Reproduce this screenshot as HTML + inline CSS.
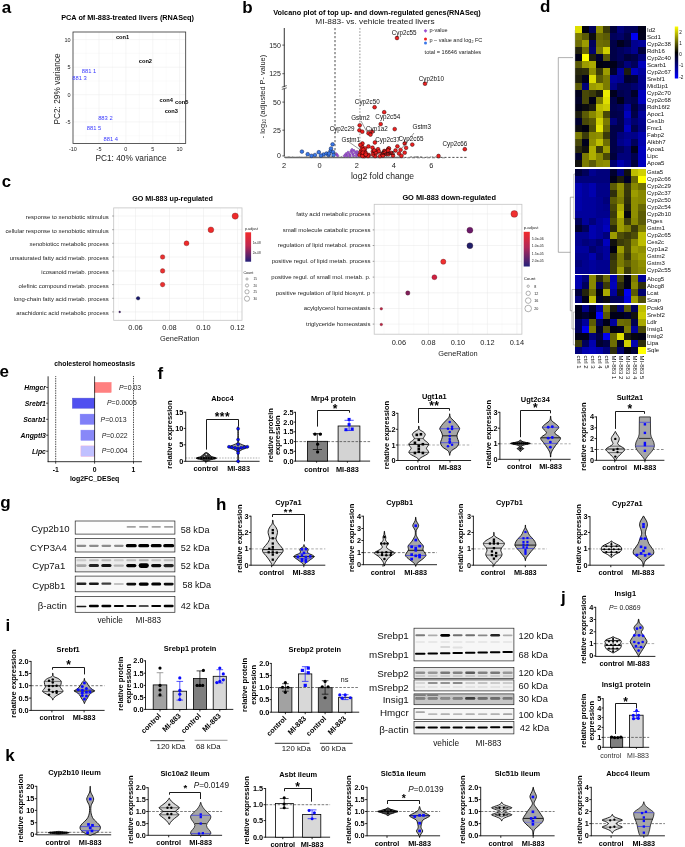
<!DOCTYPE html>
<html><head><meta charset="utf-8"><title>Figure</title>
<style>html,body{margin:0;padding:0;background:#fff}svg{display:block}text{font-family:"Liberation Sans", sans-serif}</style>
</head><body>
<svg width="685" height="847" viewBox="0 0 685 847" font-family='"Liberation Sans", sans-serif'>
<rect width="685" height="847" fill="#fff"/>
<text x="1.70" y="12.60" font-size="17" font-weight="bold">a</text>
<text x="127.60" y="20.00" font-size="7.3" text-anchor="middle" font-weight="bold">PCA of MI-883-treated livers (RNASeq)</text>
<line x1="99.00" y1="32.00" x2="99.00" y2="143.40" stroke="#ebebeb" stroke-width="0.5"/>
<line x1="125.90" y1="32.00" x2="125.90" y2="143.40" stroke="#ebebeb" stroke-width="0.5"/>
<line x1="152.80" y1="32.00" x2="152.80" y2="143.40" stroke="#ebebeb" stroke-width="0.5"/>
<line x1="179.60" y1="32.00" x2="179.60" y2="143.40" stroke="#ebebeb" stroke-width="0.5"/>
<line x1="86.00" y1="32.00" x2="86.00" y2="143.40" stroke="#f3f3f3" stroke-width="0.3"/>
<line x1="112.50" y1="32.00" x2="112.50" y2="143.40" stroke="#f3f3f3" stroke-width="0.3"/>
<line x1="139.30" y1="32.00" x2="139.30" y2="143.40" stroke="#f3f3f3" stroke-width="0.3"/>
<line x1="166.20" y1="32.00" x2="166.20" y2="143.40" stroke="#f3f3f3" stroke-width="0.3"/>
<line x1="73.00" y1="39.60" x2="185.70" y2="39.60" stroke="#ebebeb" stroke-width="0.5"/>
<line x1="73.00" y1="67.20" x2="185.70" y2="67.20" stroke="#ebebeb" stroke-width="0.5"/>
<line x1="73.00" y1="94.70" x2="185.70" y2="94.70" stroke="#ebebeb" stroke-width="0.5"/>
<line x1="73.00" y1="121.90" x2="185.70" y2="121.90" stroke="#ebebeb" stroke-width="0.5"/>
<line x1="73.00" y1="53.40" x2="185.70" y2="53.40" stroke="#f3f3f3" stroke-width="0.3"/>
<line x1="73.00" y1="81.00" x2="185.70" y2="81.00" stroke="#f3f3f3" stroke-width="0.3"/>
<line x1="73.00" y1="108.30" x2="185.70" y2="108.30" stroke="#f3f3f3" stroke-width="0.3"/>
<line x1="73.00" y1="135.60" x2="185.70" y2="135.60" stroke="#f3f3f3" stroke-width="0.3"/>
<rect x="73.00" y="32.00" width="112.70" height="111.40" fill="none" stroke="#333" stroke-width="0.8"/>
<text x="70.50" y="41.50" font-size="5.5" text-anchor="end" fill="#222">10</text>
<text x="70.50" y="69.10" font-size="5.5" text-anchor="end" fill="#222">5</text>
<text x="70.50" y="96.60" font-size="5.5" text-anchor="end" fill="#222">0</text>
<text x="70.50" y="123.80" font-size="5.5" text-anchor="end" fill="#222">-5</text>
<text x="72.90" y="150.80" font-size="5.5" text-anchor="middle" fill="#222">-10</text>
<text x="99.00" y="150.80" font-size="5.5" text-anchor="middle" fill="#222">-5</text>
<text x="125.90" y="150.80" font-size="5.5" text-anchor="middle" fill="#222">0</text>
<text x="152.80" y="150.80" font-size="5.5" text-anchor="middle" fill="#222">5</text>
<text x="179.60" y="150.80" font-size="5.5" text-anchor="middle" fill="#222">10</text>
<text x="131.00" y="161.00" font-size="8.3" text-anchor="middle" fill="#222">PC1: 40% variance</text>
<text transform="translate(60.00 89.00) rotate(-90)" font-size="8.3" text-anchor="middle" fill="#222">PC2: 29% variance</text>
<text x="122.60" y="38.80" font-size="5.7" text-anchor="middle" font-weight="bold">con1</text>
<text x="145.40" y="62.60" font-size="5.7" text-anchor="middle" font-weight="bold">con2</text>
<text x="166.20" y="102.20" font-size="5.7" text-anchor="middle" font-weight="bold">con4</text>
<text x="181.70" y="104.30" font-size="5.7" text-anchor="middle" font-weight="bold">con5</text>
<text x="171.30" y="112.60" font-size="5.7" text-anchor="middle" font-weight="bold">con3</text>
<text x="89.00" y="73.30" font-size="5.8" text-anchor="middle" fill="#3a3aff">881 1</text>
<text x="79.60" y="80.00" font-size="5.8" text-anchor="middle" fill="#3a3aff">881 3</text>
<text x="105.40" y="120.30" font-size="5.8" text-anchor="middle" fill="#3a3aff">883 2</text>
<text x="94.00" y="130.40" font-size="5.8" text-anchor="middle" fill="#3a3aff">881 5</text>
<text x="110.80" y="141.20" font-size="5.8" text-anchor="middle" fill="#3a3aff">881 4</text>
<text x="242.30" y="13.00" font-size="17" font-weight="bold">b</text>
<text x="377.00" y="15.20" font-size="7.3" text-anchor="middle" font-weight="bold">Volcano plot of top up- and down-regulated genes(RNASeq)</text>
<text transform="translate(375 23.9) scale(1.1 1)" font-size="7.55" text-anchor="middle" fill="#1a1a1a">MI-883- vs. vehicle treated livers</text>
<line x1="284.30" y1="28.00" x2="284.30" y2="156.50" stroke="#444" stroke-width="1.1"/>
<line x1="282.30" y1="45.10" x2="284.30" y2="45.10" stroke="#000" stroke-width="0.6"/>
<text x="280.90" y="47.60" font-size="7.0" text-anchor="end" fill="#222">150</text>
<line x1="282.30" y1="73.70" x2="284.30" y2="73.70" stroke="#000" stroke-width="0.6"/>
<text x="280.90" y="76.20" font-size="7.0" text-anchor="end" fill="#222">125</text>
<line x1="282.30" y1="102.10" x2="284.30" y2="102.10" stroke="#000" stroke-width="0.6"/>
<text x="280.90" y="104.60" font-size="7.0" text-anchor="end" fill="#222">50</text>
<line x1="282.30" y1="130.20" x2="284.30" y2="130.20" stroke="#000" stroke-width="0.6"/>
<text x="280.90" y="132.70" font-size="7.0" text-anchor="end" fill="#222">25</text>
<line x1="282.30" y1="155.90" x2="284.30" y2="155.90" stroke="#000" stroke-width="0.6"/>
<text x="280.90" y="158.40" font-size="7.0" text-anchor="end" fill="#222">0</text>
<line x1="281.80" y1="87.20" x2="286.80" y2="85.60" stroke="#000" stroke-width="0.6"/>
<line x1="281.80" y1="89.40" x2="286.80" y2="87.80" stroke="#000" stroke-width="0.6"/>
<rect x="283.70" y="86.90" width="1.20" height="1.40" fill="#fff"/>
<text transform="translate(265.20 96.60) rotate(-90)" font-size="7.4" text-anchor="middle" fill="#222">- log<tspan font-size="4.5" dy="1">10</tspan><tspan dy="-1"> (adjusted  P- value)</tspan></text>
<text x="284.00" y="167.60" font-size="7.4" text-anchor="middle" fill="#222">2</text>
<text x="319.60" y="167.60" font-size="7.4" text-anchor="middle" fill="#222">0</text>
<text x="356.90" y="167.60" font-size="7.4" text-anchor="middle" fill="#222">2</text>
<text x="393.80" y="167.60" font-size="7.4" text-anchor="middle" fill="#222">4</text>
<text x="431.40" y="167.60" font-size="7.4" text-anchor="middle" fill="#222">6</text>
<text x="382.50" y="178.80" font-size="8.6" text-anchor="middle" fill="#222">log2 fold change</text>
<line x1="335.00" y1="28.00" x2="335.00" y2="156.00" stroke="#000" stroke-width="0.7" stroke-dasharray="2.2 1.8"/>
<line x1="359.90" y1="28.00" x2="359.90" y2="156.00" stroke="#777" stroke-width="0.8" stroke-dasharray="1.6 1.6"/>
<line x1="284.30" y1="157.40" x2="468.00" y2="157.40" stroke="#000" stroke-width="0.7" stroke-dasharray="2.2 1.8"/>
<line x1="285.00" y1="157.60" x2="402.00" y2="157.60" stroke="#6a6a6a" stroke-width="1.5"/>
<line x1="402.00" y1="157.80" x2="445.00" y2="157.80" stroke="#8a8a8a" stroke-width="1.0" stroke-dasharray="3 2"/>
<circle cx="321.69" cy="156.93" r="0.60" fill="#777"/>
<circle cx="341.49" cy="156.96" r="0.60" fill="#777"/>
<circle cx="379.86" cy="156.64" r="0.60" fill="#777"/>
<circle cx="287.98" cy="157.10" r="0.60" fill="#777"/>
<circle cx="324.90" cy="156.74" r="0.60" fill="#777"/>
<circle cx="435.35" cy="156.88" r="0.60" fill="#777"/>
<circle cx="411.47" cy="156.89" r="0.60" fill="#777"/>
<circle cx="381.86" cy="156.69" r="0.60" fill="#777"/>
<circle cx="381.23" cy="157.12" r="0.60" fill="#777"/>
<circle cx="364.48" cy="157.04" r="0.60" fill="#777"/>
<circle cx="386.71" cy="156.64" r="0.60" fill="#777"/>
<circle cx="399.73" cy="156.95" r="0.60" fill="#777"/>
<circle cx="331.19" cy="156.62" r="0.60" fill="#777"/>
<circle cx="415.83" cy="156.88" r="0.60" fill="#777"/>
<circle cx="393.82" cy="157.13" r="0.60" fill="#777"/>
<circle cx="393.12" cy="157.15" r="0.60" fill="#777"/>
<circle cx="345.24" cy="157.08" r="0.60" fill="#777"/>
<circle cx="352.69" cy="157.16" r="0.60" fill="#777"/>
<circle cx="417.83" cy="156.66" r="0.60" fill="#777"/>
<circle cx="306.40" cy="156.73" r="0.60" fill="#777"/>
<circle cx="430.82" cy="156.86" r="0.60" fill="#777"/>
<circle cx="380.00" cy="156.78" r="0.60" fill="#777"/>
<circle cx="362.09" cy="156.83" r="0.60" fill="#777"/>
<circle cx="338.64" cy="156.95" r="0.60" fill="#777"/>
<circle cx="373.64" cy="157.14" r="0.60" fill="#777"/>
<circle cx="388.30" cy="157.16" r="0.60" fill="#777"/>
<circle cx="414.46" cy="157.19" r="0.60" fill="#777"/>
<circle cx="386.69" cy="156.70" r="0.60" fill="#777"/>
<circle cx="415.10" cy="157.18" r="0.60" fill="#777"/>
<circle cx="421.70" cy="156.94" r="0.60" fill="#777"/>
<circle cx="393.07" cy="156.73" r="0.60" fill="#777"/>
<circle cx="410.74" cy="156.94" r="0.60" fill="#777"/>
<circle cx="328.74" cy="156.64" r="0.60" fill="#777"/>
<circle cx="414.09" cy="157.19" r="0.60" fill="#777"/>
<circle cx="299.28" cy="157.08" r="0.60" fill="#777"/>
<circle cx="347.57" cy="156.69" r="0.60" fill="#777"/>
<circle cx="330.08" cy="157.06" r="0.60" fill="#777"/>
<circle cx="416.92" cy="156.63" r="0.60" fill="#777"/>
<circle cx="378.18" cy="156.63" r="0.60" fill="#777"/>
<circle cx="393.77" cy="156.80" r="0.60" fill="#777"/>
<circle cx="418.14" cy="157.19" r="0.60" fill="#777"/>
<circle cx="361.81" cy="157.20" r="0.60" fill="#777"/>
<circle cx="332.45" cy="156.65" r="0.60" fill="#777"/>
<circle cx="375.96" cy="156.62" r="0.60" fill="#777"/>
<circle cx="315.61" cy="156.84" r="0.60" fill="#777"/>
<circle cx="377.57" cy="156.69" r="0.60" fill="#777"/>
<circle cx="292.37" cy="157.12" r="0.60" fill="#777"/>
<circle cx="333.07" cy="157.18" r="0.60" fill="#777"/>
<circle cx="420.50" cy="156.83" r="0.60" fill="#777"/>
<circle cx="355.06" cy="156.91" r="0.60" fill="#777"/>
<circle cx="382.58" cy="156.96" r="0.60" fill="#777"/>
<circle cx="369.89" cy="156.97" r="0.60" fill="#777"/>
<circle cx="427.09" cy="156.90" r="0.60" fill="#777"/>
<circle cx="350.68" cy="157.03" r="0.60" fill="#777"/>
<circle cx="321.65" cy="156.78" r="0.60" fill="#777"/>
<circle cx="432.67" cy="156.91" r="0.60" fill="#777"/>
<circle cx="368.26" cy="156.61" r="0.60" fill="#777"/>
<circle cx="348.28" cy="156.95" r="0.60" fill="#777"/>
<circle cx="289.01" cy="156.97" r="0.60" fill="#777"/>
<circle cx="380.83" cy="156.64" r="0.60" fill="#777"/>
<path d="M336.5 152.5L338.0 154.2L336.5 155.9L335.0 154.2Z" fill="#9a4fd0" stroke="#4a2070" stroke-width="0.3"/>
<path d="M337.5 153.8L339.0 155.5L337.5 157.2L336.0 155.5Z" fill="#9a4fd0" stroke="#4a2070" stroke-width="0.3"/>
<path d="M346.0 152.3L347.5 154.0L346.0 155.7L344.5 154.0Z" fill="#9a4fd0" stroke="#4a2070" stroke-width="0.3"/>
<path d="M348.0 150.8L349.5 152.5L348.0 154.2L346.5 152.5Z" fill="#9a4fd0" stroke="#4a2070" stroke-width="0.3"/>
<path d="M349.5 152.8L351.0 154.5L349.5 156.2L348.0 154.5Z" fill="#9a4fd0" stroke="#4a2070" stroke-width="0.3"/>
<path d="M351.0 149.8L352.5 151.5L351.0 153.2L349.5 151.5Z" fill="#9a4fd0" stroke="#4a2070" stroke-width="0.3"/>
<path d="M352.5 151.8L354.0 153.5L352.5 155.2L351.0 153.5Z" fill="#9a4fd0" stroke="#4a2070" stroke-width="0.3"/>
<path d="M354.0 149.1L355.5 150.8L354.0 152.5L352.5 150.8Z" fill="#9a4fd0" stroke="#4a2070" stroke-width="0.3"/>
<path d="M355.5 151.3L357.0 153.0L355.5 154.7L354.0 153.0Z" fill="#9a4fd0" stroke="#4a2070" stroke-width="0.3"/>
<path d="M357.0 150.1L358.5 151.8L357.0 153.5L355.5 151.8Z" fill="#9a4fd0" stroke="#4a2070" stroke-width="0.3"/>
<path d="M358.0 152.3L359.5 154.0L358.0 155.7L356.5 154.0Z" fill="#9a4fd0" stroke="#4a2070" stroke-width="0.3"/>
<path d="M350.0 154.3L351.5 156.0L350.0 157.7L348.5 156.0Z" fill="#9a4fd0" stroke="#4a2070" stroke-width="0.3"/>
<path d="M347.0 154.1L348.5 155.8L347.0 157.5L345.5 155.8Z" fill="#9a4fd0" stroke="#4a2070" stroke-width="0.3"/>
<path d="M353.5 153.8L355.0 155.5L353.5 157.2L352.0 155.5Z" fill="#9a4fd0" stroke="#4a2070" stroke-width="0.3"/>
<path d="M356.5 154.1L358.0 155.8L356.5 157.5L355.0 155.8Z" fill="#9a4fd0" stroke="#4a2070" stroke-width="0.3"/>
<path d="M344.5 154.1L346.0 155.8L344.5 157.5L343.0 155.8Z" fill="#9a4fd0" stroke="#4a2070" stroke-width="0.3"/>
<path d="M352.0 148.1L353.5 149.8L352.0 151.5L350.5 149.8Z" fill="#9a4fd0" stroke="#4a2070" stroke-width="0.3"/>
<circle cx="301.90" cy="151.60" r="1.85" fill="#3a78e8" stroke="#0c1840" stroke-width="0.45"/>
<circle cx="307.70" cy="154.20" r="1.85" fill="#3a78e8" stroke="#0c1840" stroke-width="0.45"/>
<circle cx="318.80" cy="152.20" r="1.85" fill="#3a78e8" stroke="#0c1840" stroke-width="0.45"/>
<circle cx="315.00" cy="155.00" r="1.85" fill="#3a78e8" stroke="#0c1840" stroke-width="0.45"/>
<circle cx="323.50" cy="154.50" r="1.85" fill="#3a78e8" stroke="#0c1840" stroke-width="0.45"/>
<circle cx="326.50" cy="153.50" r="1.85" fill="#3a78e8" stroke="#0c1840" stroke-width="0.45"/>
<circle cx="328.50" cy="155.00" r="1.85" fill="#3a78e8" stroke="#0c1840" stroke-width="0.45"/>
<circle cx="330.50" cy="151.00" r="1.85" fill="#3a78e8" stroke="#0c1840" stroke-width="0.45"/>
<circle cx="332.60" cy="144.30" r="1.85" fill="#3a78e8" stroke="#0c1840" stroke-width="0.45"/>
<circle cx="331.00" cy="148.50" r="1.85" fill="#3a78e8" stroke="#0c1840" stroke-width="0.45"/>
<circle cx="333.00" cy="152.00" r="1.85" fill="#3a78e8" stroke="#0c1840" stroke-width="0.45"/>
<circle cx="329.00" cy="153.50" r="1.85" fill="#3a78e8" stroke="#0c1840" stroke-width="0.45"/>
<circle cx="333.50" cy="155.00" r="1.85" fill="#3a78e8" stroke="#0c1840" stroke-width="0.45"/>
<circle cx="321.00" cy="155.60" r="1.85" fill="#3a78e8" stroke="#0c1840" stroke-width="0.45"/>
<circle cx="311.50" cy="155.80" r="1.85" fill="#3a78e8" stroke="#0c1840" stroke-width="0.45"/>
<circle cx="372.85" cy="151.62" r="1.90" fill="#ee2020" stroke="#200000" stroke-width="0.45"/>
<circle cx="386.76" cy="153.58" r="1.90" fill="#ee2020" stroke="#200000" stroke-width="0.45"/>
<circle cx="374.48" cy="151.42" r="1.90" fill="#ee2020" stroke="#200000" stroke-width="0.45"/>
<circle cx="364.95" cy="151.64" r="1.90" fill="#ee2020" stroke="#200000" stroke-width="0.45"/>
<circle cx="378.08" cy="149.20" r="1.90" fill="#ee2020" stroke="#200000" stroke-width="0.45"/>
<circle cx="362.28" cy="154.03" r="1.90" fill="#ee2020" stroke="#200000" stroke-width="0.45"/>
<circle cx="362.17" cy="146.74" r="1.90" fill="#ee2020" stroke="#200000" stroke-width="0.45"/>
<circle cx="379.96" cy="156.12" r="1.90" fill="#ee2020" stroke="#200000" stroke-width="0.45"/>
<circle cx="388.47" cy="148.70" r="1.90" fill="#ee2020" stroke="#200000" stroke-width="0.45"/>
<circle cx="378.79" cy="151.48" r="1.90" fill="#ee2020" stroke="#200000" stroke-width="0.45"/>
<circle cx="364.15" cy="156.18" r="1.90" fill="#ee2020" stroke="#200000" stroke-width="0.45"/>
<circle cx="375.09" cy="156.05" r="1.90" fill="#ee2020" stroke="#200000" stroke-width="0.45"/>
<circle cx="365.11" cy="154.72" r="1.90" fill="#ee2020" stroke="#200000" stroke-width="0.45"/>
<circle cx="360.39" cy="151.99" r="1.90" fill="#ee2020" stroke="#200000" stroke-width="0.45"/>
<circle cx="372.50" cy="147.70" r="1.90" fill="#ee2020" stroke="#200000" stroke-width="0.45"/>
<circle cx="374.81" cy="150.80" r="1.90" fill="#ee2020" stroke="#200000" stroke-width="0.45"/>
<circle cx="374.24" cy="150.45" r="1.90" fill="#ee2020" stroke="#200000" stroke-width="0.45"/>
<circle cx="372.99" cy="154.60" r="1.90" fill="#ee2020" stroke="#200000" stroke-width="0.45"/>
<circle cx="388.93" cy="148.43" r="1.90" fill="#ee2020" stroke="#200000" stroke-width="0.45"/>
<circle cx="384.29" cy="151.01" r="1.90" fill="#ee2020" stroke="#200000" stroke-width="0.45"/>
<circle cx="368.80" cy="154.91" r="1.90" fill="#ee2020" stroke="#200000" stroke-width="0.45"/>
<circle cx="368.03" cy="155.98" r="1.90" fill="#ee2020" stroke="#200000" stroke-width="0.45"/>
<circle cx="382.11" cy="153.88" r="1.90" fill="#ee2020" stroke="#200000" stroke-width="0.45"/>
<circle cx="384.47" cy="154.11" r="1.90" fill="#ee2020" stroke="#200000" stroke-width="0.45"/>
<circle cx="387.76" cy="149.92" r="1.90" fill="#ee2020" stroke="#200000" stroke-width="0.45"/>
<circle cx="359.52" cy="154.90" r="1.90" fill="#ee2020" stroke="#200000" stroke-width="0.45"/>
<circle cx="386.35" cy="153.52" r="1.90" fill="#ee2020" stroke="#200000" stroke-width="0.45"/>
<circle cx="388.42" cy="154.22" r="1.90" fill="#ee2020" stroke="#200000" stroke-width="0.45"/>
<circle cx="361.65" cy="149.67" r="1.90" fill="#ee2020" stroke="#200000" stroke-width="0.45"/>
<circle cx="382.47" cy="154.93" r="1.90" fill="#ee2020" stroke="#200000" stroke-width="0.45"/>
<circle cx="362.07" cy="153.71" r="1.90" fill="#ee2020" stroke="#200000" stroke-width="0.45"/>
<circle cx="387.94" cy="150.91" r="1.90" fill="#ee2020" stroke="#200000" stroke-width="0.45"/>
<circle cx="362.98" cy="154.63" r="1.90" fill="#ee2020" stroke="#200000" stroke-width="0.45"/>
<circle cx="362.48" cy="156.01" r="1.90" fill="#ee2020" stroke="#200000" stroke-width="0.45"/>
<circle cx="383.01" cy="155.53" r="1.90" fill="#ee2020" stroke="#200000" stroke-width="0.45"/>
<circle cx="376.00" cy="153.11" r="1.90" fill="#ee2020" stroke="#200000" stroke-width="0.45"/>
<circle cx="365.13" cy="148.43" r="1.90" fill="#ee2020" stroke="#200000" stroke-width="0.45"/>
<circle cx="363.36" cy="149.61" r="1.90" fill="#ee2020" stroke="#200000" stroke-width="0.45"/>
<circle cx="362.94" cy="152.70" r="1.90" fill="#ee2020" stroke="#200000" stroke-width="0.45"/>
<circle cx="365.78" cy="154.48" r="1.90" fill="#ee2020" stroke="#200000" stroke-width="0.45"/>
<circle cx="388.14" cy="150.46" r="1.90" fill="#ee2020" stroke="#200000" stroke-width="0.45"/>
<circle cx="368.47" cy="146.40" r="1.90" fill="#ee2020" stroke="#200000" stroke-width="0.45"/>
<circle cx="365.72" cy="153.15" r="1.90" fill="#ee2020" stroke="#200000" stroke-width="0.45"/>
<circle cx="384.70" cy="151.76" r="1.90" fill="#ee2020" stroke="#200000" stroke-width="0.45"/>
<circle cx="362.46" cy="143.48" r="1.90" fill="#ee2020" stroke="#200000" stroke-width="0.45"/>
<circle cx="365.79" cy="154.59" r="1.90" fill="#ee2020" stroke="#200000" stroke-width="0.45"/>
<circle cx="391.50" cy="153.00" r="1.90" fill="#ee2020" stroke="#200000" stroke-width="0.45"/>
<circle cx="393.00" cy="155.50" r="1.90" fill="#ee2020" stroke="#200000" stroke-width="0.45"/>
<circle cx="399.00" cy="153.50" r="1.90" fill="#ee2020" stroke="#200000" stroke-width="0.45"/>
<circle cx="401.50" cy="155.80" r="1.90" fill="#ee2020" stroke="#200000" stroke-width="0.45"/>
<circle cx="395.50" cy="150.50" r="1.90" fill="#ee2020" stroke="#200000" stroke-width="0.45"/>
<circle cx="374.60" cy="107.20" r="1.90" fill="#ee2020" stroke="#200000" stroke-width="0.45"/>
<circle cx="384.20" cy="112.20" r="1.90" fill="#ee2020" stroke="#200000" stroke-width="0.45"/>
<circle cx="380.70" cy="124.10" r="1.90" fill="#ee2020" stroke="#200000" stroke-width="0.45"/>
<circle cx="359.70" cy="125.30" r="1.90" fill="#ee2020" stroke="#200000" stroke-width="0.45"/>
<circle cx="359.40" cy="130.30" r="1.90" fill="#ee2020" stroke="#200000" stroke-width="0.45"/>
<circle cx="362.30" cy="131.70" r="1.90" fill="#ee2020" stroke="#200000" stroke-width="0.45"/>
<circle cx="368.50" cy="133.20" r="1.90" fill="#ee2020" stroke="#200000" stroke-width="0.45"/>
<circle cx="370.50" cy="134.60" r="1.90" fill="#ee2020" stroke="#200000" stroke-width="0.45"/>
<circle cx="372.00" cy="131.70" r="1.90" fill="#ee2020" stroke="#200000" stroke-width="0.45"/>
<circle cx="394.70" cy="129.10" r="1.90" fill="#ee2020" stroke="#200000" stroke-width="0.45"/>
<circle cx="360.30" cy="144.90" r="1.90" fill="#ee2020" stroke="#200000" stroke-width="0.45"/>
<circle cx="374.90" cy="142.50" r="1.90" fill="#ee2020" stroke="#200000" stroke-width="0.45"/>
<circle cx="404.70" cy="143.40" r="1.90" fill="#ee2020" stroke="#200000" stroke-width="0.45"/>
<circle cx="412.30" cy="144.60" r="1.90" fill="#ee2020" stroke="#200000" stroke-width="0.45"/>
<circle cx="397.40" cy="146.30" r="1.90" fill="#ee2020" stroke="#200000" stroke-width="0.45"/>
<circle cx="400.60" cy="149.80" r="1.90" fill="#ee2020" stroke="#200000" stroke-width="0.45"/>
<circle cx="406.10" cy="147.80" r="1.90" fill="#ee2020" stroke="#200000" stroke-width="0.45"/>
<circle cx="404.70" cy="152.70" r="1.90" fill="#ee2020" stroke="#200000" stroke-width="0.45"/>
<circle cx="438.50" cy="156.00" r="1.90" fill="#ee2020" stroke="#200000" stroke-width="0.45"/>
<circle cx="464.80" cy="149.20" r="1.90" fill="#ee2020" stroke="#200000" stroke-width="0.45"/>
<circle cx="397.00" cy="38.00" r="1.90" fill="#ee2020" stroke="#200000" stroke-width="0.45"/>
<circle cx="425.00" cy="83.70" r="1.90" fill="#ee2020" stroke="#200000" stroke-width="0.45"/>
<line x1="361.00" y1="121.00" x2="367.00" y2="132.00" stroke="#000" stroke-width="0.4"/>
<line x1="414.00" y1="133.00" x2="402.00" y2="148.00" stroke="#000" stroke-width="0.4"/>
<line x1="349.00" y1="142.00" x2="360.50" y2="150.00" stroke="#000" stroke-width="0.4"/>
<line x1="386.00" y1="150.50" x2="372.00" y2="155.00" stroke="#000" stroke-width="0.3"/>
<text x="404.20" y="34.60" font-size="6.3" text-anchor="middle" fill="#111">Cyp2c55</text>
<text x="431.40" y="80.60" font-size="6.3" text-anchor="middle" fill="#111">Cyp2b10</text>
<text x="367.30" y="103.50" font-size="6.3" text-anchor="middle" fill="#111">Cyp2c50</text>
<text x="387.80" y="119.20" font-size="6.3" text-anchor="middle" fill="#111">Cyp2c54</text>
<text x="360.50" y="119.60" font-size="6.3" text-anchor="middle" fill="#111">Gstm2</text>
<text x="342.10" y="130.80" font-size="6.3" text-anchor="middle" fill="#111">Cyp2c29</text>
<text x="376.80" y="130.80" font-size="6.3" text-anchor="middle" fill="#111">Cyp1a2</text>
<text x="350.80" y="142.30" font-size="6.3" text-anchor="middle" fill="#111">Gstm1</text>
<text x="387.70" y="141.80" font-size="6.3" text-anchor="middle" fill="#111">Cyp2c37</text>
<text x="411.00" y="140.60" font-size="6.3" text-anchor="middle" fill="#111">Cyp2c65</text>
<text x="421.80" y="129.00" font-size="6.3" text-anchor="middle" fill="#111">Gstm3</text>
<text x="454.90" y="145.80" font-size="6.3" text-anchor="middle" fill="#111">Cyp2c66</text>
<text x="388.00" y="154.80" font-size="5" text-anchor="middle" fill="#111">Gsta5</text>
<path d="M425.5 28.9L427.3 30.8L425.5 32.7L423.7 30.8Z" fill="#9a4fd0"/>
<circle cx="425.50" cy="38.90" r="1.50" fill="#ee2020"/>
<circle cx="425.50" cy="43.00" r="1.50" fill="#3a78e8"/>
<text x="429.50" y="32.20" font-size="5.5" fill="#222">p-value</text>
<text x="429.50" y="41.80" font-size="5.5" fill="#222">p – value and log<tspan font-size="3.6" dy="0.8">2</tspan><tspan dy="-0.8"> FC</tspan></text>
<text x="424.60" y="53.50" font-size="5.6" fill="#222">total = 16646 variables</text>
<text x="1.80" y="187.10" font-size="16.8" font-weight="bold">c</text>
<text x="172.50" y="200.60" font-size="7.15" text-anchor="middle" font-weight="bold">GO MI-883 up-regulated</text>
<line x1="135.50" y1="207.90" x2="135.50" y2="320.30" stroke="#e8e8e8" stroke-width="0.5"/>
<line x1="169.50" y1="207.90" x2="169.50" y2="320.30" stroke="#e8e8e8" stroke-width="0.5"/>
<line x1="203.50" y1="207.90" x2="203.50" y2="320.30" stroke="#e8e8e8" stroke-width="0.5"/>
<line x1="237.50" y1="207.90" x2="237.50" y2="320.30" stroke="#e8e8e8" stroke-width="0.5"/>
<line x1="118.50" y1="207.90" x2="118.50" y2="320.30" stroke="#f2f2f2" stroke-width="0.3"/>
<line x1="152.50" y1="207.90" x2="152.50" y2="320.30" stroke="#f2f2f2" stroke-width="0.3"/>
<line x1="186.50" y1="207.90" x2="186.50" y2="320.30" stroke="#f2f2f2" stroke-width="0.3"/>
<line x1="220.50" y1="207.90" x2="220.50" y2="320.30" stroke="#f2f2f2" stroke-width="0.3"/>
<line x1="113.70" y1="216.00" x2="242.00" y2="216.00" stroke="#e8e8e8" stroke-width="0.5"/>
<line x1="113.70" y1="229.70" x2="242.00" y2="229.70" stroke="#e8e8e8" stroke-width="0.5"/>
<line x1="113.70" y1="243.30" x2="242.00" y2="243.30" stroke="#e8e8e8" stroke-width="0.5"/>
<line x1="113.70" y1="257.00" x2="242.00" y2="257.00" stroke="#e8e8e8" stroke-width="0.5"/>
<line x1="113.70" y1="270.90" x2="242.00" y2="270.90" stroke="#e8e8e8" stroke-width="0.5"/>
<line x1="113.70" y1="284.60" x2="242.00" y2="284.60" stroke="#e8e8e8" stroke-width="0.5"/>
<line x1="113.70" y1="298.30" x2="242.00" y2="298.30" stroke="#e8e8e8" stroke-width="0.5"/>
<line x1="113.70" y1="311.90" x2="242.00" y2="311.90" stroke="#e8e8e8" stroke-width="0.5"/>
<rect x="113.70" y="207.90" width="128.30" height="112.40" fill="none" stroke="#c4c4c4" stroke-width="0.8"/>
<line x1="112.20" y1="216.00" x2="113.70" y2="216.00" stroke="#444" stroke-width="0.5"/>
<line x1="112.20" y1="229.70" x2="113.70" y2="229.70" stroke="#444" stroke-width="0.5"/>
<line x1="112.20" y1="243.30" x2="113.70" y2="243.30" stroke="#444" stroke-width="0.5"/>
<line x1="112.20" y1="257.00" x2="113.70" y2="257.00" stroke="#444" stroke-width="0.5"/>
<line x1="112.20" y1="270.90" x2="113.70" y2="270.90" stroke="#444" stroke-width="0.5"/>
<line x1="112.20" y1="284.60" x2="113.70" y2="284.60" stroke="#444" stroke-width="0.5"/>
<line x1="112.20" y1="298.30" x2="113.70" y2="298.30" stroke="#444" stroke-width="0.5"/>
<line x1="112.20" y1="311.90" x2="113.70" y2="311.90" stroke="#444" stroke-width="0.5"/>
<text x="108.70" y="219.00" font-size="5.95" text-anchor="end" fill="#222">response to xenobiotic stimulus</text>
<text x="108.70" y="232.70" font-size="5.95" text-anchor="end" fill="#222">cellular response to xenobiotic stimulus</text>
<text x="108.70" y="246.30" font-size="5.95" text-anchor="end" fill="#222">xenobioticc metabolic process</text>
<text x="108.70" y="260.00" font-size="5.95" text-anchor="end" fill="#222">unsaturated fatty acid metab. process</text>
<text x="108.70" y="273.90" font-size="5.95" text-anchor="end" fill="#222">icosanoid metab. process</text>
<text x="108.70" y="287.60" font-size="5.95" text-anchor="end" fill="#222">olefinic compound metab. process</text>
<text x="108.70" y="301.30" font-size="5.95" text-anchor="end" fill="#222">long-chain fatty acid metab. process</text>
<text x="108.70" y="314.90" font-size="5.95" text-anchor="end" fill="#222">arachidonic acid metabolic process</text>
<text x="135.50" y="329.80" font-size="7.4" text-anchor="middle" fill="#222">0.06</text>
<text x="169.50" y="329.80" font-size="7.4" text-anchor="middle" fill="#222">0.08</text>
<text x="203.50" y="329.80" font-size="7.4" text-anchor="middle" fill="#222">0.10</text>
<text x="237.50" y="329.80" font-size="7.4" text-anchor="middle" fill="#222">0.12</text>
<text x="179.70" y="340.80" font-size="7.4" text-anchor="middle" fill="#222">GeneRation</text>
<circle cx="235.20" cy="216.10" r="3.15" fill="#ee2a2a" stroke="#501010" stroke-width="0.3"/>
<circle cx="210.90" cy="229.80" r="2.90" fill="#ee2a2a" stroke="#501010" stroke-width="0.3"/>
<circle cx="186.50" cy="243.30" r="2.50" fill="#ee2a2a" stroke="#501010" stroke-width="0.3"/>
<circle cx="162.60" cy="257.00" r="2.30" fill="#ea3030" stroke="#501010" stroke-width="0.3"/>
<circle cx="162.60" cy="270.90" r="2.30" fill="#ea3030" stroke="#501010" stroke-width="0.3"/>
<circle cx="162.60" cy="284.60" r="2.30" fill="#ea3030" stroke="#501010" stroke-width="0.3"/>
<circle cx="138.10" cy="298.30" r="1.80" fill="#1a1a6a" stroke="#101030" stroke-width="0.3"/>
<circle cx="119.70" cy="311.90" r="0.90" fill="#401060" stroke="#101030" stroke-width="0.3"/>
<defs><linearGradient id="g1" x1="0" y1="0" x2="0" y2="1"><stop offset="0" stop-color="#f22a2a"/><stop offset="0.45" stop-color="#c02850"/><stop offset="1" stop-color="#24207a"/></linearGradient></defs>
<text x="245.00" y="229.60" font-size="3.7" fill="#222">p.adjust</text>
<rect x="245.30" y="232.30" width="5.80" height="29.40" fill="url(#g1)"/>
<text x="252.80" y="243.60" font-size="3.1" fill="#222">1e-08</text>
<text x="252.80" y="253.70" font-size="3.1" fill="#222">2e-08</text>
<text x="243.40" y="273.60" font-size="3.7" fill="#222">Count</text>
<circle cx="247.00" cy="279.00" r="1.10" fill="#fff" stroke="#222" stroke-width="0.35"/>
<text x="253.50" y="280.10" font-size="3.1" fill="#222">15</text>
<circle cx="247.00" cy="285.50" r="1.60" fill="#fff" stroke="#222" stroke-width="0.35"/>
<text x="253.50" y="286.60" font-size="3.1" fill="#222">20</text>
<circle cx="247.00" cy="291.80" r="2.10" fill="#fff" stroke="#222" stroke-width="0.35"/>
<text x="253.50" y="292.90" font-size="3.1" fill="#222">25</text>
<circle cx="247.00" cy="298.70" r="2.60" fill="#fff" stroke="#222" stroke-width="0.35"/>
<text x="253.50" y="299.80" font-size="3.1" fill="#222">30</text>
<text x="449.20" y="199.60" font-size="7.4" text-anchor="middle" font-weight="bold">GO MI-883 down-regulated</text>
<line x1="398.90" y1="204.30" x2="398.90" y2="334.20" stroke="#e8e8e8" stroke-width="0.5"/>
<line x1="428.40" y1="204.30" x2="428.40" y2="334.20" stroke="#e8e8e8" stroke-width="0.5"/>
<line x1="457.90" y1="204.30" x2="457.90" y2="334.20" stroke="#e8e8e8" stroke-width="0.5"/>
<line x1="487.40" y1="204.30" x2="487.40" y2="334.20" stroke="#e8e8e8" stroke-width="0.5"/>
<line x1="516.90" y1="204.30" x2="516.90" y2="334.20" stroke="#e8e8e8" stroke-width="0.5"/>
<line x1="384.10" y1="204.30" x2="384.10" y2="334.20" stroke="#f2f2f2" stroke-width="0.3"/>
<line x1="413.60" y1="204.30" x2="413.60" y2="334.20" stroke="#f2f2f2" stroke-width="0.3"/>
<line x1="443.10" y1="204.30" x2="443.10" y2="334.20" stroke="#f2f2f2" stroke-width="0.3"/>
<line x1="472.60" y1="204.30" x2="472.60" y2="334.20" stroke="#f2f2f2" stroke-width="0.3"/>
<line x1="502.10" y1="204.30" x2="502.10" y2="334.20" stroke="#f2f2f2" stroke-width="0.3"/>
<line x1="374.20" y1="213.90" x2="521.90" y2="213.90" stroke="#e8e8e8" stroke-width="0.5"/>
<line x1="374.20" y1="229.90" x2="521.90" y2="229.90" stroke="#e8e8e8" stroke-width="0.5"/>
<line x1="374.20" y1="245.50" x2="521.90" y2="245.50" stroke="#e8e8e8" stroke-width="0.5"/>
<line x1="374.20" y1="261.30" x2="521.90" y2="261.30" stroke="#e8e8e8" stroke-width="0.5"/>
<line x1="374.20" y1="277.10" x2="521.90" y2="277.10" stroke="#e8e8e8" stroke-width="0.5"/>
<line x1="374.20" y1="292.80" x2="521.90" y2="292.80" stroke="#e8e8e8" stroke-width="0.5"/>
<line x1="374.20" y1="308.50" x2="521.90" y2="308.50" stroke="#e8e8e8" stroke-width="0.5"/>
<line x1="374.20" y1="324.10" x2="521.90" y2="324.10" stroke="#e8e8e8" stroke-width="0.5"/>
<rect x="374.20" y="204.30" width="147.70" height="129.90" fill="none" stroke="#c4c4c4" stroke-width="0.8"/>
<line x1="372.70" y1="213.90" x2="374.20" y2="213.90" stroke="#444" stroke-width="0.5"/>
<line x1="372.70" y1="229.90" x2="374.20" y2="229.90" stroke="#444" stroke-width="0.5"/>
<line x1="372.70" y1="245.50" x2="374.20" y2="245.50" stroke="#444" stroke-width="0.5"/>
<line x1="372.70" y1="261.30" x2="374.20" y2="261.30" stroke="#444" stroke-width="0.5"/>
<line x1="372.70" y1="277.10" x2="374.20" y2="277.10" stroke="#444" stroke-width="0.5"/>
<line x1="372.70" y1="292.80" x2="374.20" y2="292.80" stroke="#444" stroke-width="0.5"/>
<line x1="372.70" y1="308.50" x2="374.20" y2="308.50" stroke="#444" stroke-width="0.5"/>
<line x1="372.70" y1="324.10" x2="374.20" y2="324.10" stroke="#444" stroke-width="0.5"/>
<text x="370.40" y="215.80" font-size="6.0" text-anchor="end" fill="#222">fatty acid metabolic process</text>
<text x="370.40" y="231.80" font-size="6.0" text-anchor="end" fill="#222">small molecule catabolic process</text>
<text x="370.40" y="247.40" font-size="6.0" text-anchor="end" fill="#222">regulation of lipid metabol. process</text>
<text x="370.40" y="263.20" font-size="6.0" text-anchor="end" fill="#222">positive regul. of lipid metab. process</text>
<text x="370.40" y="279.00" font-size="6.0" text-anchor="end" fill="#222">positive regul. of small mol. metab. p.</text>
<text x="370.40" y="294.70" font-size="6.0" text-anchor="end" fill="#222">positive regulation of lipid biosynt. p</text>
<text x="370.40" y="310.40" font-size="6.0" text-anchor="end" fill="#222">acylglycerol homeostasis</text>
<text x="370.40" y="326.00" font-size="6.0" text-anchor="end" fill="#222">triglyceride homeostasis</text>
<text x="398.90" y="344.70" font-size="7.4" text-anchor="middle" fill="#222">0.06</text>
<text x="428.40" y="344.70" font-size="7.4" text-anchor="middle" fill="#222">0.08</text>
<text x="457.90" y="344.70" font-size="7.4" text-anchor="middle" fill="#222">0.10</text>
<text x="487.40" y="344.70" font-size="7.4" text-anchor="middle" fill="#222">0.12</text>
<text x="516.90" y="344.70" font-size="7.4" text-anchor="middle" fill="#222">0.14</text>
<text x="458.00" y="355.60" font-size="7.4" text-anchor="middle" fill="#222">GeneRation</text>
<circle cx="514.30" cy="213.90" r="3.40" fill="#f03030" stroke="#401020" stroke-width="0.3"/>
<circle cx="469.90" cy="230.20" r="3.00" fill="#6a1a6a" stroke="#401020" stroke-width="0.3"/>
<circle cx="469.90" cy="245.70" r="3.00" fill="#20206a" stroke="#401020" stroke-width="0.3"/>
<circle cx="443.30" cy="261.70" r="2.60" fill="#f03030" stroke="#401020" stroke-width="0.3"/>
<circle cx="434.40" cy="277.20" r="2.50" fill="#d02040" stroke="#401020" stroke-width="0.3"/>
<circle cx="407.80" cy="293.00" r="2.20" fill="#80205a" stroke="#401020" stroke-width="0.3"/>
<circle cx="381.30" cy="308.80" r="1.30" fill="#c02040" stroke="#401020" stroke-width="0.3"/>
<circle cx="381.30" cy="324.50" r="1.30" fill="#c02040" stroke="#401020" stroke-width="0.3"/>
<defs><linearGradient id="g2" x1="0" y1="0" x2="0" y2="1"><stop offset="0" stop-color="#f22a2a"/><stop offset="0.45" stop-color="#b02858"/><stop offset="1" stop-color="#24207a"/></linearGradient></defs>
<text x="523.70" y="229.20" font-size="4.2" fill="#222">p.adjust</text>
<rect x="523.70" y="231.80" width="6.10" height="34.70" fill="url(#g2)"/>
<text x="531.80" y="239.50" font-size="3.5" fill="#222">5.0e-06</text>
<text x="531.80" y="246.90" font-size="3.5" fill="#222">1.0e-05</text>
<text x="531.80" y="254.50" font-size="3.5" fill="#222">1.5e-05</text>
<text x="531.80" y="261.90" font-size="3.5" fill="#222">2.0e-05</text>
<text x="523.70" y="280.30" font-size="4.4" fill="#222">Count</text>
<circle cx="528.20" cy="286.20" r="1.20" fill="#fff" stroke="#222" stroke-width="0.35"/>
<text x="534.30" y="287.50" font-size="3.7" fill="#222">8</text>
<circle cx="528.20" cy="293.30" r="2.20" fill="#fff" stroke="#222" stroke-width="0.35"/>
<text x="534.30" y="294.60" font-size="3.7" fill="#222">12</text>
<circle cx="528.20" cy="300.60" r="2.80" fill="#fff" stroke="#222" stroke-width="0.35"/>
<text x="534.30" y="301.90" font-size="3.7" fill="#222">16</text>
<circle cx="528.20" cy="308.50" r="3.30" fill="#fff" stroke="#222" stroke-width="0.35"/>
<text x="534.30" y="309.80" font-size="3.7" fill="#222">20</text>
<text x="540.00" y="11.80" font-size="17" font-weight="bold">d</text>
<g shape-rendering="crispEdges">
<rect x="575.20" y="26.30" width="7.08" height="7.08" fill="#dede00"/>
<rect x="582.23" y="26.30" width="7.08" height="7.08" fill="#000010"/>
<rect x="589.26" y="26.30" width="7.08" height="7.08" fill="#00005b"/>
<rect x="596.29" y="26.30" width="7.08" height="7.08" fill="#8f8f00"/>
<rect x="603.32" y="26.30" width="7.08" height="7.08" fill="#3b3b09"/>
<rect x="610.35" y="26.30" width="7.08" height="7.08" fill="#00003b"/>
<rect x="617.38" y="26.30" width="7.08" height="7.08" fill="#00007b"/>
<rect x="624.41" y="26.30" width="7.08" height="7.08" fill="#00005b"/>
<rect x="631.44" y="26.30" width="7.08" height="7.08" fill="#00005b"/>
<rect x="638.47" y="26.30" width="7.08" height="7.08" fill="#000018"/>
<rect x="575.20" y="33.33" width="7.08" height="7.08" fill="#7b7b01"/>
<rect x="582.23" y="33.33" width="7.08" height="7.08" fill="#5b5b05"/>
<rect x="589.26" y="33.33" width="7.08" height="7.08" fill="#0b0b0f"/>
<rect x="596.29" y="33.33" width="7.08" height="7.08" fill="#686803"/>
<rect x="603.32" y="33.33" width="7.08" height="7.08" fill="#5b5b05"/>
<rect x="610.35" y="33.33" width="7.08" height="7.08" fill="#00005b"/>
<rect x="617.38" y="33.33" width="7.08" height="7.08" fill="#000068"/>
<rect x="624.41" y="33.33" width="7.08" height="7.08" fill="#000048"/>
<rect x="631.44" y="33.33" width="7.08" height="7.08" fill="#0000f2"/>
<rect x="638.47" y="33.33" width="7.08" height="7.08" fill="#00001d"/>
<rect x="575.20" y="40.35" width="7.08" height="7.08" fill="#6e6e03"/>
<rect x="582.23" y="40.35" width="7.08" height="7.08" fill="#9c9c00"/>
<rect x="589.26" y="40.35" width="7.08" height="7.08" fill="#00005b"/>
<rect x="596.29" y="40.35" width="7.08" height="7.08" fill="#6e6e03"/>
<rect x="603.32" y="40.35" width="7.08" height="7.08" fill="#686803"/>
<rect x="610.35" y="40.35" width="7.08" height="7.08" fill="#000048"/>
<rect x="617.38" y="40.35" width="7.08" height="7.08" fill="#00001d"/>
<rect x="624.41" y="40.35" width="7.08" height="7.08" fill="#00003b"/>
<rect x="631.44" y="40.35" width="7.08" height="7.08" fill="#00008f"/>
<rect x="638.47" y="40.35" width="7.08" height="7.08" fill="#00009c"/>
<rect x="575.20" y="47.38" width="7.08" height="7.08" fill="#23230c"/>
<rect x="582.23" y="47.38" width="7.08" height="7.08" fill="#6e6e03"/>
<rect x="589.26" y="47.38" width="7.08" height="7.08" fill="#00006e"/>
<rect x="596.29" y="47.38" width="7.08" height="7.08" fill="#7b7b01"/>
<rect x="603.32" y="47.38" width="7.08" height="7.08" fill="#d0d000"/>
<rect x="610.35" y="47.38" width="7.08" height="7.08" fill="#000048"/>
<rect x="617.38" y="47.38" width="7.08" height="7.08" fill="#00005b"/>
<rect x="624.41" y="47.38" width="7.08" height="7.08" fill="#00006e"/>
<rect x="631.44" y="47.38" width="7.08" height="7.08" fill="#00008f"/>
<rect x="638.47" y="47.38" width="7.08" height="7.08" fill="#00003b"/>
<rect x="575.20" y="54.40" width="7.08" height="7.08" fill="#000018"/>
<rect x="582.23" y="54.40" width="7.08" height="7.08" fill="#ffff00"/>
<rect x="589.26" y="54.40" width="7.08" height="7.08" fill="#1d1d0d"/>
<rect x="596.29" y="54.40" width="7.08" height="7.08" fill="#00002f"/>
<rect x="603.32" y="54.40" width="7.08" height="7.08" fill="#5b5b05"/>
<rect x="610.35" y="54.40" width="7.08" height="7.08" fill="#000048"/>
<rect x="617.38" y="54.40" width="7.08" height="7.08" fill="#00005b"/>
<rect x="624.41" y="54.40" width="7.08" height="7.08" fill="#00003b"/>
<rect x="631.44" y="54.40" width="7.08" height="7.08" fill="#000048"/>
<rect x="638.47" y="54.40" width="7.08" height="7.08" fill="#00007b"/>
<rect x="575.20" y="61.42" width="7.08" height="7.08" fill="#5b5b05"/>
<rect x="582.23" y="61.42" width="7.08" height="7.08" fill="#9c9c00"/>
<rect x="589.26" y="61.42" width="7.08" height="7.08" fill="#a9a900"/>
<rect x="596.29" y="61.42" width="7.08" height="7.08" fill="#000010"/>
<rect x="603.32" y="61.42" width="7.08" height="7.08" fill="#000018"/>
<rect x="610.35" y="61.42" width="7.08" height="7.08" fill="#000018"/>
<rect x="617.38" y="61.42" width="7.08" height="7.08" fill="#000048"/>
<rect x="624.41" y="61.42" width="7.08" height="7.08" fill="#00007b"/>
<rect x="631.44" y="61.42" width="7.08" height="7.08" fill="#00005b"/>
<rect x="638.47" y="61.42" width="7.08" height="7.08" fill="#0000bd"/>
<rect x="575.20" y="68.45" width="7.08" height="7.08" fill="#29290b"/>
<rect x="582.23" y="68.45" width="7.08" height="7.08" fill="#2f2f0b"/>
<rect x="589.26" y="68.45" width="7.08" height="7.08" fill="#8f8f00"/>
<rect x="596.29" y="68.45" width="7.08" height="7.08" fill="#3b3b09"/>
<rect x="603.32" y="68.45" width="7.08" height="7.08" fill="#9c9c00"/>
<rect x="610.35" y="68.45" width="7.08" height="7.08" fill="#00002f"/>
<rect x="617.38" y="68.45" width="7.08" height="7.08" fill="#00009c"/>
<rect x="624.41" y="68.45" width="7.08" height="7.08" fill="#1d1d0d"/>
<rect x="631.44" y="68.45" width="7.08" height="7.08" fill="#0000bd"/>
<rect x="638.47" y="68.45" width="7.08" height="7.08" fill="#00009c"/>
<rect x="575.20" y="75.48" width="7.08" height="7.08" fill="#1d1d0d"/>
<rect x="582.23" y="75.48" width="7.08" height="7.08" fill="#00001d"/>
<rect x="589.26" y="75.48" width="7.08" height="7.08" fill="#dede00"/>
<rect x="596.29" y="75.48" width="7.08" height="7.08" fill="#5b5b05"/>
<rect x="603.32" y="75.48" width="7.08" height="7.08" fill="#7b7b01"/>
<rect x="610.35" y="75.48" width="7.08" height="7.08" fill="#00009c"/>
<rect x="617.38" y="75.48" width="7.08" height="7.08" fill="#00008f"/>
<rect x="624.41" y="75.48" width="7.08" height="7.08" fill="#00002f"/>
<rect x="631.44" y="75.48" width="7.08" height="7.08" fill="#00003b"/>
<rect x="638.47" y="75.48" width="7.08" height="7.08" fill="#00008f"/>
<rect x="575.20" y="82.50" width="7.08" height="7.08" fill="#5b5b05"/>
<rect x="582.23" y="82.50" width="7.08" height="7.08" fill="#00007b"/>
<rect x="589.26" y="82.50" width="7.08" height="7.08" fill="#9c9c00"/>
<rect x="596.29" y="82.50" width="7.08" height="7.08" fill="#a9a900"/>
<rect x="603.32" y="82.50" width="7.08" height="7.08" fill="#7b7b01"/>
<rect x="610.35" y="82.50" width="7.08" height="7.08" fill="#000088"/>
<rect x="617.38" y="82.50" width="7.08" height="7.08" fill="#00005b"/>
<rect x="624.41" y="82.50" width="7.08" height="7.08" fill="#00005b"/>
<rect x="631.44" y="82.50" width="7.08" height="7.08" fill="#00006e"/>
<rect x="638.47" y="82.50" width="7.08" height="7.08" fill="#00008f"/>
<rect x="575.20" y="89.53" width="7.08" height="7.08" fill="#00001d"/>
<rect x="582.23" y="89.53" width="7.08" height="7.08" fill="#484807"/>
<rect x="589.26" y="89.53" width="7.08" height="7.08" fill="#3b3b09"/>
<rect x="596.29" y="89.53" width="7.08" height="7.08" fill="#1d1d0d"/>
<rect x="603.32" y="89.53" width="7.08" height="7.08" fill="#ebeb00"/>
<rect x="610.35" y="89.53" width="7.08" height="7.08" fill="#00001d"/>
<rect x="617.38" y="89.53" width="7.08" height="7.08" fill="#00004e"/>
<rect x="624.41" y="89.53" width="7.08" height="7.08" fill="#00005b"/>
<rect x="631.44" y="89.53" width="7.08" height="7.08" fill="#000029"/>
<rect x="638.47" y="89.53" width="7.08" height="7.08" fill="#0000bd"/>
<rect x="575.20" y="96.55" width="7.08" height="7.08" fill="#000029"/>
<rect x="582.23" y="96.55" width="7.08" height="7.08" fill="#484807"/>
<rect x="589.26" y="96.55" width="7.08" height="7.08" fill="#000018"/>
<rect x="596.29" y="96.55" width="7.08" height="7.08" fill="#7b7b01"/>
<rect x="603.32" y="96.55" width="7.08" height="7.08" fill="#dede00"/>
<rect x="610.35" y="96.55" width="7.08" height="7.08" fill="#000048"/>
<rect x="617.38" y="96.55" width="7.08" height="7.08" fill="#000018"/>
<rect x="624.41" y="96.55" width="7.08" height="7.08" fill="#00005b"/>
<rect x="631.44" y="96.55" width="7.08" height="7.08" fill="#00004e"/>
<rect x="638.47" y="96.55" width="7.08" height="7.08" fill="#0000bd"/>
<rect x="575.20" y="103.58" width="7.08" height="7.08" fill="#000018"/>
<rect x="582.23" y="103.58" width="7.08" height="7.08" fill="#0b0b0f"/>
<rect x="589.26" y="103.58" width="7.08" height="7.08" fill="#1d1d0d"/>
<rect x="596.29" y="103.58" width="7.08" height="7.08" fill="#bdbd00"/>
<rect x="603.32" y="103.58" width="7.08" height="7.08" fill="#caca00"/>
<rect x="610.35" y="103.58" width="7.08" height="7.08" fill="#00004e"/>
<rect x="617.38" y="103.58" width="7.08" height="7.08" fill="#00005b"/>
<rect x="624.41" y="103.58" width="7.08" height="7.08" fill="#00009c"/>
<rect x="631.44" y="103.58" width="7.08" height="7.08" fill="#00003b"/>
<rect x="638.47" y="103.58" width="7.08" height="7.08" fill="#00007b"/>
<rect x="575.20" y="110.60" width="7.08" height="7.08" fill="#1d1d0d"/>
<rect x="582.23" y="110.60" width="7.08" height="7.08" fill="#5b5b05"/>
<rect x="589.26" y="110.60" width="7.08" height="7.08" fill="#888800"/>
<rect x="596.29" y="110.60" width="7.08" height="7.08" fill="#afaf00"/>
<rect x="603.32" y="110.60" width="7.08" height="7.08" fill="#484807"/>
<rect x="610.35" y="110.60" width="7.08" height="7.08" fill="#000048"/>
<rect x="617.38" y="110.60" width="7.08" height="7.08" fill="#00004e"/>
<rect x="624.41" y="110.60" width="7.08" height="7.08" fill="#0000bd"/>
<rect x="631.44" y="110.60" width="7.08" height="7.08" fill="#000048"/>
<rect x="638.47" y="110.60" width="7.08" height="7.08" fill="#00009c"/>
<rect x="575.20" y="117.63" width="7.08" height="7.08" fill="#00002f"/>
<rect x="582.23" y="117.63" width="7.08" height="7.08" fill="#484807"/>
<rect x="589.26" y="117.63" width="7.08" height="7.08" fill="#5b5b05"/>
<rect x="596.29" y="117.63" width="7.08" height="7.08" fill="#d0d000"/>
<rect x="603.32" y="117.63" width="7.08" height="7.08" fill="#7b7b01"/>
<rect x="610.35" y="117.63" width="7.08" height="7.08" fill="#00007b"/>
<rect x="617.38" y="117.63" width="7.08" height="7.08" fill="#00004e"/>
<rect x="624.41" y="117.63" width="7.08" height="7.08" fill="#00009c"/>
<rect x="631.44" y="117.63" width="7.08" height="7.08" fill="#00006e"/>
<rect x="638.47" y="117.63" width="7.08" height="7.08" fill="#00008f"/>
<rect x="575.20" y="124.65" width="7.08" height="7.08" fill="#0b0b0f"/>
<rect x="582.23" y="124.65" width="7.08" height="7.08" fill="#000010"/>
<rect x="589.26" y="124.65" width="7.08" height="7.08" fill="#4e4e07"/>
<rect x="596.29" y="124.65" width="7.08" height="7.08" fill="#e4e400"/>
<rect x="603.32" y="124.65" width="7.08" height="7.08" fill="#686803"/>
<rect x="610.35" y="124.65" width="7.08" height="7.08" fill="#000048"/>
<rect x="617.38" y="124.65" width="7.08" height="7.08" fill="#000048"/>
<rect x="624.41" y="124.65" width="7.08" height="7.08" fill="#0000bd"/>
<rect x="631.44" y="124.65" width="7.08" height="7.08" fill="#00004e"/>
<rect x="638.47" y="124.65" width="7.08" height="7.08" fill="#000088"/>
<rect x="575.20" y="131.68" width="7.08" height="7.08" fill="#7b7b01"/>
<rect x="582.23" y="131.68" width="7.08" height="7.08" fill="#3b3b09"/>
<rect x="589.26" y="131.68" width="7.08" height="7.08" fill="#888800"/>
<rect x="596.29" y="131.68" width="7.08" height="7.08" fill="#8f8f00"/>
<rect x="603.32" y="131.68" width="7.08" height="7.08" fill="#3b3b09"/>
<rect x="610.35" y="131.68" width="7.08" height="7.08" fill="#000048"/>
<rect x="617.38" y="131.68" width="7.08" height="7.08" fill="#00007b"/>
<rect x="624.41" y="131.68" width="7.08" height="7.08" fill="#00008f"/>
<rect x="631.44" y="131.68" width="7.08" height="7.08" fill="#000088"/>
<rect x="638.47" y="131.68" width="7.08" height="7.08" fill="#0000af"/>
<rect x="575.20" y="138.70" width="7.08" height="7.08" fill="#484807"/>
<rect x="582.23" y="138.70" width="7.08" height="7.08" fill="#00001d"/>
<rect x="589.26" y="138.70" width="7.08" height="7.08" fill="#8f8f00"/>
<rect x="596.29" y="138.70" width="7.08" height="7.08" fill="#bdbd00"/>
<rect x="603.32" y="138.70" width="7.08" height="7.08" fill="#6e6e03"/>
<rect x="610.35" y="138.70" width="7.08" height="7.08" fill="#000048"/>
<rect x="617.38" y="138.70" width="7.08" height="7.08" fill="#000088"/>
<rect x="624.41" y="138.70" width="7.08" height="7.08" fill="#00009c"/>
<rect x="631.44" y="138.70" width="7.08" height="7.08" fill="#00005b"/>
<rect x="638.47" y="138.70" width="7.08" height="7.08" fill="#0000af"/>
<rect x="575.20" y="145.73" width="7.08" height="7.08" fill="#29290b"/>
<rect x="582.23" y="145.73" width="7.08" height="7.08" fill="#11110e"/>
<rect x="589.26" y="145.73" width="7.08" height="7.08" fill="#afaf00"/>
<rect x="596.29" y="145.73" width="7.08" height="7.08" fill="#3b3b09"/>
<rect x="603.32" y="145.73" width="7.08" height="7.08" fill="#9c9c00"/>
<rect x="610.35" y="145.73" width="7.08" height="7.08" fill="#000048"/>
<rect x="617.38" y="145.73" width="7.08" height="7.08" fill="#00005b"/>
<rect x="624.41" y="145.73" width="7.08" height="7.08" fill="#00007b"/>
<rect x="631.44" y="145.73" width="7.08" height="7.08" fill="#00001d"/>
<rect x="638.47" y="145.73" width="7.08" height="7.08" fill="#0000bd"/>
<rect x="575.20" y="152.75" width="7.08" height="7.08" fill="#00002f"/>
<rect x="582.23" y="152.75" width="7.08" height="7.08" fill="#7b7b01"/>
<rect x="589.26" y="152.75" width="7.08" height="7.08" fill="#afaf00"/>
<rect x="596.29" y="152.75" width="7.08" height="7.08" fill="#888800"/>
<rect x="603.32" y="152.75" width="7.08" height="7.08" fill="#484807"/>
<rect x="610.35" y="152.75" width="7.08" height="7.08" fill="#00003b"/>
<rect x="617.38" y="152.75" width="7.08" height="7.08" fill="#00007b"/>
<rect x="624.41" y="152.75" width="7.08" height="7.08" fill="#00007b"/>
<rect x="631.44" y="152.75" width="7.08" height="7.08" fill="#00004e"/>
<rect x="638.47" y="152.75" width="7.08" height="7.08" fill="#0000bd"/>
<rect x="575.20" y="159.78" width="7.08" height="7.08" fill="#11110e"/>
<rect x="582.23" y="159.78" width="7.08" height="7.08" fill="#7b7b01"/>
<rect x="589.26" y="159.78" width="7.08" height="7.08" fill="#5b5b05"/>
<rect x="596.29" y="159.78" width="7.08" height="7.08" fill="#888800"/>
<rect x="603.32" y="159.78" width="7.08" height="7.08" fill="#8f8f00"/>
<rect x="610.35" y="159.78" width="7.08" height="7.08" fill="#00006e"/>
<rect x="617.38" y="159.78" width="7.08" height="7.08" fill="#0000af"/>
<rect x="624.41" y="159.78" width="7.08" height="7.08" fill="#00008f"/>
<rect x="631.44" y="159.78" width="7.08" height="7.08" fill="#00003b"/>
<rect x="638.47" y="159.78" width="7.08" height="7.08" fill="#0000bd"/>
<rect x="575.20" y="168.80" width="7.08" height="7.04" fill="#00003b"/>
<rect x="582.23" y="168.80" width="7.08" height="7.04" fill="#00005b"/>
<rect x="589.26" y="168.80" width="7.08" height="7.04" fill="#00008f"/>
<rect x="596.29" y="168.80" width="7.08" height="7.04" fill="#00007b"/>
<rect x="603.32" y="168.80" width="7.08" height="7.04" fill="#00007b"/>
<rect x="610.35" y="168.80" width="7.08" height="7.04" fill="#00002f"/>
<rect x="617.38" y="168.80" width="7.08" height="7.04" fill="#00007b"/>
<rect x="624.41" y="168.80" width="7.08" height="7.04" fill="#11110e"/>
<rect x="631.44" y="168.80" width="7.08" height="7.04" fill="#bdbd00"/>
<rect x="638.47" y="168.80" width="7.08" height="7.04" fill="#d0d000"/>
<rect x="575.20" y="175.79" width="7.08" height="7.04" fill="#00007b"/>
<rect x="582.23" y="175.79" width="7.08" height="7.04" fill="#00007b"/>
<rect x="589.26" y="175.79" width="7.08" height="7.04" fill="#00007b"/>
<rect x="596.29" y="175.79" width="7.08" height="7.04" fill="#00007b"/>
<rect x="603.32" y="175.79" width="7.08" height="7.04" fill="#00007b"/>
<rect x="610.35" y="175.79" width="7.08" height="7.04" fill="#000018"/>
<rect x="617.38" y="175.79" width="7.08" height="7.04" fill="#1d1d0d"/>
<rect x="624.41" y="175.79" width="7.08" height="7.04" fill="#000029"/>
<rect x="631.44" y="175.79" width="7.08" height="7.04" fill="#686803"/>
<rect x="638.47" y="175.79" width="7.08" height="7.04" fill="#ffff00"/>
<rect x="575.20" y="182.77" width="7.08" height="7.04" fill="#0000af"/>
<rect x="582.23" y="182.77" width="7.08" height="7.04" fill="#00009c"/>
<rect x="589.26" y="182.77" width="7.08" height="7.04" fill="#0000af"/>
<rect x="596.29" y="182.77" width="7.08" height="7.04" fill="#000088"/>
<rect x="603.32" y="182.77" width="7.08" height="7.04" fill="#000088"/>
<rect x="610.35" y="182.77" width="7.08" height="7.04" fill="#5b5b05"/>
<rect x="617.38" y="182.77" width="7.08" height="7.04" fill="#8f8f00"/>
<rect x="624.41" y="182.77" width="7.08" height="7.04" fill="#3b3b09"/>
<rect x="631.44" y="182.77" width="7.08" height="7.04" fill="#888800"/>
<rect x="638.47" y="182.77" width="7.08" height="7.04" fill="#6e6e03"/>
<rect x="575.20" y="189.76" width="7.08" height="7.04" fill="#0000af"/>
<rect x="582.23" y="189.76" width="7.08" height="7.04" fill="#00009c"/>
<rect x="589.26" y="189.76" width="7.08" height="7.04" fill="#0000af"/>
<rect x="596.29" y="189.76" width="7.08" height="7.04" fill="#000088"/>
<rect x="603.32" y="189.76" width="7.08" height="7.04" fill="#000088"/>
<rect x="610.35" y="189.76" width="7.08" height="7.04" fill="#2f2f0b"/>
<rect x="617.38" y="189.76" width="7.08" height="7.04" fill="#888800"/>
<rect x="624.41" y="189.76" width="7.08" height="7.04" fill="#35350a"/>
<rect x="631.44" y="189.76" width="7.08" height="7.04" fill="#9c9c00"/>
<rect x="638.47" y="189.76" width="7.08" height="7.04" fill="#888800"/>
<rect x="575.20" y="196.75" width="7.08" height="7.04" fill="#0000a9"/>
<rect x="582.23" y="196.75" width="7.08" height="7.04" fill="#00009c"/>
<rect x="589.26" y="196.75" width="7.08" height="7.04" fill="#00009c"/>
<rect x="596.29" y="196.75" width="7.08" height="7.04" fill="#00008f"/>
<rect x="603.32" y="196.75" width="7.08" height="7.04" fill="#00007b"/>
<rect x="610.35" y="196.75" width="7.08" height="7.04" fill="#5b5b05"/>
<rect x="617.38" y="196.75" width="7.08" height="7.04" fill="#7b7b01"/>
<rect x="624.41" y="196.75" width="7.08" height="7.04" fill="#2f2f0b"/>
<rect x="631.44" y="196.75" width="7.08" height="7.04" fill="#8f8f00"/>
<rect x="638.47" y="196.75" width="7.08" height="7.04" fill="#888800"/>
<rect x="575.20" y="203.73" width="7.08" height="7.04" fill="#0000a9"/>
<rect x="582.23" y="203.73" width="7.08" height="7.04" fill="#00009c"/>
<rect x="589.26" y="203.73" width="7.08" height="7.04" fill="#00009c"/>
<rect x="596.29" y="203.73" width="7.08" height="7.04" fill="#00008f"/>
<rect x="603.32" y="203.73" width="7.08" height="7.04" fill="#000088"/>
<rect x="610.35" y="203.73" width="7.08" height="7.04" fill="#484807"/>
<rect x="617.38" y="203.73" width="7.08" height="7.04" fill="#a9a900"/>
<rect x="624.41" y="203.73" width="7.08" height="7.04" fill="#23230c"/>
<rect x="631.44" y="203.73" width="7.08" height="7.04" fill="#8f8f00"/>
<rect x="638.47" y="203.73" width="7.08" height="7.04" fill="#686803"/>
<rect x="575.20" y="210.72" width="7.08" height="7.04" fill="#00009c"/>
<rect x="582.23" y="210.72" width="7.08" height="7.04" fill="#00009c"/>
<rect x="589.26" y="210.72" width="7.08" height="7.04" fill="#00009c"/>
<rect x="596.29" y="210.72" width="7.08" height="7.04" fill="#00008f"/>
<rect x="603.32" y="210.72" width="7.08" height="7.04" fill="#00008f"/>
<rect x="610.35" y="210.72" width="7.08" height="7.04" fill="#3b3b09"/>
<rect x="617.38" y="210.72" width="7.08" height="7.04" fill="#bdbd00"/>
<rect x="624.41" y="210.72" width="7.08" height="7.04" fill="#050510"/>
<rect x="631.44" y="210.72" width="7.08" height="7.04" fill="#8f8f00"/>
<rect x="638.47" y="210.72" width="7.08" height="7.04" fill="#5b5b05"/>
<rect x="575.20" y="217.71" width="7.08" height="7.04" fill="#00005b"/>
<rect x="582.23" y="217.71" width="7.08" height="7.04" fill="#00009c"/>
<rect x="589.26" y="217.71" width="7.08" height="7.04" fill="#00007b"/>
<rect x="596.29" y="217.71" width="7.08" height="7.04" fill="#00009c"/>
<rect x="603.32" y="217.71" width="7.08" height="7.04" fill="#0000af"/>
<rect x="610.35" y="217.71" width="7.08" height="7.04" fill="#4e4e07"/>
<rect x="617.38" y="217.71" width="7.08" height="7.04" fill="#9c9c00"/>
<rect x="624.41" y="217.71" width="7.08" height="7.04" fill="#3b3b09"/>
<rect x="631.44" y="217.71" width="7.08" height="7.04" fill="#888800"/>
<rect x="638.47" y="217.71" width="7.08" height="7.04" fill="#5b5b05"/>
<rect x="575.20" y="224.70" width="7.08" height="7.04" fill="#00002f"/>
<rect x="582.23" y="224.70" width="7.08" height="7.04" fill="#00005b"/>
<rect x="589.26" y="224.70" width="7.08" height="7.04" fill="#0000af"/>
<rect x="596.29" y="224.70" width="7.08" height="7.04" fill="#00009c"/>
<rect x="603.32" y="224.70" width="7.08" height="7.04" fill="#0000bd"/>
<rect x="610.35" y="224.70" width="7.08" height="7.04" fill="#29290b"/>
<rect x="617.38" y="224.70" width="7.08" height="7.04" fill="#9c9c00"/>
<rect x="624.41" y="224.70" width="7.08" height="7.04" fill="#7b7b01"/>
<rect x="631.44" y="224.70" width="7.08" height="7.04" fill="#3b3b09"/>
<rect x="638.47" y="224.70" width="7.08" height="7.04" fill="#7b7b01"/>
<rect x="575.20" y="231.68" width="7.08" height="7.04" fill="#00008f"/>
<rect x="582.23" y="231.68" width="7.08" height="7.04" fill="#00008f"/>
<rect x="589.26" y="231.68" width="7.08" height="7.04" fill="#0000af"/>
<rect x="596.29" y="231.68" width="7.08" height="7.04" fill="#00009c"/>
<rect x="603.32" y="231.68" width="7.08" height="7.04" fill="#00007b"/>
<rect x="610.35" y="231.68" width="7.08" height="7.04" fill="#9c9c00"/>
<rect x="617.38" y="231.68" width="7.08" height="7.04" fill="#4e4e07"/>
<rect x="624.41" y="231.68" width="7.08" height="7.04" fill="#3b3b09"/>
<rect x="631.44" y="231.68" width="7.08" height="7.04" fill="#4e4e07"/>
<rect x="638.47" y="231.68" width="7.08" height="7.04" fill="#bdbd00"/>
<rect x="575.20" y="238.67" width="7.08" height="7.04" fill="#00008f"/>
<rect x="582.23" y="238.67" width="7.08" height="7.04" fill="#00007b"/>
<rect x="589.26" y="238.67" width="7.08" height="7.04" fill="#000088"/>
<rect x="596.29" y="238.67" width="7.08" height="7.04" fill="#00006e"/>
<rect x="603.32" y="238.67" width="7.08" height="7.04" fill="#0000bd"/>
<rect x="610.35" y="238.67" width="7.08" height="7.04" fill="#11110e"/>
<rect x="617.38" y="238.67" width="7.08" height="7.04" fill="#3b3b09"/>
<rect x="624.41" y="238.67" width="7.08" height="7.04" fill="#484807"/>
<rect x="631.44" y="238.67" width="7.08" height="7.04" fill="#888800"/>
<rect x="638.47" y="238.67" width="7.08" height="7.04" fill="#bdbd00"/>
<rect x="575.20" y="245.66" width="7.08" height="7.04" fill="#00009c"/>
<rect x="582.23" y="245.66" width="7.08" height="7.04" fill="#00009c"/>
<rect x="589.26" y="245.66" width="7.08" height="7.04" fill="#00006e"/>
<rect x="596.29" y="245.66" width="7.08" height="7.04" fill="#000088"/>
<rect x="603.32" y="245.66" width="7.08" height="7.04" fill="#00009c"/>
<rect x="610.35" y="245.66" width="7.08" height="7.04" fill="#000010"/>
<rect x="617.38" y="245.66" width="7.08" height="7.04" fill="#9c9c00"/>
<rect x="624.41" y="245.66" width="7.08" height="7.04" fill="#484807"/>
<rect x="631.44" y="245.66" width="7.08" height="7.04" fill="#9c9c00"/>
<rect x="638.47" y="245.66" width="7.08" height="7.04" fill="#8f8f00"/>
<rect x="575.20" y="252.64" width="7.08" height="7.04" fill="#00008f"/>
<rect x="582.23" y="252.64" width="7.08" height="7.04" fill="#00008f"/>
<rect x="589.26" y="252.64" width="7.08" height="7.04" fill="#0000af"/>
<rect x="596.29" y="252.64" width="7.08" height="7.04" fill="#00007b"/>
<rect x="603.32" y="252.64" width="7.08" height="7.04" fill="#00009c"/>
<rect x="610.35" y="252.64" width="7.08" height="7.04" fill="#2f2f0b"/>
<rect x="617.38" y="252.64" width="7.08" height="7.04" fill="#7b7b01"/>
<rect x="624.41" y="252.64" width="7.08" height="7.04" fill="#3b3b09"/>
<rect x="631.44" y="252.64" width="7.08" height="7.04" fill="#888800"/>
<rect x="638.47" y="252.64" width="7.08" height="7.04" fill="#9c9c00"/>
<rect x="575.20" y="259.63" width="7.08" height="7.04" fill="#00007b"/>
<rect x="582.23" y="259.63" width="7.08" height="7.04" fill="#00008f"/>
<rect x="589.26" y="259.63" width="7.08" height="7.04" fill="#00009c"/>
<rect x="596.29" y="259.63" width="7.08" height="7.04" fill="#00008f"/>
<rect x="603.32" y="259.63" width="7.08" height="7.04" fill="#00008f"/>
<rect x="610.35" y="259.63" width="7.08" height="7.04" fill="#3b3b09"/>
<rect x="617.38" y="259.63" width="7.08" height="7.04" fill="#7b7b01"/>
<rect x="624.41" y="259.63" width="7.08" height="7.04" fill="#5b5b05"/>
<rect x="631.44" y="259.63" width="7.08" height="7.04" fill="#7b7b01"/>
<rect x="638.47" y="259.63" width="7.08" height="7.04" fill="#8f8f00"/>
<rect x="575.20" y="266.62" width="7.08" height="7.04" fill="#00008f"/>
<rect x="582.23" y="266.62" width="7.08" height="7.04" fill="#00008f"/>
<rect x="589.26" y="266.62" width="7.08" height="7.04" fill="#00009c"/>
<rect x="596.29" y="266.62" width="7.08" height="7.04" fill="#00008f"/>
<rect x="603.32" y="266.62" width="7.08" height="7.04" fill="#00008f"/>
<rect x="610.35" y="266.62" width="7.08" height="7.04" fill="#3b3b09"/>
<rect x="617.38" y="266.62" width="7.08" height="7.04" fill="#9c9c00"/>
<rect x="624.41" y="266.62" width="7.08" height="7.04" fill="#3b3b09"/>
<rect x="631.44" y="266.62" width="7.08" height="7.04" fill="#7b7b01"/>
<rect x="638.47" y="266.62" width="7.08" height="7.04" fill="#888800"/>
<rect x="575.20" y="275.30" width="7.08" height="7.03" fill="#0000af"/>
<rect x="582.23" y="275.30" width="7.08" height="7.03" fill="#00007b"/>
<rect x="589.26" y="275.30" width="7.08" height="7.03" fill="#888800"/>
<rect x="596.29" y="275.30" width="7.08" height="7.03" fill="#29290b"/>
<rect x="603.32" y="275.30" width="7.08" height="7.03" fill="#686803"/>
<rect x="610.35" y="275.30" width="7.08" height="7.03" fill="#0000af"/>
<rect x="617.38" y="275.30" width="7.08" height="7.03" fill="#484807"/>
<rect x="624.41" y="275.30" width="7.08" height="7.03" fill="#000018"/>
<rect x="631.44" y="275.30" width="7.08" height="7.03" fill="#7b7b01"/>
<rect x="638.47" y="275.30" width="7.08" height="7.03" fill="#00009c"/>
<rect x="575.20" y="282.28" width="7.08" height="7.03" fill="#0000af"/>
<rect x="582.23" y="282.28" width="7.08" height="7.03" fill="#00005b"/>
<rect x="589.26" y="282.28" width="7.08" height="7.03" fill="#888800"/>
<rect x="596.29" y="282.28" width="7.08" height="7.03" fill="#00005b"/>
<rect x="603.32" y="282.28" width="7.08" height="7.03" fill="#3b3b09"/>
<rect x="610.35" y="282.28" width="7.08" height="7.03" fill="#0000bd"/>
<rect x="617.38" y="282.28" width="7.08" height="7.03" fill="#29290b"/>
<rect x="624.41" y="282.28" width="7.08" height="7.03" fill="#000018"/>
<rect x="631.44" y="282.28" width="7.08" height="7.03" fill="#888800"/>
<rect x="638.47" y="282.28" width="7.08" height="7.03" fill="#2f2f0b"/>
<rect x="575.20" y="289.26" width="7.08" height="7.03" fill="#00003b"/>
<rect x="582.23" y="289.26" width="7.08" height="7.03" fill="#23230c"/>
<rect x="589.26" y="289.26" width="7.08" height="7.03" fill="#6e6e03"/>
<rect x="596.29" y="289.26" width="7.08" height="7.03" fill="#000010"/>
<rect x="603.32" y="289.26" width="7.08" height="7.03" fill="#a9a900"/>
<rect x="610.35" y="289.26" width="7.08" height="7.03" fill="#00009c"/>
<rect x="617.38" y="289.26" width="7.08" height="7.03" fill="#11110e"/>
<rect x="624.41" y="289.26" width="7.08" height="7.03" fill="#0000f2"/>
<rect x="631.44" y="289.26" width="7.08" height="7.03" fill="#5b5b05"/>
<rect x="638.47" y="289.26" width="7.08" height="7.03" fill="#00006e"/>
<rect x="575.20" y="296.24" width="7.08" height="7.03" fill="#00007b"/>
<rect x="582.23" y="296.24" width="7.08" height="7.03" fill="#000018"/>
<rect x="589.26" y="296.24" width="7.08" height="7.03" fill="#bdbd00"/>
<rect x="596.29" y="296.24" width="7.08" height="7.03" fill="#000029"/>
<rect x="603.32" y="296.24" width="7.08" height="7.03" fill="#0b0b0f"/>
<rect x="610.35" y="296.24" width="7.08" height="7.03" fill="#00005b"/>
<rect x="617.38" y="296.24" width="7.08" height="7.03" fill="#00005b"/>
<rect x="624.41" y="296.24" width="7.08" height="7.03" fill="#0000de"/>
<rect x="631.44" y="296.24" width="7.08" height="7.03" fill="#9c9c00"/>
<rect x="638.47" y="296.24" width="7.08" height="7.03" fill="#4e4e07"/>
<rect x="575.20" y="304.90" width="7.08" height="6.99" fill="#000018"/>
<rect x="582.23" y="304.90" width="7.08" height="6.99" fill="#000088"/>
<rect x="589.26" y="304.90" width="7.08" height="6.99" fill="#000029"/>
<rect x="596.29" y="304.90" width="7.08" height="6.99" fill="#00009c"/>
<rect x="603.32" y="304.90" width="7.08" height="6.99" fill="#7b7b01"/>
<rect x="610.35" y="304.90" width="7.08" height="6.99" fill="#17170e"/>
<rect x="617.38" y="304.90" width="7.08" height="6.99" fill="#00007b"/>
<rect x="624.41" y="304.90" width="7.08" height="6.99" fill="#5b5b05"/>
<rect x="631.44" y="304.90" width="7.08" height="6.99" fill="#00005b"/>
<rect x="638.47" y="304.90" width="7.08" height="6.99" fill="#bdbd00"/>
<rect x="575.20" y="311.84" width="7.08" height="6.99" fill="#000018"/>
<rect x="582.23" y="311.84" width="7.08" height="6.99" fill="#00002f"/>
<rect x="589.26" y="311.84" width="7.08" height="6.99" fill="#000010"/>
<rect x="596.29" y="311.84" width="7.08" height="6.99" fill="#0000ff"/>
<rect x="603.32" y="311.84" width="7.08" height="6.99" fill="#5b5b05"/>
<rect x="610.35" y="311.84" width="7.08" height="6.99" fill="#000018"/>
<rect x="617.38" y="311.84" width="7.08" height="6.99" fill="#000018"/>
<rect x="624.41" y="311.84" width="7.08" height="6.99" fill="#00002f"/>
<rect x="631.44" y="311.84" width="7.08" height="6.99" fill="#11110e"/>
<rect x="638.47" y="311.84" width="7.08" height="6.99" fill="#caca00"/>
<rect x="575.20" y="318.78" width="7.08" height="6.99" fill="#00005b"/>
<rect x="582.23" y="318.78" width="7.08" height="6.99" fill="#00009c"/>
<rect x="589.26" y="318.78" width="7.08" height="6.99" fill="#5b5b05"/>
<rect x="596.29" y="318.78" width="7.08" height="6.99" fill="#00005b"/>
<rect x="603.32" y="318.78" width="7.08" height="6.99" fill="#000018"/>
<rect x="610.35" y="318.78" width="7.08" height="6.99" fill="#00009c"/>
<rect x="617.38" y="318.78" width="7.08" height="6.99" fill="#6e6e03"/>
<rect x="624.41" y="318.78" width="7.08" height="6.99" fill="#686803"/>
<rect x="631.44" y="318.78" width="7.08" height="6.99" fill="#00004e"/>
<rect x="638.47" y="318.78" width="7.08" height="6.99" fill="#a9a900"/>
<rect x="575.20" y="325.72" width="7.08" height="6.99" fill="#00005b"/>
<rect x="582.23" y="325.72" width="7.08" height="6.99" fill="#0000eb"/>
<rect x="589.26" y="325.72" width="7.08" height="6.99" fill="#7b7b01"/>
<rect x="596.29" y="325.72" width="7.08" height="6.99" fill="#000029"/>
<rect x="603.32" y="325.72" width="7.08" height="6.99" fill="#4e4e07"/>
<rect x="610.35" y="325.72" width="7.08" height="6.99" fill="#000010"/>
<rect x="617.38" y="325.72" width="7.08" height="6.99" fill="#00001d"/>
<rect x="624.41" y="325.72" width="7.08" height="6.99" fill="#7b7b01"/>
<rect x="631.44" y="325.72" width="7.08" height="6.99" fill="#00009c"/>
<rect x="638.47" y="325.72" width="7.08" height="6.99" fill="#484807"/>
<rect x="575.20" y="332.66" width="7.08" height="6.99" fill="#000018"/>
<rect x="582.23" y="332.66" width="7.08" height="6.99" fill="#000018"/>
<rect x="589.26" y="332.66" width="7.08" height="6.99" fill="#00007b"/>
<rect x="596.29" y="332.66" width="7.08" height="6.99" fill="#000048"/>
<rect x="603.32" y="332.66" width="7.08" height="6.99" fill="#0000f2"/>
<rect x="610.35" y="332.66" width="7.08" height="6.99" fill="#686803"/>
<rect x="617.38" y="332.66" width="7.08" height="6.99" fill="#dede00"/>
<rect x="624.41" y="332.66" width="7.08" height="6.99" fill="#17170e"/>
<rect x="631.44" y="332.66" width="7.08" height="6.99" fill="#050510"/>
<rect x="638.47" y="332.66" width="7.08" height="6.99" fill="#000018"/>
<rect x="575.20" y="339.60" width="7.08" height="6.99" fill="#3b3b09"/>
<rect x="582.23" y="339.60" width="7.08" height="6.99" fill="#00005b"/>
<rect x="589.26" y="339.60" width="7.08" height="6.99" fill="#0000af"/>
<rect x="596.29" y="339.60" width="7.08" height="6.99" fill="#00002f"/>
<rect x="603.32" y="339.60" width="7.08" height="6.99" fill="#000048"/>
<rect x="610.35" y="339.60" width="7.08" height="6.99" fill="#6e6e03"/>
<rect x="617.38" y="339.60" width="7.08" height="6.99" fill="#000029"/>
<rect x="624.41" y="339.60" width="7.08" height="6.99" fill="#d0d000"/>
<rect x="631.44" y="339.60" width="7.08" height="6.99" fill="#0000af"/>
<rect x="638.47" y="339.60" width="7.08" height="6.99" fill="#2f2f0b"/>
<rect x="575.20" y="346.54" width="7.08" height="6.99" fill="#00007b"/>
<rect x="582.23" y="346.54" width="7.08" height="6.99" fill="#0000af"/>
<rect x="589.26" y="346.54" width="7.08" height="6.99" fill="#0000bd"/>
<rect x="596.29" y="346.54" width="7.08" height="6.99" fill="#0000a9"/>
<rect x="603.32" y="346.54" width="7.08" height="6.99" fill="#00007b"/>
<rect x="610.35" y="346.54" width="7.08" height="6.99" fill="#2f2f0b"/>
<rect x="617.38" y="346.54" width="7.08" height="6.99" fill="#00006e"/>
<rect x="624.41" y="346.54" width="7.08" height="6.99" fill="#000010"/>
<rect x="631.44" y="346.54" width="7.08" height="6.99" fill="#00003b"/>
<rect x="638.47" y="346.54" width="7.08" height="6.99" fill="#ffff00"/>
</g>
<text x="647.00" y="31.91" font-size="6.05" fill="#111">Id2</text>
<text x="647.00" y="38.94" font-size="6.05" fill="#111">Scd1</text>
<text x="647.00" y="45.96" font-size="6.05" fill="#111">Cyp2c38</text>
<text x="647.00" y="52.99" font-size="6.05" fill="#111">Rdh16</text>
<text x="647.00" y="60.01" font-size="6.05" fill="#111">Cyp2c40</text>
<text x="647.00" y="67.04" font-size="6.05" fill="#111">Scarb1</text>
<text x="647.00" y="74.06" font-size="6.05" fill="#111">Cyp2c67</text>
<text x="647.00" y="81.09" font-size="6.05" fill="#111">Srebf1</text>
<text x="647.00" y="88.11" font-size="6.05" fill="#111">Mid1ip1</text>
<text x="647.00" y="95.14" font-size="6.05" fill="#111">Cyp2c70</text>
<text x="647.00" y="102.16" font-size="6.05" fill="#111">Cyp2c68</text>
<text x="647.00" y="109.19" font-size="6.05" fill="#111">Rdh16f2</text>
<text x="647.00" y="116.21" font-size="6.05" fill="#111">Apoc1</text>
<text x="647.00" y="123.24" font-size="6.05" fill="#111">Ces1b</text>
<text x="647.00" y="130.26" font-size="6.05" fill="#111">Fmc1</text>
<text x="647.00" y="137.29" font-size="6.05" fill="#111">Fabp2</text>
<text x="647.00" y="144.31" font-size="6.05" fill="#111">Alkbh7</text>
<text x="647.00" y="151.34" font-size="6.05" fill="#111">Apoa1</text>
<text x="647.00" y="158.36" font-size="6.05" fill="#111">Lipc</text>
<text x="647.00" y="165.39" font-size="6.05" fill="#111">Apoa5</text>
<text x="647.00" y="174.39" font-size="6.05" fill="#111">Gsta5</text>
<text x="647.00" y="181.38" font-size="6.05" fill="#111">Cyp2c66</text>
<text x="647.00" y="188.37" font-size="6.05" fill="#111">Cyp2c29</text>
<text x="647.00" y="195.35" font-size="6.05" fill="#111">Cyp2c37</text>
<text x="647.00" y="202.34" font-size="6.05" fill="#111">Cyp2c50</text>
<text x="647.00" y="209.33" font-size="6.05" fill="#111">Cyp2c54</text>
<text x="647.00" y="216.32" font-size="6.05" fill="#111">Cyp2b10</text>
<text x="647.00" y="223.30" font-size="6.05" fill="#111">Ptges</text>
<text x="647.00" y="230.29" font-size="6.05" fill="#111">Gstm1</text>
<text x="647.00" y="237.28" font-size="6.05" fill="#111">Cyp2c65</text>
<text x="647.00" y="244.26" font-size="6.05" fill="#111">Ces2c</text>
<text x="647.00" y="251.25" font-size="6.05" fill="#111">Cyp1a2</text>
<text x="647.00" y="258.24" font-size="6.05" fill="#111">Gstm2</text>
<text x="647.00" y="265.22" font-size="6.05" fill="#111">Gstm3</text>
<text x="647.00" y="272.21" font-size="6.05" fill="#111">Cyp2c55</text>
<text x="647.00" y="280.89" font-size="6.05" fill="#111">Abcg5</text>
<text x="647.00" y="287.87" font-size="6.05" fill="#111">Abcg8</text>
<text x="647.00" y="294.85" font-size="6.05" fill="#111">Lcat</text>
<text x="647.00" y="301.83" font-size="6.05" fill="#111">Scap</text>
<text x="647.00" y="310.47" font-size="6.05" fill="#111">Pcsk9</text>
<text x="647.00" y="317.41" font-size="6.05" fill="#111">Srebf2</text>
<text x="647.00" y="324.35" font-size="6.05" fill="#111">Ldlr</text>
<text x="647.00" y="331.29" font-size="6.05" fill="#111">Insig1</text>
<text x="647.00" y="338.23" font-size="6.05" fill="#111">Insig2</text>
<text x="647.00" y="345.17" font-size="6.05" fill="#111">Lipa</text>
<text x="647.00" y="352.11" font-size="6.05" fill="#111">Sqle</text>
<text transform="translate(576.51 355.60) rotate(90)" font-size="6.0" fill="#111">ctrl 1</text>
<text transform="translate(583.54 355.60) rotate(90)" font-size="6.0" fill="#111">ctrl 2</text>
<text transform="translate(590.58 355.60) rotate(90)" font-size="6.0" fill="#111">ctrl 3</text>
<text transform="translate(597.61 355.60) rotate(90)" font-size="6.0" fill="#111">ctrl 4</text>
<text transform="translate(604.63 355.60) rotate(90)" font-size="6.0" fill="#111">ctrl 5</text>
<text transform="translate(611.66 355.60) rotate(90)" font-size="6.0" fill="#111">MI-883 1</text>
<text transform="translate(618.70 355.60) rotate(90)" font-size="6.0" fill="#111">MI-883 2</text>
<text transform="translate(625.73 355.60) rotate(90)" font-size="6.0" fill="#111">MI-883 3</text>
<text transform="translate(632.75 355.60) rotate(90)" font-size="6.0" fill="#111">MI-883 4</text>
<text transform="translate(639.78 355.60) rotate(90)" font-size="6.0" fill="#111">MI-883 5</text>
<defs><linearGradient id="hm" x1="0" y1="0" x2="0" y2="1"><stop offset="0" stop-color="#ffff00"/><stop offset="0.5" stop-color="#000000"/><stop offset="1" stop-color="#0000ff"/></linearGradient></defs>
<rect x="674.80" y="26.50" width="3.40" height="52.00" fill="url(#hm)"/>
<text x="679.20" y="33.70" font-size="4.6" fill="#111">2</text>
<text x="679.20" y="44.60" font-size="4.6" fill="#111">1</text>
<text x="679.20" y="55.90" font-size="4.6" fill="#111">0</text>
<text x="679.20" y="67.20" font-size="4.6" fill="#111">-1</text>
<text x="679.20" y="78.60" font-size="4.6" fill="#111">-2</text>
<path d="M573.1 57.6H558.3V252.3H570.3" fill="none" stroke="#707070" stroke-width="0.55"/>
<path d="M573.9 197.2H570.3V310.8H572" fill="none" stroke="#707070" stroke-width="0.55"/>
<path d="M575 174H573.9V219H575" fill="none" stroke="#707070" stroke-width="0.45"/>
<path d="M575 289.5H572V329H575" fill="none" stroke="#707070" stroke-width="0.45"/>
<path d="M575 30V160" fill="none" stroke="#aaa" stroke-width="0.4"/>
<path d="M575 312H573.4V345H575" fill="none" stroke="#707070" stroke-width="0.4"/>
<text x="-0.50" y="377.30" font-size="17" font-weight="bold">e</text>
<text x="94.60" y="366.00" font-size="6.9" text-anchor="middle" font-weight="bold">cholesterol homeostasis</text>
<line x1="55.70" y1="376.30" x2="55.70" y2="461.70" stroke="#000" stroke-width="0.9" stroke-dasharray="0.8 0.9"/>
<line x1="133.50" y1="376.30" x2="133.50" y2="461.70" stroke="#000" stroke-width="0.9" stroke-dasharray="0.8 0.9"/>
<rect x="94.60" y="382.30" width="16.60" height="10.30" fill="#ff8080" stroke="#ff8080" stroke-width="0.4"/>
<rect x="72.30" y="398.10" width="22.30" height="10.20" fill="#5050f0" stroke="#5858c8" stroke-width="0.4"/>
<rect x="80.10" y="414.10" width="14.50" height="10.30" fill="#8080f8" stroke="#8080f8" stroke-width="0.4"/>
<rect x="80.90" y="430.10" width="13.70" height="10.30" fill="#8888f8" stroke="#8888f8" stroke-width="0.4"/>
<rect x="80.90" y="445.90" width="13.70" height="10.50" fill="#c0c0ff" stroke="#f0a0d0" stroke-width="0.4"/>
<line x1="94.60" y1="376.30" x2="94.60" y2="461.70" stroke="#000" stroke-width="0.7"/>
<line x1="48.10" y1="376.30" x2="48.10" y2="462.10" stroke="#000" stroke-width="0.8"/>
<line x1="47.70" y1="461.70" x2="141.90" y2="461.70" stroke="#000" stroke-width="0.8"/>
<line x1="46.10" y1="387.40" x2="48.10" y2="387.40" stroke="#000" stroke-width="0.7"/>
<text x="45.90" y="389.70" font-size="6.8" text-anchor="end" font-weight="bold" font-style="italic">Hmgcr</text>
<line x1="46.10" y1="403.20" x2="48.10" y2="403.20" stroke="#000" stroke-width="0.7"/>
<text x="45.90" y="405.50" font-size="6.8" text-anchor="end" font-weight="bold" font-style="italic">Srebf1</text>
<line x1="46.10" y1="419.30" x2="48.10" y2="419.30" stroke="#000" stroke-width="0.7"/>
<text x="45.90" y="421.60" font-size="6.8" text-anchor="end" font-weight="bold" font-style="italic">Scarb1</text>
<line x1="46.10" y1="435.20" x2="48.10" y2="435.20" stroke="#000" stroke-width="0.7"/>
<text x="45.90" y="437.50" font-size="6.8" text-anchor="end" font-weight="bold" font-style="italic">Angptl3</text>
<line x1="46.10" y1="451.20" x2="48.10" y2="451.20" stroke="#000" stroke-width="0.7"/>
<text x="45.90" y="453.50" font-size="6.8" text-anchor="end" font-weight="bold" font-style="italic">Lipc</text>
<line x1="55.70" y1="461.70" x2="55.70" y2="463.70" stroke="#000" stroke-width="0.7"/>
<text x="55.70" y="471.80" font-size="6.8" text-anchor="middle" font-weight="bold">-1</text>
<line x1="94.60" y1="461.70" x2="94.60" y2="463.70" stroke="#000" stroke-width="0.7"/>
<text x="94.60" y="471.80" font-size="6.8" text-anchor="middle" font-weight="bold">0</text>
<line x1="133.50" y1="461.70" x2="133.50" y2="463.70" stroke="#000" stroke-width="0.7"/>
<text x="133.50" y="471.80" font-size="6.8" text-anchor="middle" font-weight="bold">1</text>
<text x="94.60" y="480.80" font-size="6.9" text-anchor="middle" font-weight="bold">log2FC_DESeq</text>
<text x="119.00" y="389.60" font-size="6.9" fill="#222"><tspan font-style="italic">P</tspan>=0.03</text>
<text x="107.00" y="405.40" font-size="6.9" fill="#222"><tspan font-style="italic">P</tspan>=0.0005</text>
<text x="100.60" y="422.10" font-size="6.9" fill="#222"><tspan font-style="italic">P</tspan>=0.013</text>
<text x="101.70" y="437.60" font-size="6.9" fill="#222"><tspan font-style="italic">P</tspan>=0.022</text>
<text x="101.70" y="453.40" font-size="6.9" fill="#222"><tspan font-style="italic">P</tspan>=0.004</text>
<text x="157.50" y="379.40" font-size="17" font-weight="bold">f</text>
<text x="222.40" y="401.40" font-size="7.45" text-anchor="middle" font-weight="bold">Abcc4</text>
<line x1="185.70" y1="458.00" x2="259.60" y2="458.00" stroke="#a4a4a4" stroke-width="0.9" stroke-dasharray="1.5 1.3"/>
<line x1="185.70" y1="411.77" x2="185.70" y2="461.73" stroke="#000" stroke-width="0.85"/>
<line x1="185.70" y1="461.30" x2="259.60" y2="461.30" stroke="#000" stroke-width="0.85"/>
<line x1="183.70" y1="412.20" x2="185.70" y2="412.20" stroke="#000" stroke-width="0.85"/>
<text x="183.30" y="414.79" font-size="7.3" text-anchor="end" font-weight="bold">15</text>
<line x1="183.70" y1="428.40" x2="185.70" y2="428.40" stroke="#000" stroke-width="0.85"/>
<text x="183.30" y="430.99" font-size="7.3" text-anchor="end" font-weight="bold">10</text>
<line x1="183.70" y1="444.80" x2="185.70" y2="444.80" stroke="#000" stroke-width="0.85"/>
<text x="183.30" y="447.39" font-size="7.3" text-anchor="end" font-weight="bold">5</text>
<line x1="183.70" y1="461.30" x2="185.70" y2="461.30" stroke="#000" stroke-width="0.85"/>
<text x="183.30" y="463.89" font-size="7.3" text-anchor="end" font-weight="bold">0</text>
<text transform="translate(172.49 434.60) rotate(-90)" font-size="7.55" text-anchor="middle" font-weight="bold">relative expression</text>
<line x1="205.80" y1="461.30" x2="205.80" y2="463.30" stroke="#000" stroke-width="0.85"/>
<text x="205.80" y="470.89" font-size="7.3" text-anchor="middle" font-weight="bold">control</text>
<line x1="238.60" y1="461.30" x2="238.60" y2="463.30" stroke="#000" stroke-width="0.85"/>
<text x="238.60" y="470.89" font-size="7.3" text-anchor="middle" font-weight="bold">MI-883</text>
<path d="M206.60 452.50C206.92 452.68 207.95 453.18 208.50 453.60C209.05 454.02 209.35 454.50 209.90 455.00C210.45 455.50 210.68 456.07 211.80 456.60C212.92 457.13 216.60 457.72 216.60 458.20C216.60 458.68 213.15 459.10 211.80 459.50C210.45 459.90 209.37 460.25 208.50 460.60C207.63 460.95 206.92 461.43 206.60 461.60 L206.00 461.60C205.68 461.43 204.97 460.95 204.10 460.60C203.23 460.25 202.15 459.90 200.80 459.50C199.45 459.10 196.00 458.68 196.00 458.20C196.00 457.72 199.68 457.13 200.80 456.60C201.92 456.07 202.15 455.50 202.70 455.00C203.25 454.50 203.55 454.02 204.10 453.60C204.65 453.18 205.68 452.68 206.00 452.50Z" fill="#3a3a3a" stroke="#000" stroke-width="0.85" stroke-linejoin="round"/>
<circle cx="198.30" cy="458.20" r="1.10" fill="#000"/>
<circle cx="201.30" cy="458.20" r="1.10" fill="#000"/>
<circle cx="203.90" cy="458.20" r="1.10" fill="#000"/>
<circle cx="206.30" cy="458.20" r="1.10" fill="#000"/>
<circle cx="208.70" cy="458.20" r="1.10" fill="#000"/>
<circle cx="211.30" cy="458.20" r="1.10" fill="#000"/>
<circle cx="214.30" cy="458.20" r="1.10" fill="#000"/>
<circle cx="206.30" cy="454.60" r="1.00" fill="#fff" stroke="#000" stroke-width="0.4"/>
<circle cx="204.40" cy="456.30" r="0.80" fill="#fff" stroke="#000" stroke-width="0.4"/>
<path d="M238.28 426.68C238.29 427.85 238.31 431.25 238.33 433.69C238.35 436.12 238.27 439.77 238.39 441.29C238.51 442.81 238.65 442.35 239.03 442.80C239.41 443.25 239.85 443.54 240.67 443.97C241.49 444.40 242.97 444.98 243.94 445.37C244.91 445.76 245.77 446.02 246.51 446.31C247.25 446.60 248.38 446.86 248.38 447.13C248.38 447.40 247.25 447.65 246.51 447.94C245.77 448.23 244.88 448.49 243.94 448.88C243.00 449.27 241.68 449.79 240.90 450.28C240.12 450.77 239.68 451.29 239.27 451.80C238.86 452.31 238.61 452.44 238.45 453.32C238.29 454.20 238.36 455.70 238.33 457.06C238.30 458.42 238.29 460.76 238.28 461.50 L237.92 461.50C237.91 460.76 237.90 458.42 237.87 457.06C237.84 455.70 237.91 454.20 237.75 453.32C237.59 452.44 237.34 452.31 236.93 451.80C236.52 451.29 236.08 450.77 235.30 450.28C234.52 449.79 233.19 449.27 232.26 448.88C231.32 448.49 230.43 448.23 229.69 447.94C228.95 447.65 227.82 447.40 227.82 447.13C227.82 446.86 228.95 446.60 229.69 446.31C230.43 446.02 231.29 445.76 232.26 445.37C233.23 444.98 234.71 444.40 235.53 443.97C236.35 443.54 236.79 443.25 237.17 442.80C237.55 442.35 237.69 442.81 237.81 441.29C237.93 439.77 237.85 436.12 237.87 433.69C237.89 431.25 237.91 427.85 237.92 426.68Z" fill="#a6a6a6" stroke="#000" stroke-width="0.8" stroke-linejoin="round"/>
<circle cx="238.09" cy="428.67" r="1.50" fill="#0a0aff" stroke="#00102a" stroke-width="0.45"/>
<circle cx="238.09" cy="439.53" r="1.50" fill="#0a0aff" stroke="#00102a" stroke-width="0.45"/>
<circle cx="238.09" cy="444.21" r="1.50" fill="#0a0aff" stroke="#00102a" stroke-width="0.45"/>
<circle cx="228.98" cy="446.78" r="1.50" fill="#0a0aff" stroke="#00102a" stroke-width="0.45"/>
<circle cx="231.90" cy="447.24" r="1.50" fill="#0a0aff" stroke="#00102a" stroke-width="0.45"/>
<circle cx="235.05" cy="447.71" r="1.50" fill="#0a0aff" stroke="#00102a" stroke-width="0.45"/>
<circle cx="238.09" cy="448.29" r="1.50" fill="#0a0aff" stroke="#00102a" stroke-width="0.45"/>
<circle cx="241.24" cy="447.71" r="1.50" fill="#0a0aff" stroke="#00102a" stroke-width="0.45"/>
<circle cx="244.16" cy="447.24" r="1.50" fill="#0a0aff" stroke="#00102a" stroke-width="0.45"/>
<circle cx="247.32" cy="446.78" r="1.50" fill="#0a0aff" stroke="#00102a" stroke-width="0.45"/>
<circle cx="238.09" cy="450.05" r="1.50" fill="#0a0aff" stroke="#00102a" stroke-width="0.45"/>
<circle cx="238.09" cy="452.97" r="1.50" fill="#0a0aff" stroke="#00102a" stroke-width="0.45"/>
<circle cx="238.09" cy="461.14" r="1.50" fill="#0a0aff" stroke="#00102a" stroke-width="0.45"/>
<path d="M206.50 449.60V419.50H238.50V426.50" fill="none" stroke="#000" stroke-width="0.9"/>
<text x="222.40" y="420.72" font-size="12" text-anchor="middle" font-weight="bold" letter-spacing="0.4">***</text>
<text x="333.40" y="401.30" font-size="7.45" text-anchor="middle" font-weight="bold">Mrp4 protein</text>
<line x1="295.50" y1="411.88" x2="295.50" y2="461.53" stroke="#000" stroke-width="0.85"/>
<line x1="295.50" y1="461.10" x2="370.10" y2="461.10" stroke="#000" stroke-width="0.85"/>
<line x1="293.90" y1="412.30" x2="295.50" y2="412.30" stroke="#000" stroke-width="0.85"/>
<text x="293.50" y="414.89" font-size="7.3" text-anchor="end" font-weight="bold">2.5</text>
<line x1="293.90" y1="422.10" x2="295.50" y2="422.10" stroke="#000" stroke-width="0.85"/>
<text x="293.50" y="424.69" font-size="7.3" text-anchor="end" font-weight="bold">2.0</text>
<line x1="293.90" y1="431.80" x2="295.50" y2="431.80" stroke="#000" stroke-width="0.85"/>
<text x="293.50" y="434.39" font-size="7.3" text-anchor="end" font-weight="bold">1.5</text>
<line x1="293.90" y1="441.60" x2="295.50" y2="441.60" stroke="#000" stroke-width="0.85"/>
<text x="293.50" y="444.19" font-size="7.3" text-anchor="end" font-weight="bold">1.0</text>
<line x1="293.90" y1="451.30" x2="295.50" y2="451.30" stroke="#000" stroke-width="0.85"/>
<text x="293.50" y="453.89" font-size="7.3" text-anchor="end" font-weight="bold">0.5</text>
<line x1="293.90" y1="461.10" x2="295.50" y2="461.10" stroke="#000" stroke-width="0.85"/>
<text x="293.50" y="463.69" font-size="7.3" text-anchor="end" font-weight="bold">0.0</text>
<text transform="translate(272.79 435.20) rotate(-90)" font-size="7.55" text-anchor="middle" font-weight="bold">relative protein</text>
<text transform="translate(280.39 435.20) rotate(-90)" font-size="7.55" text-anchor="middle" font-weight="bold">expression</text>
<line x1="316.60" y1="461.10" x2="316.60" y2="462.70" stroke="#000" stroke-width="0.85"/>
<text x="316.60" y="471.89" font-size="7.3" text-anchor="middle" font-weight="bold">control</text>
<line x1="347.40" y1="461.10" x2="347.40" y2="462.70" stroke="#000" stroke-width="0.85"/>
<text x="347.40" y="471.89" font-size="7.3" text-anchor="middle" font-weight="bold">MI-883</text>
<rect x="307.40" y="441.30" width="20.20" height="19.80" fill="#7f7f7f" stroke="#000" stroke-width="0.8"/>
<rect x="338.10" y="426.00" width="21.80" height="35.10" fill="#d3d3d3" stroke="#000" stroke-width="0.8"/>
<line x1="295.50" y1="441.60" x2="370.10" y2="441.60" stroke="#222" stroke-width="0.6" stroke-dasharray="2.6 1.4"/>
<line x1="317.40" y1="433.50" x2="317.40" y2="449.50" stroke="#000" stroke-width="0.7"/>
<line x1="312.80" y1="433.50" x2="322.00" y2="433.50" stroke="#000" stroke-width="0.7"/>
<line x1="312.80" y1="449.50" x2="322.00" y2="449.50" stroke="#000" stroke-width="0.7"/>
<circle cx="315.00" cy="434.20" r="1.60" fill="#000"/>
<circle cx="320.30" cy="434.20" r="1.60" fill="#000"/>
<circle cx="317.60" cy="444.20" r="1.60" fill="#000"/>
<circle cx="317.60" cy="451.90" r="1.60" fill="#000"/>
<line x1="349.10" y1="420.30" x2="349.10" y2="430.50" stroke="#0a0aff" stroke-width="0.7"/>
<line x1="344.50" y1="420.30" x2="353.70" y2="420.30" stroke="#0a0aff" stroke-width="0.7"/>
<line x1="344.50" y1="430.50" x2="353.70" y2="430.50" stroke="#0a0aff" stroke-width="0.7"/>
<rect x="347.60" y="417.90" width="3.00" height="3.00" fill="#0a0aff"/>
<rect x="347.60" y="423.10" width="3.00" height="3.00" fill="#0a0aff"/>
<rect x="344.50" y="428.20" width="3.00" height="3.00" fill="#0a0aff"/>
<rect x="350.70" y="427.50" width="3.00" height="3.00" fill="#0a0aff"/>
<path d="M317.50 426.60V410.50H349.50V412.70" fill="none" stroke="#000" stroke-width="0.9"/>
<text x="335.00" y="412.92" font-size="12" text-anchor="middle" font-weight="bold">*</text>
<text x="434.30" y="398.90" font-size="7.45" text-anchor="middle" font-weight="bold">Ugt1a1</text>
<line x1="397.90" y1="445.00" x2="471.10" y2="445.00" stroke="#a4a4a4" stroke-width="0.9" stroke-dasharray="2.6 1.7"/>
<line x1="397.90" y1="412.88" x2="397.90" y2="460.93" stroke="#000" stroke-width="0.85"/>
<line x1="397.90" y1="460.50" x2="471.10" y2="460.50" stroke="#000" stroke-width="0.85"/>
<line x1="395.90" y1="413.30" x2="397.90" y2="413.30" stroke="#000" stroke-width="0.85"/>
<text x="395.50" y="415.89" font-size="7.3" text-anchor="end" font-weight="bold">3</text>
<line x1="395.90" y1="429.30" x2="397.90" y2="429.30" stroke="#000" stroke-width="0.85"/>
<text x="395.50" y="431.89" font-size="7.3" text-anchor="end" font-weight="bold">2</text>
<line x1="395.90" y1="445.00" x2="397.90" y2="445.00" stroke="#000" stroke-width="0.85"/>
<text x="395.50" y="447.59" font-size="7.3" text-anchor="end" font-weight="bold">1</text>
<line x1="395.90" y1="460.50" x2="397.90" y2="460.50" stroke="#000" stroke-width="0.85"/>
<text x="395.50" y="463.09" font-size="7.3" text-anchor="end" font-weight="bold">0</text>
<text transform="translate(389.39 435.00) rotate(-90)" font-size="7.55" text-anchor="middle" font-weight="bold">relative expression</text>
<line x1="417.90" y1="460.50" x2="417.90" y2="462.50" stroke="#000" stroke-width="0.85"/>
<text x="417.90" y="470.09" font-size="7.3" text-anchor="middle" font-weight="bold">control</text>
<line x1="450.00" y1="460.50" x2="450.00" y2="462.50" stroke="#000" stroke-width="0.85"/>
<text x="450.00" y="470.09" font-size="7.3" text-anchor="middle" font-weight="bold">MI-883</text>
<path d="M418.92 426.11C418.94 426.44 418.93 427.51 419.03 428.09C419.13 428.67 419.11 429.16 419.50 429.61C419.89 430.06 420.67 430.33 421.37 430.78C422.07 431.23 423.07 431.72 423.71 432.30C424.35 432.88 425.13 433.57 425.23 434.29C425.33 435.01 424.62 435.90 424.29 436.62C423.96 437.34 423.14 437.97 423.24 438.61C423.34 439.25 424.15 439.84 424.87 440.48C425.59 441.12 426.92 441.84 427.56 442.46C428.20 443.08 428.71 443.57 428.73 444.21C428.75 444.85 428.07 445.64 427.68 446.32C427.29 447.00 426.39 447.64 426.39 448.30C426.39 448.96 427.29 449.61 427.68 450.29C428.07 450.97 428.81 451.75 428.73 452.39C428.65 453.03 427.99 453.56 427.21 454.14C426.43 454.72 425.11 455.31 424.06 455.90C423.01 456.48 421.66 457.16 420.90 457.65C420.14 458.14 419.83 458.33 419.50 458.82C419.17 459.31 419.02 460.28 418.92 460.57 L418.68 460.57C418.58 460.28 418.43 459.31 418.10 458.82C417.77 458.33 417.46 458.14 416.70 457.65C415.94 457.16 414.59 456.48 413.54 455.90C412.49 455.31 411.17 454.72 410.39 454.14C409.61 453.56 408.95 453.03 408.87 452.39C408.79 451.75 409.53 450.97 409.92 450.29C410.31 449.61 411.21 448.96 411.21 448.30C411.21 447.64 410.31 447.00 409.92 446.32C409.53 445.64 408.85 444.85 408.87 444.21C408.89 443.57 409.40 443.08 410.04 442.46C410.68 441.84 412.01 441.12 412.73 440.48C413.45 439.84 414.26 439.25 414.36 438.61C414.46 437.97 413.64 437.34 413.31 436.62C412.98 435.90 412.27 435.01 412.37 434.29C412.47 433.57 413.25 432.88 413.89 432.30C414.53 431.72 415.53 431.23 416.23 430.78C416.93 430.33 417.71 430.06 418.10 429.61C418.49 429.16 418.47 428.67 418.57 428.09C418.67 427.51 418.66 426.44 418.68 426.11Z" fill="#d6d6d6" stroke="#000" stroke-width="0.85" stroke-linejoin="round"/>
<line x1="414.35" y1="438.60" x2="423.25" y2="438.60" stroke="#000" stroke-width="0.5"/>
<line x1="408.88" y1="452.40" x2="428.72" y2="452.40" stroke="#000" stroke-width="0.5"/>
<line x1="408.96" y1="444.40" x2="428.64" y2="444.40" stroke="#000" stroke-width="0.85"/>
<rect x="415.49" y="433.57" width="2.60" height="2.60" fill="#000"/>
<rect x="419.58" y="432.99" width="2.60" height="2.60" fill="#000"/>
<rect x="417.48" y="438.48" width="2.60" height="2.60" fill="#000"/>
<rect x="413.63" y="441.51" width="2.60" height="2.60" fill="#000"/>
<rect x="421.57" y="442.91" width="2.60" height="2.60" fill="#000"/>
<rect x="417.48" y="444.67" width="2.60" height="2.60" fill="#000"/>
<rect x="417.48" y="447.59" width="2.60" height="2.60" fill="#000"/>
<rect x="417.48" y="450.51" width="2.60" height="2.60" fill="#000"/>
<rect x="413.63" y="451.68" width="2.60" height="2.60" fill="#000"/>
<rect x="421.57" y="451.68" width="2.60" height="2.60" fill="#000"/>
<path d="M449.82 413.84C449.84 414.13 449.81 415.00 449.93 415.59C450.05 416.17 450.17 416.76 450.52 417.35C450.87 417.94 451.49 418.52 452.04 419.10C452.58 419.68 453.13 420.17 453.79 420.85C454.45 421.53 455.33 422.41 456.01 423.19C456.69 423.97 457.28 424.64 457.88 425.52C458.48 426.39 459.44 427.66 459.63 428.44C459.82 429.22 459.30 429.62 459.05 430.20C458.80 430.78 458.40 431.33 458.11 431.95C457.82 432.57 457.48 433.29 457.29 433.93C457.09 434.57 456.94 435.16 456.94 435.80C456.94 436.44 457.13 437.17 457.29 437.79C457.45 438.41 457.66 438.96 457.88 439.54C458.10 440.12 458.42 440.71 458.58 441.29C458.74 441.88 458.85 442.47 458.81 443.05C458.77 443.63 458.59 444.22 458.34 444.80C458.09 445.38 457.76 446.00 457.29 446.55C456.82 447.10 456.22 447.58 455.54 448.07C454.86 448.56 453.86 449.04 453.20 449.47C452.54 449.90 452.00 450.25 451.57 450.64C451.14 451.03 450.88 451.32 450.63 451.81C450.38 452.30 450.19 452.98 450.05 453.56C449.92 454.14 449.86 455.02 449.82 455.31 L449.58 455.31C449.54 455.02 449.48 454.14 449.35 453.56C449.21 452.98 449.02 452.30 448.77 451.81C448.52 451.32 448.26 451.03 447.83 450.64C447.40 450.25 446.86 449.90 446.20 449.47C445.54 449.04 444.54 448.56 443.86 448.07C443.18 447.58 442.58 447.10 442.11 446.55C441.64 446.00 441.31 445.38 441.06 444.80C440.81 444.22 440.63 443.63 440.59 443.05C440.55 442.47 440.66 441.88 440.82 441.29C440.98 440.71 441.30 440.12 441.52 439.54C441.74 438.96 441.95 438.41 442.11 437.79C442.27 437.17 442.46 436.44 442.46 435.80C442.46 435.16 442.31 434.57 442.11 433.93C441.92 433.29 441.58 432.57 441.29 431.95C441.00 431.33 440.60 430.78 440.35 430.20C440.10 429.62 439.57 429.22 439.77 428.44C439.96 427.66 440.92 426.39 441.52 425.52C442.12 424.64 442.71 423.97 443.39 423.19C444.07 422.41 444.95 421.53 445.61 420.85C446.27 420.17 446.81 419.68 447.36 419.10C447.91 418.52 448.53 417.94 448.88 417.35C449.23 416.76 449.35 416.17 449.47 415.59C449.59 415.00 449.56 414.13 449.58 413.84Z" fill="#a6a6a6" stroke="#000" stroke-width="0.85" stroke-linejoin="round"/>
<line x1="439.86" y1="428.70" x2="459.54" y2="428.70" stroke="#0a0aff" stroke-width="0.5"/>
<line x1="440.64" y1="442.70" x2="458.76" y2="442.70" stroke="#0a0aff" stroke-width="0.5"/>
<line x1="442.46" y1="435.80" x2="456.94" y2="435.80" stroke="#000" stroke-width="0.85"/>
<circle cx="449.74" cy="422.02" r="1.30" fill="#0a0aff"/>
<circle cx="452.07" cy="426.69" r="1.30" fill="#0a0aff"/>
<circle cx="447.99" cy="428.79" r="1.30" fill="#0a0aff"/>
<circle cx="452.07" cy="429.03" r="1.30" fill="#0a0aff"/>
<circle cx="449.74" cy="431.95" r="1.30" fill="#0a0aff"/>
<circle cx="449.74" cy="436.04" r="1.30" fill="#0a0aff"/>
<circle cx="449.74" cy="438.96" r="1.30" fill="#0a0aff"/>
<circle cx="449.74" cy="441.29" r="1.30" fill="#0a0aff"/>
<circle cx="449.74" cy="442.81" r="1.30" fill="#0a0aff"/>
<circle cx="452.07" cy="444.80" r="1.30" fill="#0a0aff"/>
<circle cx="447.99" cy="446.32" r="1.30" fill="#0a0aff"/>
<path d="M418.50 423.00V408.50H449.50V410.70" fill="none" stroke="#000" stroke-width="0.9"/>
<text x="434.30" y="410.22" font-size="12" text-anchor="middle" font-weight="bold" letter-spacing="0.4">**</text>
<text x="535.30" y="401.80" font-size="7.45" text-anchor="middle" font-weight="bold">Ugt2c34</text>
<line x1="499.90" y1="443.80" x2="570.60" y2="443.80" stroke="#a4a4a4" stroke-width="0.9" stroke-dasharray="2.6 1.7"/>
<line x1="499.90" y1="411.88" x2="499.90" y2="459.73" stroke="#000" stroke-width="0.85"/>
<line x1="499.90" y1="459.30" x2="570.60" y2="459.30" stroke="#000" stroke-width="0.85"/>
<line x1="497.90" y1="412.30" x2="499.90" y2="412.30" stroke="#000" stroke-width="0.85"/>
<text x="497.50" y="414.89" font-size="7.3" text-anchor="end" font-weight="bold">3</text>
<line x1="497.90" y1="428.20" x2="499.90" y2="428.20" stroke="#000" stroke-width="0.85"/>
<text x="497.50" y="430.79" font-size="7.3" text-anchor="end" font-weight="bold">2</text>
<line x1="497.90" y1="443.80" x2="499.90" y2="443.80" stroke="#000" stroke-width="0.85"/>
<text x="497.50" y="446.39" font-size="7.3" text-anchor="end" font-weight="bold">1</text>
<line x1="497.90" y1="459.30" x2="499.90" y2="459.30" stroke="#000" stroke-width="0.85"/>
<text x="497.50" y="461.89" font-size="7.3" text-anchor="end" font-weight="bold">0</text>
<text transform="translate(490.79 434.20) rotate(-90)" font-size="7.55" text-anchor="middle" font-weight="bold">relative expression</text>
<line x1="519.30" y1="459.30" x2="519.30" y2="461.30" stroke="#000" stroke-width="0.85"/>
<text x="519.30" y="469.09" font-size="7.3" text-anchor="middle" font-weight="bold">control</text>
<line x1="550.60" y1="459.30" x2="550.60" y2="461.30" stroke="#000" stroke-width="0.85"/>
<text x="550.60" y="469.09" font-size="7.3" text-anchor="middle" font-weight="bold">MI-883</text>
<path d="M520.60 439.90C520.82 440.13 521.10 440.90 521.90 441.30C522.70 441.70 524.00 441.95 525.40 442.30C526.80 442.65 530.30 443.02 530.30 443.40C530.30 443.78 526.85 444.17 525.40 444.60C523.95 445.03 522.13 445.52 521.60 446.00C521.07 446.48 521.85 447.05 522.20 447.50C522.55 447.95 523.73 448.32 523.70 448.70C523.67 449.08 522.52 449.33 522.00 449.80C521.48 450.27 520.83 451.22 520.60 451.50 L520.20 451.50C519.97 451.22 519.32 450.27 518.80 449.80C518.28 449.33 517.13 449.08 517.10 448.70C517.07 448.32 518.25 447.95 518.60 447.50C518.95 447.05 519.73 446.48 519.20 446.00C518.67 445.52 516.85 445.03 515.40 444.60C513.95 444.17 510.50 443.78 510.50 443.40C510.50 443.02 514.00 442.65 515.40 442.30C516.80 441.95 518.10 441.70 518.90 441.30C519.70 440.90 519.98 440.13 520.20 439.90Z" fill="#555" stroke="#000" stroke-width="0.85" stroke-linejoin="round"/>
<line x1="511.32" y1="443.60" x2="529.48" y2="443.60" stroke="#000" stroke-width="0.85"/>
<circle cx="513.40" cy="443.40" r="1.05" fill="#000"/>
<circle cx="515.40" cy="443.40" r="1.05" fill="#000"/>
<circle cx="517.40" cy="443.40" r="1.05" fill="#000"/>
<circle cx="519.40" cy="443.40" r="1.05" fill="#000"/>
<circle cx="521.40" cy="443.40" r="1.05" fill="#000"/>
<circle cx="523.40" cy="443.40" r="1.05" fill="#000"/>
<circle cx="525.40" cy="443.40" r="1.05" fill="#000"/>
<circle cx="527.40" cy="443.40" r="1.05" fill="#000"/>
<circle cx="520.40" cy="448.50" r="1.05" fill="#000"/>
<path d="M550.72 416.18C550.74 416.53 550.71 417.60 550.83 418.28C550.95 418.96 551.03 419.65 551.42 420.27C551.81 420.89 552.49 421.44 553.17 422.02C553.85 422.60 554.77 423.19 555.51 423.77C556.25 424.35 557.07 424.94 557.61 425.52C558.15 426.10 558.74 426.69 558.78 427.28C558.82 427.86 558.29 428.45 557.84 429.03C557.39 429.61 556.62 430.16 556.09 430.78C555.57 431.40 554.73 432.18 554.69 432.77C554.65 433.36 555.22 433.75 555.86 434.29C556.50 434.84 557.82 435.52 558.54 436.04C559.26 436.56 559.85 437.01 560.18 437.44C560.51 437.87 560.61 438.16 560.53 438.61C560.45 439.06 560.16 439.49 559.71 440.13C559.26 440.77 558.52 441.58 557.84 442.46C557.16 443.33 556.32 444.41 555.62 445.38C554.92 446.35 554.24 447.37 553.64 448.30C553.04 449.24 552.41 450.21 552.00 450.99C551.59 451.77 551.38 452.36 551.18 452.98C550.99 453.60 550.91 454.05 550.83 454.73C550.75 455.41 550.74 456.68 550.72 457.07 L550.48 457.07C550.46 456.68 550.45 455.41 550.37 454.73C550.29 454.05 550.21 453.60 550.02 452.98C549.83 452.36 549.61 451.77 549.20 450.99C548.79 450.21 548.16 449.24 547.56 448.30C546.96 447.37 546.28 446.35 545.58 445.38C544.88 444.41 544.04 443.33 543.36 442.46C542.68 441.58 541.94 440.77 541.49 440.13C541.04 439.49 540.75 439.06 540.67 438.61C540.59 438.16 540.69 437.87 541.02 437.44C541.35 437.01 541.94 436.56 542.66 436.04C543.38 435.52 544.70 434.84 545.34 434.29C545.98 433.75 546.55 433.36 546.51 432.77C546.47 432.18 545.63 431.40 545.11 430.78C544.59 430.16 543.81 429.61 543.36 429.03C542.91 428.45 542.38 427.86 542.42 427.28C542.46 426.69 543.05 426.10 543.59 425.52C544.13 424.94 544.95 424.35 545.69 423.77C546.43 423.19 547.35 422.60 548.03 422.02C548.71 421.44 549.39 420.89 549.78 420.27C550.17 419.65 550.25 418.96 550.37 418.28C550.49 417.60 550.46 416.53 550.48 416.18Z" fill="#a6a6a6" stroke="#000" stroke-width="0.85" stroke-linejoin="round"/>
<line x1="542.43" y1="427.30" x2="558.77" y2="427.30" stroke="#0a0aff" stroke-width="0.5"/>
<line x1="544.07" y1="443.40" x2="557.13" y2="443.40" stroke="#0a0aff" stroke-width="0.5"/>
<line x1="540.91" y1="437.80" x2="560.29" y2="437.80" stroke="#000" stroke-width="0.85"/>
<circle cx="548.23" cy="427.28" r="1.45" fill="#0a0aff"/>
<circle cx="552.32" cy="426.69" r="1.45" fill="#0a0aff"/>
<circle cx="548.23" cy="438.14" r="1.45" fill="#0a0aff"/>
<circle cx="552.32" cy="437.44" r="1.45" fill="#0a0aff"/>
<circle cx="550.34" cy="442.11" r="1.45" fill="#0a0aff"/>
<circle cx="550.34" cy="447.14" r="1.45" fill="#0a0aff"/>
<path d="M520.50 437.20V410.50H550.50V413.30" fill="none" stroke="#000" stroke-width="0.9"/>
<text x="535.30" y="412.22" font-size="12" text-anchor="middle" font-weight="bold">*</text>
<text x="629.90" y="399.90" font-size="7.45" text-anchor="middle" font-weight="bold">Sult2a1</text>
<line x1="596.50" y1="449.50" x2="664.40" y2="449.50" stroke="#808080" stroke-width="0.9" stroke-dasharray="2.6 1.7"/>
<line x1="596.50" y1="416.47" x2="596.50" y2="460.73" stroke="#000" stroke-width="0.85"/>
<line x1="596.50" y1="460.30" x2="664.40" y2="460.30" stroke="#000" stroke-width="0.85"/>
<line x1="594.50" y1="416.90" x2="596.50" y2="416.90" stroke="#000" stroke-width="0.85"/>
<text x="594.10" y="419.49" font-size="7.3" text-anchor="end" font-weight="bold">4</text>
<line x1="594.50" y1="427.80" x2="596.50" y2="427.80" stroke="#000" stroke-width="0.85"/>
<text x="594.10" y="430.39" font-size="7.3" text-anchor="end" font-weight="bold">3</text>
<line x1="594.50" y1="438.60" x2="596.50" y2="438.60" stroke="#000" stroke-width="0.85"/>
<text x="594.10" y="441.19" font-size="7.3" text-anchor="end" font-weight="bold">2</text>
<line x1="594.50" y1="449.50" x2="596.50" y2="449.50" stroke="#000" stroke-width="0.85"/>
<text x="594.10" y="452.09" font-size="7.3" text-anchor="end" font-weight="bold">1</text>
<line x1="594.50" y1="460.30" x2="596.50" y2="460.30" stroke="#000" stroke-width="0.85"/>
<text x="594.10" y="462.89" font-size="7.3" text-anchor="end" font-weight="bold">0</text>
<text transform="translate(586.39 436.60) rotate(-90)" font-size="7.55" text-anchor="middle" font-weight="bold">relative expression</text>
<line x1="614.70" y1="460.30" x2="614.70" y2="462.30" stroke="#000" stroke-width="0.85"/>
<text x="614.70" y="470.19" font-size="7.3" text-anchor="middle" font-weight="bold">control</text>
<line x1="644.90" y1="460.30" x2="644.90" y2="462.30" stroke="#000" stroke-width="0.85"/>
<text x="644.90" y="470.19" font-size="7.3" text-anchor="middle" font-weight="bold">MI-883</text>
<path d="M615.50 431.60C615.70 432.00 616.20 433.18 616.70 434.00C617.20 434.82 618.07 435.72 618.50 436.50C618.93 437.28 619.27 437.95 619.30 438.70C619.33 439.45 618.98 440.20 618.70 441.00C618.42 441.80 617.50 442.75 617.60 443.50C617.70 444.25 618.43 444.83 619.30 445.50C620.17 446.17 621.88 446.87 622.80 447.50C623.72 448.13 624.62 448.72 624.80 449.30C624.98 449.88 624.48 450.30 623.90 451.00C623.32 451.70 622.23 452.58 621.30 453.50C620.37 454.42 619.13 455.58 618.30 456.50C617.47 457.42 616.77 458.28 616.30 459.00C615.83 459.72 615.63 460.50 615.50 460.80 L615.10 460.80C614.97 460.50 614.77 459.72 614.30 459.00C613.83 458.28 613.13 457.42 612.30 456.50C611.47 455.58 610.23 454.42 609.30 453.50C608.37 452.58 607.28 451.70 606.70 451.00C606.12 450.30 605.62 449.88 605.80 449.30C605.98 448.72 606.88 448.13 607.80 447.50C608.72 446.87 610.43 446.17 611.30 445.50C612.17 444.83 612.90 444.25 613.00 443.50C613.10 442.75 612.18 441.80 611.90 441.00C611.62 440.20 611.27 439.45 611.30 438.70C611.33 437.95 611.67 437.28 612.10 436.50C612.53 435.72 613.40 434.82 613.90 434.00C614.40 433.18 614.90 432.00 615.10 431.60Z" fill="#d6d6d6" stroke="#000" stroke-width="0.85" stroke-linejoin="round"/>
<line x1="610.07" y1="446.20" x2="620.52" y2="446.20" stroke="#000" stroke-width="0.5"/>
<line x1="608.36" y1="452.60" x2="622.24" y2="452.60" stroke="#000" stroke-width="0.5"/>
<line x1="606.13" y1="449.00" x2="624.47" y2="449.00" stroke="#000" stroke-width="0.85"/>
<circle cx="615.30" cy="438.90" r="1.20" fill="#000"/>
<circle cx="613.50" cy="449.90" r="1.20" fill="#000"/>
<circle cx="617.50" cy="449.00" r="1.20" fill="#000"/>
<circle cx="617.50" cy="452.10" r="1.20" fill="#000"/>
<circle cx="615.30" cy="456.60" r="1.20" fill="#000"/>
<path d="M639.4 416.9H650.4L650.6 434C650.8 438 654.4 441 654.4 445.5C654.4 451 647 455 644.9 460.8C642.8 455 635.4 451 635.4 445.5C635.4 441 639 438 639.2 434Z" fill="#a6a6a6" stroke="#000" stroke-width="0.7"/>
<line x1="639.40" y1="422.30" x2="650.40" y2="422.30" stroke="#0a0aff" stroke-width="0.5"/>
<line x1="635.60" y1="446.10" x2="654.20" y2="446.10" stroke="#0a0aff" stroke-width="0.5"/>
<line x1="639.00" y1="438.40" x2="650.80" y2="438.40" stroke="#000" stroke-width="0.7"/>
<rect x="643.70" y="423.10" width="2.40" height="2.40" fill="#0a0aff"/>
<rect x="643.70" y="431.70" width="2.40" height="2.40" fill="#0a0aff"/>
<rect x="643.70" y="441.80" width="2.40" height="2.40" fill="#0a0aff"/>
<rect x="643.70" y="443.90" width="2.40" height="2.40" fill="#0a0aff"/>
<rect x="643.70" y="449.60" width="2.40" height="2.40" fill="#0a0aff"/>
<path d="M615.50 428.90V411.50H644.50V413.80" fill="none" stroke="#000" stroke-width="0.9"/>
<text x="629.90" y="412.82" font-size="12" text-anchor="middle" font-weight="bold">*</text>
<defs><filter id="blur" x="-5%" y="-50%" width="110%" height="200%"><feGaussianBlur stdDeviation="0.75"/></filter></defs>
<text x="0.30" y="507.70" font-size="17" font-weight="bold">g</text>
<rect x="75.20" y="521.00" width="99.70" height="13.10" fill="#fdfdfd"/>
<clipPath id="c75_521"><rect x="75.20" y="521.00" width="99.70" height="13.10"/></clipPath>
<g clip-path="url(#c75_521)" filter="url(#blur)">
<rect x="126.61" y="526.10" width="9.35" height="1.60" rx="0.80" fill="#555" fill-opacity="0.55"/>
<rect x="139.07" y="526.10" width="9.35" height="1.60" rx="0.80" fill="#555" fill-opacity="0.55"/>
<rect x="151.53" y="526.10" width="9.35" height="1.60" rx="0.80" fill="#555" fill-opacity="0.55"/>
<rect x="164.00" y="526.10" width="9.35" height="1.60" rx="0.80" fill="#555" fill-opacity="0.55"/>
</g>
<rect x="75.20" y="521.00" width="99.70" height="13.10" fill="none" stroke="#222" stroke-width="0.7"/>
<rect x="75.20" y="538.50" width="99.70" height="13.50" fill="#f6f6f6"/>
<clipPath id="c75_538"><rect x="75.20" y="538.50" width="99.70" height="13.50"/></clipPath>
<g clip-path="url(#c75_538)" filter="url(#blur)">
<rect x="76.57" y="544.70" width="9.72" height="2.20" rx="1.10" fill="#444" fill-opacity="0.6"/>
<rect x="89.03" y="544.70" width="9.72" height="2.20" rx="1.10" fill="#444" fill-opacity="0.6"/>
<rect x="101.50" y="544.70" width="9.72" height="2.20" rx="1.10" fill="#444" fill-opacity="0.6"/>
<rect x="113.96" y="544.70" width="9.72" height="2.20" rx="1.10" fill="#444" fill-opacity="0.6"/>
<rect x="125.80" y="544.10" width="10.97" height="3.20" rx="1.60" fill="#000" fill-opacity="1"/>
<rect x="138.26" y="544.10" width="10.97" height="3.20" rx="1.60" fill="#000" fill-opacity="1"/>
<rect x="150.72" y="544.10" width="10.97" height="3.20" rx="1.60" fill="#000" fill-opacity="1"/>
<rect x="163.19" y="544.10" width="10.97" height="3.20" rx="1.60" fill="#000" fill-opacity="1"/>
</g>
<rect x="75.20" y="538.50" width="99.70" height="13.50" fill="none" stroke="#222" stroke-width="0.7"/>
<rect x="75.20" y="557.40" width="99.70" height="14.50" fill="#ececec"/>
<clipPath id="c75_557"><rect x="75.20" y="557.40" width="99.70" height="14.50"/></clipPath>
<g clip-path="url(#c75_557)" filter="url(#blur)">
<rect x="76.45" y="559.20" width="9.97" height="2.00" rx="1.00" fill="#666" fill-opacity="0.25"/>
<rect x="88.91" y="559.20" width="9.97" height="2.00" rx="1.00" fill="#666" fill-opacity="0.35"/>
<rect x="101.37" y="559.20" width="9.97" height="2.00" rx="1.00" fill="#666" fill-opacity="0.4"/>
<rect x="113.83" y="559.20" width="9.97" height="2.00" rx="1.00" fill="#666" fill-opacity="0.25"/>
<rect x="126.30" y="559.20" width="9.97" height="2.00" rx="1.00" fill="#666" fill-opacity="0.35"/>
<rect x="138.76" y="559.20" width="9.97" height="2.00" rx="1.00" fill="#666" fill-opacity="0.45"/>
<rect x="151.22" y="559.20" width="9.97" height="2.00" rx="1.00" fill="#666" fill-opacity="0.3"/>
<rect x="163.68" y="559.20" width="9.97" height="2.00" rx="1.00" fill="#666" fill-opacity="0.35"/>
<rect x="76.32" y="564.30" width="10.22" height="2.60" rx="1.30" fill="#000" fill-opacity="0.3"/>
<rect x="88.78" y="564.10" width="10.22" height="3.00" rx="1.50" fill="#000" fill-opacity="0.85"/>
<rect x="101.25" y="564.10" width="10.22" height="3.00" rx="1.50" fill="#000" fill-opacity="0.9"/>
<rect x="113.71" y="564.40" width="10.22" height="2.40" rx="1.20" fill="#000" fill-opacity="0.25"/>
<rect x="126.17" y="564.00" width="10.22" height="3.20" rx="1.60" fill="#000" fill-opacity="1"/>
<rect x="138.63" y="563.30" width="10.22" height="4.60" rx="2.30" fill="#000" fill-opacity="1"/>
<rect x="151.10" y="564.00" width="10.22" height="3.20" rx="1.60" fill="#000" fill-opacity="0.95"/>
<rect x="163.56" y="564.00" width="10.22" height="3.20" rx="1.60" fill="#000" fill-opacity="0.85"/>
</g>
<rect x="75.20" y="557.40" width="99.70" height="14.50" fill="none" stroke="#222" stroke-width="0.7"/>
<rect x="75.20" y="576.10" width="99.70" height="15.70" fill="#f8f8f8"/>
<clipPath id="c75_576"><rect x="75.20" y="576.10" width="99.70" height="15.70"/></clipPath>
<g clip-path="url(#c75_576)" filter="url(#blur)">
<rect x="76.45" y="582.50" width="9.97" height="2.40" rx="1.20" fill="#000" fill-opacity="0.85"/>
<rect x="88.91" y="582.40" width="9.97" height="2.60" rx="1.30" fill="#000" fill-opacity="0.9"/>
<rect x="101.37" y="582.60" width="9.97" height="2.20" rx="1.10" fill="#000" fill-opacity="0.75"/>
<rect x="113.83" y="583.10" width="9.97" height="2.00" rx="1.00" fill="#000" fill-opacity="0.22"/>
<rect x="126.30" y="582.70" width="9.97" height="2.80" rx="1.40" fill="#000" fill-opacity="0.95"/>
<rect x="138.76" y="582.50" width="9.97" height="3.20" rx="1.60" fill="#000" fill-opacity="1"/>
<rect x="151.22" y="582.60" width="9.97" height="3.00" rx="1.50" fill="#000" fill-opacity="1"/>
<rect x="163.68" y="582.70" width="9.97" height="2.80" rx="1.40" fill="#000" fill-opacity="0.95"/>
</g>
<rect x="75.20" y="576.10" width="99.70" height="15.70" fill="none" stroke="#222" stroke-width="0.7"/>
<rect x="75.20" y="596.40" width="99.70" height="15.90" fill="#fbfbfb"/>
<clipPath id="c75_596"><rect x="75.20" y="596.40" width="99.70" height="15.90"/></clipPath>
<g clip-path="url(#c75_596)" filter="url(#blur)">
<rect x="76.45" y="605.70" width="9.97" height="1.60" rx="0.80" fill="#000" fill-opacity="0.9"/>
<rect x="88.91" y="604.80" width="9.97" height="2.40" rx="1.20" fill="#000" fill-opacity="1"/>
<rect x="101.37" y="604.70" width="9.97" height="2.60" rx="1.30" fill="#000" fill-opacity="1"/>
<rect x="113.83" y="604.90" width="9.97" height="2.20" rx="1.10" fill="#000" fill-opacity="1"/>
<rect x="126.30" y="605.10" width="9.97" height="1.80" rx="0.90" fill="#000" fill-opacity="0.95"/>
<rect x="138.76" y="605.15" width="9.97" height="1.70" rx="0.85" fill="#000" fill-opacity="0.9"/>
<rect x="151.22" y="604.90" width="9.97" height="2.20" rx="1.10" fill="#000" fill-opacity="1"/>
<rect x="163.68" y="604.80" width="9.97" height="2.40" rx="1.20" fill="#000" fill-opacity="1"/>
</g>
<rect x="75.20" y="596.40" width="99.70" height="15.90" fill="none" stroke="#222" stroke-width="0.7"/>
<text x="69.60" y="532.30" font-size="9.6" text-anchor="end" fill="#111">Cyp2b10</text>
<text x="66.80" y="550.70" font-size="9.6" text-anchor="end" fill="#111">CYP3A4</text>
<text x="65.30" y="569.10" font-size="9.6" text-anchor="end" fill="#111">Cyp7a1</text>
<text x="65.30" y="589.10" font-size="9.6" text-anchor="end" fill="#111">Cyp8b1</text>
<text x="66.80" y="609.00" font-size="9.6" text-anchor="end" fill="#111">β-actin</text>
<text x="180.80" y="533.10" font-size="9.05" fill="#111">58 kDa</text>
<text x="180.80" y="551.30" font-size="9.05" fill="#111">52 kDa</text>
<text x="180.80" y="569.30" font-size="9.05" fill="#111">52 kDa</text>
<text x="182.40" y="587.90" font-size="9.05" fill="#111">58 kDa</text>
<text x="180.80" y="608.50" font-size="9.05" fill="#111">42 kDa</text>
<text x="110.20" y="623.30" font-size="8.2" text-anchor="middle" fill="#111">vehicle</text>
<text x="148.30" y="623.30" font-size="8.2" text-anchor="middle" fill="#111">MI-883</text>
<text x="216.00" y="510.00" font-size="17" font-weight="bold">h</text>
<text x="288.40" y="504.70" font-size="7.45" text-anchor="middle" font-weight="bold">Cyp7a1</text>
<line x1="251.00" y1="548.90" x2="325.30" y2="548.90" stroke="#a4a4a4" stroke-width="0.9" stroke-dasharray="2.6 1.7"/>
<line x1="251.00" y1="515.78" x2="251.00" y2="565.62" stroke="#000" stroke-width="0.85"/>
<line x1="251.00" y1="565.20" x2="325.30" y2="565.20" stroke="#000" stroke-width="0.85"/>
<line x1="249.00" y1="516.20" x2="251.00" y2="516.20" stroke="#000" stroke-width="0.85"/>
<text x="248.60" y="518.79" font-size="7.3" text-anchor="end" font-weight="bold">3</text>
<line x1="249.00" y1="532.50" x2="251.00" y2="532.50" stroke="#000" stroke-width="0.85"/>
<text x="248.60" y="535.09" font-size="7.3" text-anchor="end" font-weight="bold">2</text>
<line x1="249.00" y1="548.90" x2="251.00" y2="548.90" stroke="#000" stroke-width="0.85"/>
<text x="248.60" y="551.49" font-size="7.3" text-anchor="end" font-weight="bold">1</text>
<line x1="249.00" y1="565.20" x2="251.00" y2="565.20" stroke="#000" stroke-width="0.85"/>
<text x="248.60" y="567.79" font-size="7.3" text-anchor="end" font-weight="bold">0</text>
<text transform="translate(242.09 538.60) rotate(-90)" font-size="7.55" text-anchor="middle" font-weight="bold">relative expression</text>
<line x1="271.60" y1="565.20" x2="271.60" y2="567.20" stroke="#000" stroke-width="0.85"/>
<text x="271.60" y="574.79" font-size="7.3" text-anchor="middle" font-weight="bold">control</text>
<line x1="303.80" y1="565.20" x2="303.80" y2="567.20" stroke="#000" stroke-width="0.85"/>
<text x="303.80" y="574.79" font-size="7.3" text-anchor="middle" font-weight="bold">MI-883</text>
<path d="M272.95 520.20C272.98 520.55 273.03 521.62 273.15 522.30C273.28 522.98 273.32 523.60 273.70 524.30C274.07 525.00 274.85 525.63 275.40 526.50C275.95 527.37 276.65 528.52 277.00 529.50C277.35 530.48 277.53 531.40 277.50 532.40C277.47 533.40 277.05 534.52 276.80 535.50C276.55 536.48 276.00 537.38 276.00 538.30C276.00 539.22 276.33 540.05 276.80 541.00C277.27 541.95 278.03 543.00 278.80 544.00C279.57 545.00 280.68 546.00 281.40 547.00C282.12 548.00 282.93 549.08 283.10 550.00C283.27 550.92 282.95 551.58 282.40 552.50C281.85 553.42 280.68 554.42 279.80 555.50C278.92 556.58 277.93 557.83 277.10 559.00C276.27 560.17 275.48 561.38 274.80 562.50C274.12 563.62 273.30 565.17 273.00 565.70 L272.60 565.70C272.30 565.17 271.48 563.62 270.80 562.50C270.12 561.38 269.33 560.17 268.50 559.00C267.67 557.83 266.68 556.58 265.80 555.50C264.92 554.42 263.75 553.42 263.20 552.50C262.65 551.58 262.33 550.92 262.50 550.00C262.67 549.08 263.48 548.00 264.20 547.00C264.92 546.00 266.03 545.00 266.80 544.00C267.57 543.00 268.33 541.95 268.80 541.00C269.27 540.05 269.60 539.22 269.60 538.30C269.60 537.38 269.05 536.48 268.80 535.50C268.55 534.52 268.13 533.40 268.10 532.40C268.07 531.40 268.25 530.48 268.60 529.50C268.95 528.52 269.65 527.37 270.20 526.50C270.75 525.63 271.53 525.00 271.90 524.30C272.28 523.60 272.32 522.98 272.45 522.30C272.57 521.62 272.62 520.55 272.65 520.20Z" fill="#d6d6d6" stroke="#000" stroke-width="0.85" stroke-linejoin="round"/>
<line x1="269.60" y1="538.30" x2="276.00" y2="538.30" stroke="#000" stroke-width="0.5"/>
<line x1="263.20" y1="552.50" x2="282.40" y2="552.50" stroke="#000" stroke-width="0.5"/>
<line x1="262.73" y1="549.60" x2="282.87" y2="549.60" stroke="#000" stroke-width="0.85"/>
<rect x="271.63" y="528.96" width="2.30" height="2.30" fill="#000"/>
<rect x="271.63" y="531.88" width="2.30" height="2.30" fill="#000"/>
<rect x="271.63" y="537.14" width="2.30" height="2.30" fill="#000"/>
<rect x="271.63" y="542.39" width="2.30" height="2.30" fill="#000"/>
<rect x="271.63" y="545.90" width="2.30" height="2.30" fill="#000"/>
<rect x="268.13" y="547.65" width="2.30" height="2.30" fill="#000"/>
<rect x="271.63" y="548.23" width="2.30" height="2.30" fill="#000"/>
<rect x="267.54" y="551.15" width="2.30" height="2.30" fill="#000"/>
<rect x="271.63" y="551.15" width="2.30" height="2.30" fill="#000"/>
<rect x="275.72" y="551.50" width="2.30" height="2.30" fill="#000"/>
<rect x="271.63" y="553.49" width="2.30" height="2.30" fill="#000"/>
<rect x="271.63" y="558.51" width="2.30" height="2.30" fill="#000"/>
<path d="M304.15 544.70C304.22 545.00 304.29 546.03 304.60 546.50C304.91 546.97 305.42 547.07 306.00 547.50C306.58 547.93 307.80 548.52 308.10 549.10C308.40 549.68 307.90 550.47 307.80 551.00C307.70 551.53 307.23 551.83 307.50 552.30C307.77 552.77 308.55 553.32 309.40 553.80C310.25 554.28 311.78 554.73 312.60 555.20C313.42 555.67 314.27 556.13 314.30 556.60C314.33 557.07 313.48 557.47 312.80 558.00C312.12 558.53 311.07 559.17 310.20 559.80C309.33 560.43 308.40 561.18 307.60 561.80C306.80 562.42 305.97 562.93 305.40 563.50C304.83 564.07 304.40 564.92 304.20 565.20 L303.80 565.20C303.60 564.92 303.17 564.07 302.60 563.50C302.03 562.93 301.20 562.42 300.40 561.80C299.60 561.18 298.67 560.43 297.80 559.80C296.93 559.17 295.88 558.53 295.20 558.00C294.52 557.47 293.67 557.07 293.70 556.60C293.73 556.13 294.58 555.67 295.40 555.20C296.22 554.73 297.75 554.28 298.60 553.80C299.45 553.32 300.23 552.77 300.50 552.30C300.77 551.83 300.30 551.53 300.20 551.00C300.10 550.47 299.60 549.68 299.90 549.10C300.20 548.52 301.42 547.93 302.00 547.50C302.58 547.07 303.09 546.97 303.40 546.50C303.71 546.03 303.78 545.00 303.85 544.70Z" fill="#a6a6a6" stroke="#000" stroke-width="0.85" stroke-linejoin="round"/>
<line x1="298.98" y1="553.50" x2="309.02" y2="553.50" stroke="#0a0aff" stroke-width="0.5"/>
<line x1="296.21" y1="558.70" x2="311.79" y2="558.70" stroke="#0a0aff" stroke-width="0.5"/>
<line x1="293.70" y1="556.60" x2="314.30" y2="556.60" stroke="#000" stroke-width="0.85"/>
<rect x="300.69" y="548.08" width="2.60" height="2.60" fill="#0a0aff"/>
<rect x="304.54" y="547.85" width="2.60" height="2.60" fill="#0a0aff"/>
<rect x="302.67" y="551.59" width="2.60" height="2.60" fill="#0a0aff"/>
<rect x="300.69" y="554.16" width="2.60" height="2.60" fill="#0a0aff"/>
<rect x="296.60" y="555.44" width="2.60" height="2.60" fill="#0a0aff"/>
<rect x="304.54" y="555.68" width="2.60" height="2.60" fill="#0a0aff"/>
<rect x="308.86" y="555.09" width="2.60" height="2.60" fill="#0a0aff"/>
<rect x="300.69" y="558.01" width="2.60" height="2.60" fill="#0a0aff"/>
<rect x="300.69" y="559.53" width="2.60" height="2.60" fill="#0a0aff"/>
<rect x="304.54" y="558.60" width="2.60" height="2.60" fill="#0a0aff"/>
<rect x="304.54" y="560.35" width="2.60" height="2.60" fill="#0a0aff"/>
<path d="M272.50 517.00V514.50H304.50V541.40" fill="none" stroke="#000" stroke-width="0.9"/>
<text x="288.40" y="515.02" font-size="9.5" text-anchor="middle" font-weight="bold" letter-spacing="1">**</text>
<text x="399.60" y="504.70" font-size="7.45" text-anchor="middle" font-weight="bold">Cyp8b1</text>
<line x1="363.40" y1="552.60" x2="437.00" y2="552.60" stroke="#666" stroke-width="0.9" stroke-dasharray="2.6 1.7"/>
<line x1="363.40" y1="515.78" x2="363.40" y2="565.12" stroke="#000" stroke-width="0.85"/>
<line x1="363.40" y1="564.70" x2="437.00" y2="564.70" stroke="#000" stroke-width="0.85"/>
<line x1="361.40" y1="516.20" x2="363.40" y2="516.20" stroke="#000" stroke-width="0.85"/>
<text x="361.00" y="518.79" font-size="7.3" text-anchor="end" font-weight="bold">4</text>
<line x1="361.40" y1="528.50" x2="363.40" y2="528.50" stroke="#000" stroke-width="0.85"/>
<text x="361.00" y="531.09" font-size="7.3" text-anchor="end" font-weight="bold">3</text>
<line x1="361.40" y1="540.50" x2="363.40" y2="540.50" stroke="#000" stroke-width="0.85"/>
<text x="361.00" y="543.09" font-size="7.3" text-anchor="end" font-weight="bold">2</text>
<line x1="361.40" y1="552.60" x2="363.40" y2="552.60" stroke="#000" stroke-width="0.85"/>
<text x="361.00" y="555.19" font-size="7.3" text-anchor="end" font-weight="bold">1</text>
<line x1="361.40" y1="564.70" x2="363.40" y2="564.70" stroke="#000" stroke-width="0.85"/>
<text x="361.00" y="567.29" font-size="7.3" text-anchor="end" font-weight="bold">0</text>
<text transform="translate(353.59 537.90) rotate(-90)" font-size="7.55" text-anchor="middle" font-weight="bold">relative expression</text>
<line x1="383.00" y1="564.70" x2="383.00" y2="566.70" stroke="#000" stroke-width="0.85"/>
<text x="383.00" y="574.79" font-size="7.3" text-anchor="middle" font-weight="bold">control</text>
<line x1="415.70" y1="564.70" x2="415.70" y2="566.70" stroke="#000" stroke-width="0.85"/>
<text x="415.70" y="574.79" font-size="7.3" text-anchor="middle" font-weight="bold">MI-883</text>
<path d="M384.52 531.28C384.54 531.57 384.57 532.45 384.63 533.03C384.69 533.61 384.73 534.29 384.87 534.78C385.01 535.27 385.30 535.56 385.45 535.95C385.60 536.34 385.76 536.67 385.80 537.12C385.84 537.57 385.73 538.15 385.69 538.64C385.65 539.13 385.45 539.57 385.57 540.04C385.69 540.51 386.06 541.01 386.39 541.44C386.72 541.87 387.26 542.26 387.55 542.61C387.84 542.96 388.12 543.19 388.14 543.54C388.16 543.89 387.88 544.32 387.67 544.71C387.45 545.10 387.04 545.49 386.85 545.88C386.65 546.27 386.42 546.62 386.50 547.05C386.58 547.48 386.79 547.96 387.32 548.45C387.85 548.94 388.78 549.46 389.66 549.97C390.54 550.48 391.74 550.97 392.58 551.49C393.42 552.01 394.64 552.60 394.68 553.12C394.72 553.64 393.55 554.10 392.81 554.64C392.07 555.18 391.06 555.71 390.24 556.39C389.42 557.07 388.58 557.95 387.90 558.73C387.22 559.51 386.65 560.19 386.15 561.07C385.64 561.95 385.14 563.17 384.87 563.99C384.60 564.81 384.58 565.64 384.52 565.97 L384.28 565.97C384.22 565.64 384.20 564.81 383.93 563.99C383.66 563.17 383.15 561.95 382.65 561.07C382.14 560.19 381.58 559.51 380.90 558.73C380.22 557.95 379.38 557.07 378.56 556.39C377.74 555.71 376.73 555.18 375.99 554.64C375.25 554.10 374.08 553.64 374.12 553.12C374.16 552.60 375.38 552.01 376.22 551.49C377.06 550.97 378.26 550.48 379.14 549.97C380.02 549.46 380.95 548.94 381.48 548.45C382.01 547.96 382.22 547.48 382.30 547.05C382.38 546.62 382.14 546.27 381.95 545.88C381.75 545.49 381.35 545.10 381.13 544.71C380.91 544.32 380.64 543.89 380.66 543.54C380.68 543.19 380.96 542.96 381.25 542.61C381.54 542.26 382.08 541.87 382.41 541.44C382.74 541.01 383.11 540.51 383.23 540.04C383.35 539.57 383.15 539.13 383.11 538.64C383.07 538.15 382.96 537.57 383.00 537.12C383.04 536.67 383.19 536.34 383.35 535.95C383.50 535.56 383.79 535.27 383.93 534.78C384.07 534.29 384.11 533.61 384.17 533.03C384.23 532.45 384.26 531.57 384.28 531.28Z" fill="#d6d6d6" stroke="#000" stroke-width="0.85" stroke-linejoin="round"/>
<line x1="380.76" y1="543.80" x2="388.04" y2="543.80" stroke="#000" stroke-width="0.5"/>
<line x1="376.81" y1="555.20" x2="391.99" y2="555.20" stroke="#000" stroke-width="0.5"/>
<line x1="375.18" y1="552.30" x2="393.62" y2="552.30" stroke="#000" stroke-width="0.85"/>
<circle cx="384.43" cy="537.12" r="1.25" fill="#000"/>
<circle cx="381.28" cy="543.54" r="1.25" fill="#000"/>
<circle cx="384.43" cy="543.54" r="1.25" fill="#000"/>
<circle cx="387.47" cy="543.54" r="1.25" fill="#000"/>
<circle cx="377.77" cy="552.30" r="1.25" fill="#000"/>
<circle cx="382.09" cy="552.65" r="1.25" fill="#000"/>
<circle cx="386.30" cy="552.30" r="1.25" fill="#000"/>
<circle cx="390.97" cy="552.65" r="1.25" fill="#000"/>
<circle cx="382.09" cy="554.99" r="1.25" fill="#000"/>
<circle cx="386.30" cy="555.22" r="1.25" fill="#000"/>
<circle cx="390.62" cy="554.99" r="1.25" fill="#000"/>
<circle cx="384.43" cy="558.96" r="1.25" fill="#000"/>
<path d="M415.82 517.26C415.84 517.55 415.85 518.43 415.93 519.01C416.01 519.59 416.06 520.18 416.28 520.76C416.49 521.34 416.89 521.92 417.22 522.51C417.55 523.10 418.04 523.72 418.27 524.27C418.50 524.82 418.64 525.30 418.62 525.79C418.60 526.28 418.42 526.67 418.15 527.19C417.88 527.72 417.32 528.36 416.99 528.94C416.66 529.52 416.33 530.05 416.17 530.69C416.01 531.33 416.05 532.11 416.05 532.79C416.05 533.47 416.09 534.25 416.17 534.78C416.25 535.31 416.37 535.56 416.52 535.95C416.67 536.34 416.83 536.60 417.10 537.12C417.37 537.64 417.76 538.42 418.15 539.10C418.54 539.78 418.89 540.47 419.44 541.21C419.99 541.95 420.78 542.76 421.42 543.54C422.06 544.32 422.98 545.20 423.29 545.88C423.60 546.56 423.35 547.05 423.29 547.63C423.23 548.21 422.88 548.79 422.94 549.38C423.00 549.97 423.29 550.52 423.64 551.14C423.99 551.76 424.66 552.40 425.05 553.12C425.44 553.84 426.10 554.72 425.98 555.46C425.86 556.20 425.08 556.82 424.34 557.56C423.60 558.30 422.40 559.22 421.54 559.90C420.68 560.58 419.94 561.07 419.20 561.65C418.46 562.23 417.59 562.91 417.10 563.40C416.61 563.89 416.49 564.14 416.28 564.57C416.07 565.00 415.90 565.74 415.82 565.97 L415.58 565.97C415.50 565.74 415.33 565.00 415.12 564.57C414.91 564.14 414.79 563.89 414.30 563.40C413.81 562.91 412.94 562.23 412.20 561.65C411.46 561.07 410.72 560.58 409.86 559.90C409.00 559.22 407.80 558.30 407.06 557.56C406.32 556.82 405.54 556.20 405.42 555.46C405.30 554.72 405.96 553.84 406.35 553.12C406.74 552.40 407.41 551.76 407.76 551.14C408.11 550.52 408.40 549.97 408.46 549.38C408.52 548.79 408.17 548.21 408.11 547.63C408.05 547.05 407.80 546.56 408.11 545.88C408.42 545.20 409.34 544.32 409.98 543.54C410.62 542.76 411.41 541.95 411.96 541.21C412.50 540.47 412.86 539.78 413.25 539.10C413.64 538.42 414.03 537.64 414.30 537.12C414.57 536.60 414.73 536.34 414.88 535.95C415.03 535.56 415.15 535.31 415.23 534.78C415.31 534.25 415.35 533.47 415.35 532.79C415.35 532.11 415.39 531.33 415.23 530.69C415.07 530.05 414.74 529.52 414.41 528.94C414.08 528.36 413.52 527.72 413.25 527.19C412.98 526.67 412.80 526.28 412.78 525.79C412.76 525.30 412.90 524.82 413.13 524.27C413.36 523.72 413.85 523.10 414.18 522.51C414.51 521.92 414.91 521.34 415.12 520.76C415.33 520.18 415.39 519.59 415.47 519.01C415.55 518.43 415.56 517.55 415.58 517.26Z" fill="#a6a6a6" stroke="#000" stroke-width="0.85" stroke-linejoin="round"/>
<line x1="408.11" y1="545.90" x2="423.29" y2="545.90" stroke="#0a0aff" stroke-width="0.5"/>
<line x1="405.45" y1="555.50" x2="425.95" y2="555.50" stroke="#0a0aff" stroke-width="0.5"/>
<line x1="408.09" y1="550.30" x2="423.31" y2="550.30" stroke="#000" stroke-width="0.85"/>
<rect x="414.39" y="524.44" width="2.70" height="2.70" fill="#0a0aff"/>
<rect x="414.39" y="538.69" width="2.70" height="2.70" fill="#0a0aff"/>
<rect x="410.30" y="545.46" width="2.70" height="2.70" fill="#0a0aff"/>
<rect x="418.24" y="544.76" width="2.70" height="2.70" fill="#0a0aff"/>
<rect x="414.39" y="546.86" width="2.70" height="2.70" fill="#0a0aff"/>
<rect x="414.39" y="548.97" width="2.70" height="2.70" fill="#0a0aff"/>
<rect x="410.30" y="553.29" width="2.70" height="2.70" fill="#0a0aff"/>
<rect x="414.39" y="554.46" width="2.70" height="2.70" fill="#0a0aff"/>
<rect x="418.24" y="553.87" width="2.70" height="2.70" fill="#0a0aff"/>
<rect x="418.24" y="555.63" width="2.70" height="2.70" fill="#0a0aff"/>
<rect x="410.30" y="557.73" width="2.70" height="2.70" fill="#0a0aff"/>
<text x="509.40" y="504.70" font-size="7.45" text-anchor="middle" font-weight="bold">Cyp7b1</text>
<line x1="473.40" y1="548.90" x2="547.00" y2="548.90" stroke="#a4a4a4" stroke-width="0.9" stroke-dasharray="2.6 1.7"/>
<line x1="473.40" y1="515.78" x2="473.40" y2="565.62" stroke="#000" stroke-width="0.85"/>
<line x1="473.40" y1="565.20" x2="547.00" y2="565.20" stroke="#000" stroke-width="0.85"/>
<line x1="471.40" y1="516.20" x2="473.40" y2="516.20" stroke="#000" stroke-width="0.85"/>
<text x="471.00" y="518.79" font-size="7.3" text-anchor="end" font-weight="bold">3</text>
<line x1="471.40" y1="532.50" x2="473.40" y2="532.50" stroke="#000" stroke-width="0.85"/>
<text x="471.00" y="535.09" font-size="7.3" text-anchor="end" font-weight="bold">2</text>
<line x1="471.40" y1="548.90" x2="473.40" y2="548.90" stroke="#000" stroke-width="0.85"/>
<text x="471.00" y="551.49" font-size="7.3" text-anchor="end" font-weight="bold">1</text>
<line x1="471.40" y1="565.20" x2="473.40" y2="565.20" stroke="#000" stroke-width="0.85"/>
<text x="471.00" y="567.79" font-size="7.3" text-anchor="end" font-weight="bold">0</text>
<text transform="translate(463.09 537.90) rotate(-90)" font-size="7.55" text-anchor="middle" font-weight="bold">relative expression</text>
<line x1="493.00" y1="565.20" x2="493.00" y2="567.20" stroke="#000" stroke-width="0.85"/>
<text x="493.00" y="574.79" font-size="7.3" text-anchor="middle" font-weight="bold">control</text>
<line x1="525.30" y1="565.20" x2="525.30" y2="567.20" stroke="#000" stroke-width="0.85"/>
<text x="525.30" y="574.79" font-size="7.3" text-anchor="middle" font-weight="bold">MI-883</text>
<path d="M494.03 532.37C494.05 532.74 494.03 533.94 494.16 534.60C494.29 535.26 494.25 535.74 494.82 536.31C495.39 536.88 496.59 537.43 497.58 538.02C498.56 538.61 499.81 539.27 500.73 539.86C501.65 540.45 502.49 540.96 503.10 541.57C503.71 542.18 504.32 542.88 504.41 543.54C504.50 544.20 504.06 544.81 503.62 545.51C503.18 546.21 502.26 546.97 501.78 547.74C501.30 548.51 500.77 549.32 500.73 550.11C500.69 550.90 501.30 551.70 501.52 552.47C501.74 553.24 502.14 553.97 502.05 554.71C501.96 555.46 501.48 556.17 501.00 556.94C500.52 557.71 499.75 558.63 499.16 559.31C498.57 559.99 498.00 560.46 497.45 561.01C496.90 561.56 496.37 562.00 495.87 562.59C495.37 563.18 494.74 564.01 494.43 564.56C494.12 565.11 494.10 565.66 494.03 565.88 L493.77 565.88C493.70 565.66 493.68 565.11 493.37 564.56C493.06 564.01 492.43 563.18 491.93 562.59C491.43 562.00 490.90 561.56 490.35 561.01C489.80 560.46 489.23 559.99 488.64 559.31C488.05 558.63 487.28 557.71 486.80 556.94C486.32 556.17 485.84 555.46 485.75 554.71C485.66 553.97 486.06 553.24 486.28 552.47C486.50 551.70 487.11 550.90 487.07 550.11C487.03 549.32 486.50 548.51 486.02 547.74C485.54 546.97 484.62 546.21 484.18 545.51C483.74 544.81 483.30 544.20 483.39 543.54C483.48 542.88 484.09 542.18 484.70 541.57C485.31 540.96 486.15 540.45 487.07 539.86C487.99 539.27 489.23 538.61 490.22 538.02C491.20 537.43 492.41 536.88 492.98 536.31C493.55 535.74 493.51 535.26 493.64 534.60C493.77 533.94 493.75 532.74 493.77 532.37Z" fill="#d6d6d6" stroke="#000" stroke-width="0.85" stroke-linejoin="round"/>
<line x1="483.42" y1="543.50" x2="504.38" y2="543.50" stroke="#000" stroke-width="0.5"/>
<line x1="485.93" y1="555.10" x2="501.87" y2="555.10" stroke="#000" stroke-width="0.5"/>
<line x1="486.18" y1="548.10" x2="501.62" y2="548.10" stroke="#000" stroke-width="0.85"/>
<rect x="492.76" y="538.45" width="2.30" height="2.30" fill="#000"/>
<rect x="492.76" y="540.42" width="2.30" height="2.30" fill="#000"/>
<rect x="488.82" y="542.39" width="2.30" height="2.30" fill="#000"/>
<rect x="492.76" y="542.39" width="2.30" height="2.30" fill="#000"/>
<rect x="496.70" y="542.39" width="2.30" height="2.30" fill="#000"/>
<rect x="492.76" y="546.99" width="2.30" height="2.30" fill="#000"/>
<rect x="490.79" y="550.27" width="2.30" height="2.30" fill="#000"/>
<rect x="494.99" y="551.85" width="2.30" height="2.30" fill="#000"/>
<rect x="490.79" y="553.95" width="2.30" height="2.30" fill="#000"/>
<rect x="494.99" y="554.87" width="2.30" height="2.30" fill="#000"/>
<rect x="492.76" y="557.50" width="2.30" height="2.30" fill="#000"/>
<path d="M525.53 525.14C525.55 525.53 525.51 526.85 525.66 527.51C525.81 528.17 526.10 528.38 526.45 529.08C526.80 529.78 527.42 530.94 527.77 531.71C528.12 532.48 528.20 533.02 528.55 533.68C528.90 534.34 529.34 534.99 529.87 535.65C530.40 536.31 531.10 536.96 531.71 537.62C532.32 538.28 533.02 538.94 533.55 539.60C534.07 540.26 534.51 540.91 534.86 541.57C535.21 542.23 535.48 542.95 535.65 543.54C535.82 544.13 536.00 544.56 535.91 545.11C535.82 545.66 535.51 546.21 535.12 546.82C534.73 547.43 534.21 548.02 533.55 548.79C532.89 549.56 531.92 550.54 531.18 551.42C530.43 552.30 529.69 553.28 529.08 554.05C528.47 554.82 527.94 555.47 527.50 556.02C527.06 556.57 526.76 556.84 526.45 557.34C526.14 557.84 525.81 558.49 525.66 559.04C525.51 559.59 525.55 560.36 525.53 560.62 L525.27 560.62C525.25 560.36 525.29 559.59 525.14 559.04C524.99 558.49 524.66 557.84 524.35 557.34C524.04 556.84 523.74 556.57 523.30 556.02C522.86 555.47 522.33 554.82 521.72 554.05C521.11 553.28 520.37 552.30 519.62 551.42C518.88 550.54 517.91 549.56 517.25 548.79C516.59 548.02 516.07 547.43 515.68 546.82C515.29 546.21 514.98 545.66 514.89 545.11C514.80 544.56 514.98 544.13 515.15 543.54C515.32 542.95 515.59 542.23 515.94 541.57C516.29 540.91 516.73 540.26 517.25 539.60C517.77 538.94 518.48 538.28 519.09 537.62C519.70 536.96 520.40 536.31 520.93 535.65C521.46 534.99 521.90 534.34 522.25 533.68C522.60 533.02 522.68 532.48 523.03 531.71C523.38 530.94 524.00 529.78 524.35 529.08C524.70 528.38 524.99 528.17 525.14 527.51C525.29 526.85 525.25 525.53 525.27 525.14Z" fill="#a6a6a6" stroke="#000" stroke-width="0.85" stroke-linejoin="round"/>
<line x1="518.46" y1="538.30" x2="532.34" y2="538.30" stroke="#0a0aff" stroke-width="0.5"/>
<line x1="517.02" y1="548.50" x2="533.78" y2="548.50" stroke="#0a0aff" stroke-width="0.5"/>
<line x1="514.89" y1="545.10" x2="535.91" y2="545.10" stroke="#000" stroke-width="0.85"/>
<rect x="524.35" y="530.87" width="2.20" height="2.20" fill="#0a0aff"/>
<rect x="522.38" y="537.18" width="2.20" height="2.20" fill="#0a0aff"/>
<rect x="526.32" y="536.92" width="2.20" height="2.20" fill="#0a0aff"/>
<rect x="522.38" y="540.86" width="2.20" height="2.20" fill="#0a0aff"/>
<rect x="526.32" y="540.86" width="2.20" height="2.20" fill="#0a0aff"/>
<rect x="522.38" y="543.49" width="2.20" height="2.20" fill="#0a0aff"/>
<rect x="526.32" y="543.75" width="2.20" height="2.20" fill="#0a0aff"/>
<rect x="522.38" y="546.12" width="2.20" height="2.20" fill="#0a0aff"/>
<rect x="525.66" y="546.38" width="2.20" height="2.20" fill="#0a0aff"/>
<rect x="524.35" y="549.01" width="2.20" height="2.20" fill="#0a0aff"/>
<rect x="524.35" y="550.98" width="2.20" height="2.20" fill="#0a0aff"/>
<rect x="524.35" y="552.69" width="2.20" height="2.20" fill="#0a0aff"/>
<text x="627.40" y="505.50" font-size="7.45" text-anchor="middle" font-weight="bold">Cyp27a1</text>
<line x1="590.00" y1="548.90" x2="664.60" y2="548.90" stroke="#a4a4a4" stroke-width="0.9" stroke-dasharray="1.6 1.5"/>
<line x1="590.00" y1="516.18" x2="590.00" y2="565.62" stroke="#000" stroke-width="0.85"/>
<line x1="590.00" y1="565.20" x2="664.60" y2="565.20" stroke="#000" stroke-width="0.85"/>
<line x1="588.00" y1="516.60" x2="590.00" y2="516.60" stroke="#000" stroke-width="0.85"/>
<text x="587.60" y="519.19" font-size="7.3" text-anchor="end" font-weight="bold">3</text>
<line x1="588.00" y1="532.50" x2="590.00" y2="532.50" stroke="#000" stroke-width="0.85"/>
<text x="587.60" y="535.09" font-size="7.3" text-anchor="end" font-weight="bold">2</text>
<line x1="588.00" y1="548.90" x2="590.00" y2="548.90" stroke="#000" stroke-width="0.85"/>
<text x="587.60" y="551.49" font-size="7.3" text-anchor="end" font-weight="bold">1</text>
<line x1="588.00" y1="565.20" x2="590.00" y2="565.20" stroke="#000" stroke-width="0.85"/>
<text x="587.60" y="567.79" font-size="7.3" text-anchor="end" font-weight="bold">0</text>
<text transform="translate(581.39 538.40) rotate(-90)" font-size="7.55" text-anchor="middle" font-weight="bold">relative expression</text>
<line x1="610.80" y1="565.20" x2="610.80" y2="567.20" stroke="#000" stroke-width="0.85"/>
<text x="610.80" y="574.99" font-size="7.3" text-anchor="middle" font-weight="bold">control</text>
<line x1="643.10" y1="565.20" x2="643.10" y2="567.20" stroke="#000" stroke-width="0.85"/>
<text x="643.10" y="574.99" font-size="7.3" text-anchor="middle" font-weight="bold">MI-883</text>
<path d="M611.60 541.09C611.91 541.33 612.63 542.01 613.44 542.52C614.26 543.03 615.35 543.55 616.51 544.16C617.67 544.77 619.54 545.35 620.39 546.20C621.24 547.05 621.65 548.35 621.62 549.27C621.58 550.19 620.97 551.01 620.19 551.72C619.40 552.44 617.97 552.95 616.92 553.56C615.86 554.17 614.74 554.75 613.85 555.40C612.97 556.05 611.98 557.10 611.60 557.44 L611.20 557.44C610.82 557.10 609.83 556.05 608.95 555.40C608.06 554.75 606.94 554.17 605.88 553.56C604.83 552.95 603.40 552.44 602.61 551.72C601.83 551.01 601.22 550.19 601.18 549.27C601.15 548.35 601.56 547.05 602.41 546.20C603.26 545.35 605.13 544.77 606.29 544.16C607.45 543.55 608.54 543.03 609.36 542.52C610.17 542.01 610.89 541.33 611.20 541.09Z" fill="#f1f1f1" stroke="#000" stroke-width="0.9" stroke-linejoin="round"/>
<circle cx="611.42" cy="544.16" r="1.05" fill="#000"/>
<circle cx="606.31" cy="546.20" r="1.05" fill="#000"/>
<circle cx="611.42" cy="546.61" r="1.05" fill="#000"/>
<circle cx="616.53" cy="546.20" r="1.05" fill="#000"/>
<circle cx="604.27" cy="549.27" r="1.05" fill="#000"/>
<circle cx="608.97" cy="549.27" r="1.05" fill="#000"/>
<circle cx="613.87" cy="549.27" r="1.05" fill="#000"/>
<circle cx="618.57" cy="549.27" r="1.05" fill="#000"/>
<circle cx="606.31" cy="551.93" r="1.05" fill="#000"/>
<circle cx="611.42" cy="551.93" r="1.05" fill="#000"/>
<circle cx="616.53" cy="551.93" r="1.05" fill="#000"/>
<circle cx="611.42" cy="554.79" r="1.05" fill="#000"/>
<line x1="602.80" y1="546.20" x2="620.00" y2="546.20" stroke="#000" stroke-width="0.9"/>
<line x1="601.40" y1="549.30" x2="621.40" y2="549.30" stroke="#000" stroke-width="0.9"/>
<line x1="602.80" y1="552.30" x2="620.00" y2="552.30" stroke="#000" stroke-width="0.9"/>
<line x1="611.40" y1="541.10" x2="611.40" y2="557.40" stroke="#000" stroke-width="0.6"/>
<path d="M643.70 516.10C643.87 516.42 644.30 517.32 644.70 518.00C645.10 518.68 645.70 519.45 646.10 520.20C646.50 520.95 646.88 521.72 647.10 522.50C647.32 523.28 647.43 524.10 647.40 524.90C647.37 525.70 647.12 526.53 646.90 527.30C646.68 528.07 646.38 528.55 646.10 529.50C645.83 530.45 645.27 531.92 645.25 533.00C645.23 534.08 645.69 535.02 646.00 536.00C646.31 536.98 646.63 537.63 647.10 538.90C647.57 540.17 648.23 542.42 648.80 543.60C649.37 544.78 649.98 545.23 650.50 546.00C651.02 546.77 651.42 547.52 651.90 548.20C652.38 548.88 653.08 549.30 653.40 550.10C653.72 550.90 653.95 552.18 653.80 553.00C653.65 553.82 653.05 554.42 652.50 555.00C651.95 555.58 651.23 555.95 650.50 556.50C649.77 557.05 648.85 557.72 648.10 558.30C647.35 558.88 646.62 559.30 646.00 560.00C645.38 560.70 644.78 561.60 644.40 562.50C644.02 563.40 643.82 564.92 643.70 565.40 L643.30 565.40C643.18 564.92 642.98 563.40 642.60 562.50C642.22 561.60 641.62 560.70 641.00 560.00C640.38 559.30 639.65 558.88 638.90 558.30C638.15 557.72 637.23 557.05 636.50 556.50C635.77 555.95 635.05 555.58 634.50 555.00C633.95 554.42 633.35 553.82 633.20 553.00C633.05 552.18 633.28 550.90 633.60 550.10C633.92 549.30 634.62 548.88 635.10 548.20C635.58 547.52 635.98 546.77 636.50 546.00C637.02 545.23 637.63 544.78 638.20 543.60C638.77 542.42 639.43 540.17 639.90 538.90C640.37 537.63 640.69 536.98 641.00 536.00C641.31 535.02 641.77 534.08 641.75 533.00C641.73 531.92 641.17 530.45 640.90 529.50C640.62 528.55 640.32 528.07 640.10 527.30C639.88 526.53 639.63 525.70 639.60 524.90C639.57 524.10 639.68 523.28 639.90 522.50C640.12 521.72 640.50 520.95 640.90 520.20C641.30 519.45 641.90 518.68 642.30 518.00C642.70 517.32 643.13 516.42 643.30 516.10Z" fill="#a6a6a6" stroke="#000" stroke-width="0.85" stroke-linejoin="round"/>
<line x1="640.01" y1="538.60" x2="646.99" y2="538.60" stroke="#0a0aff" stroke-width="0.5"/>
<line x1="634.11" y1="554.40" x2="652.89" y2="554.40" stroke="#0a0aff" stroke-width="0.5"/>
<rect x="642.21" y="523.03" width="2.60" height="2.60" fill="#0a0aff"/>
<rect x="642.21" y="525.49" width="2.60" height="2.60" fill="#0a0aff"/>
<rect x="639.76" y="537.34" width="2.60" height="2.60" fill="#0a0aff"/>
<rect x="643.84" y="537.34" width="2.60" height="2.60" fill="#0a0aff"/>
<rect x="639.76" y="545.52" width="2.60" height="2.60" fill="#0a0aff"/>
<rect x="643.84" y="546.54" width="2.60" height="2.60" fill="#0a0aff"/>
<rect x="642.21" y="549.60" width="2.60" height="2.60" fill="#0a0aff"/>
<rect x="639.76" y="552.06" width="2.60" height="2.60" fill="#0a0aff"/>
<rect x="635.67" y="553.69" width="2.60" height="2.60" fill="#0a0aff"/>
<rect x="643.84" y="554.10" width="2.60" height="2.60" fill="#0a0aff"/>
<rect x="647.93" y="552.67" width="2.60" height="2.60" fill="#0a0aff"/>
<text x="5.50" y="631.00" font-size="17" font-weight="bold">i</text>
<text x="68.20" y="652.30" font-size="7.45" text-anchor="middle" font-weight="bold">Srebf1</text>
<line x1="31.10" y1="685.70" x2="104.60" y2="685.70" stroke="#666" stroke-width="0.9" stroke-dasharray="2.6 1.7"/>
<line x1="31.10" y1="660.98" x2="31.10" y2="710.82" stroke="#000" stroke-width="0.85"/>
<line x1="31.10" y1="710.40" x2="104.60" y2="710.40" stroke="#000" stroke-width="0.85"/>
<line x1="29.10" y1="661.40" x2="31.10" y2="661.40" stroke="#000" stroke-width="0.85"/>
<text x="28.70" y="663.99" font-size="7.3" text-anchor="end" font-weight="bold">2.0</text>
<line x1="29.10" y1="673.50" x2="31.10" y2="673.50" stroke="#000" stroke-width="0.85"/>
<text x="28.70" y="676.09" font-size="7.3" text-anchor="end" font-weight="bold">1.5</text>
<line x1="29.10" y1="685.70" x2="31.10" y2="685.70" stroke="#000" stroke-width="0.85"/>
<text x="28.70" y="688.29" font-size="7.3" text-anchor="end" font-weight="bold">1.0</text>
<line x1="29.10" y1="698.10" x2="31.10" y2="698.10" stroke="#000" stroke-width="0.85"/>
<text x="28.70" y="700.69" font-size="7.3" text-anchor="end" font-weight="bold">0.5</text>
<line x1="29.10" y1="710.40" x2="31.10" y2="710.40" stroke="#000" stroke-width="0.85"/>
<text x="28.70" y="712.99" font-size="7.3" text-anchor="end" font-weight="bold">0.0</text>
<text transform="translate(16.09 683.60) rotate(-90)" font-size="7.55" text-anchor="middle" font-weight="bold">relative expression</text>
<line x1="51.90" y1="710.40" x2="51.90" y2="712.40" stroke="#000" stroke-width="0.85"/>
<text x="51.90" y="720.09" font-size="7.3" text-anchor="middle" font-weight="bold">control</text>
<line x1="84.10" y1="710.40" x2="84.10" y2="712.40" stroke="#000" stroke-width="0.85"/>
<text x="84.10" y="720.09" font-size="7.3" text-anchor="middle" font-weight="bold">MI-883</text>
<path d="M52.92 673.19C52.94 673.54 52.85 674.71 53.03 675.29C53.20 675.87 53.13 676.17 53.97 676.69C54.81 677.22 57.05 677.90 58.06 678.44C59.07 678.99 59.52 679.47 60.04 679.96C60.56 680.45 61.05 680.64 61.21 681.36C61.37 682.08 61.17 683.41 60.98 684.29C60.78 685.17 59.94 685.84 60.04 686.62C60.14 687.40 61.05 688.18 61.56 688.96C62.07 689.74 63.18 690.61 63.08 691.29C62.98 691.97 62.01 692.37 60.98 693.05C59.95 693.73 58.06 694.60 56.89 695.38C55.72 696.16 54.59 697.13 53.97 697.72C53.35 698.31 53.33 698.50 53.15 698.89C52.97 699.28 52.96 699.87 52.92 700.06 L52.68 700.06C52.64 699.87 52.62 699.28 52.45 698.89C52.27 698.50 52.25 698.31 51.63 697.72C51.01 697.13 49.88 696.16 48.71 695.38C47.54 694.60 45.65 693.73 44.62 693.05C43.59 692.37 42.62 691.97 42.52 691.29C42.42 690.61 43.53 689.74 44.04 688.96C44.55 688.18 45.46 687.40 45.56 686.62C45.66 685.84 44.81 685.17 44.62 684.29C44.42 683.41 44.23 682.08 44.39 681.36C44.55 680.64 45.03 680.45 45.56 679.96C46.08 679.47 46.53 678.99 47.54 678.44C48.55 677.90 50.79 677.22 51.63 676.69C52.47 676.17 52.39 675.87 52.57 675.29C52.75 674.71 52.66 673.54 52.68 673.19Z" fill="#d6d6d6" stroke="#000" stroke-width="0.85" stroke-linejoin="round"/>
<line x1="44.39" y1="681.40" x2="61.21" y2="681.40" stroke="#000" stroke-width="0.5"/>
<line x1="42.77" y1="691.50" x2="62.83" y2="691.50" stroke="#000" stroke-width="0.5"/>
<line x1="45.23" y1="685.80" x2="60.37" y2="685.80" stroke="#000" stroke-width="0.85"/>
<circle cx="49.03" cy="680.78" r="1.25" fill="#000"/>
<circle cx="52.77" cy="679.61" r="1.25" fill="#000"/>
<circle cx="52.77" cy="682.53" r="1.25" fill="#000"/>
<circle cx="49.03" cy="686.04" r="1.25" fill="#000"/>
<circle cx="52.77" cy="686.04" r="1.25" fill="#000"/>
<circle cx="56.62" cy="685.80" r="1.25" fill="#000"/>
<circle cx="49.03" cy="689.78" r="1.25" fill="#000"/>
<circle cx="52.77" cy="691.88" r="1.25" fill="#000"/>
<circle cx="56.62" cy="691.29" r="1.25" fill="#000"/>
<circle cx="56.62" cy="692.81" r="1.25" fill="#000"/>
<circle cx="49.03" cy="694.80" r="1.25" fill="#000"/>
<path d="M84.52 678.44C84.54 678.69 84.53 679.57 84.63 679.96C84.73 680.35 84.75 680.35 85.10 680.78C85.45 681.21 86.18 681.75 86.74 682.53C87.31 683.31 87.91 684.57 88.49 685.45C89.07 686.33 89.56 687.11 90.24 687.79C90.92 688.47 91.84 689.01 92.58 689.54C93.32 690.06 94.78 690.45 94.68 690.94C94.58 691.43 92.89 691.82 91.99 692.46C91.10 693.10 90.03 693.92 89.31 694.80C88.59 695.68 88.25 696.75 87.67 697.72C87.09 698.69 86.27 699.86 85.80 700.64C85.33 701.42 85.08 701.90 84.87 702.39C84.66 702.88 84.58 703.37 84.52 703.56 L84.28 703.56C84.22 703.37 84.14 702.88 83.93 702.39C83.72 701.90 83.47 701.42 83.00 700.64C82.53 699.86 81.72 698.69 81.13 697.72C80.55 696.75 80.21 695.68 79.49 694.80C78.77 693.92 77.70 693.10 76.81 692.46C75.92 691.82 74.22 691.43 74.12 690.94C74.02 690.45 75.48 690.06 76.22 689.54C76.96 689.01 77.88 688.47 78.56 687.79C79.24 687.11 79.73 686.33 80.31 685.45C80.89 684.57 81.50 683.31 82.06 682.53C82.62 681.75 83.35 681.21 83.70 680.78C84.05 680.35 84.07 680.35 84.17 679.96C84.27 679.57 84.26 678.69 84.28 678.44Z" fill="#a6a6a6" stroke="#000" stroke-width="0.85" stroke-linejoin="round"/>
<line x1="76.54" y1="689.30" x2="92.26" y2="689.30" stroke="#0a0aff" stroke-width="0.5"/>
<line x1="77.66" y1="693.20" x2="91.14" y2="693.20" stroke="#0a0aff" stroke-width="0.5"/>
<line x1="74.23" y1="691.00" x2="94.57" y2="691.00" stroke="#000" stroke-width="0.85"/>
<circle cx="84.43" cy="683.12" r="1.50" fill="#0a0aff"/>
<circle cx="82.32" cy="686.62" r="1.50" fill="#0a0aff"/>
<circle cx="86.41" cy="688.61" r="1.50" fill="#0a0aff"/>
<circle cx="78.23" cy="689.78" r="1.50" fill="#0a0aff"/>
<circle cx="82.32" cy="690.13" r="1.50" fill="#0a0aff"/>
<circle cx="86.41" cy="691.88" r="1.50" fill="#0a0aff"/>
<circle cx="89.92" cy="691.64" r="1.50" fill="#0a0aff"/>
<circle cx="82.32" cy="692.81" r="1.50" fill="#0a0aff"/>
<circle cx="82.32" cy="695.62" r="1.50" fill="#0a0aff"/>
<circle cx="86.41" cy="695.97" r="1.50" fill="#0a0aff"/>
<circle cx="84.43" cy="698.89" r="1.50" fill="#0a0aff"/>
<path d="M52.50 669.70V667.50H84.50V674.40" fill="none" stroke="#000" stroke-width="0.9"/>
<text x="68.50" y="669.12" font-size="12" text-anchor="middle" font-weight="bold">*</text>
<text x="190.10" y="650.80" font-size="7.45" text-anchor="middle" font-weight="bold">Srebp1 protein</text>
<line x1="145.50" y1="660.38" x2="145.50" y2="709.82" stroke="#000" stroke-width="0.85"/>
<line x1="145.50" y1="709.40" x2="233.30" y2="709.40" stroke="#000" stroke-width="0.85"/>
<line x1="143.90" y1="660.80" x2="145.50" y2="660.80" stroke="#000" stroke-width="0.85"/>
<text x="143.50" y="663.39" font-size="7.3" text-anchor="end" font-weight="bold">2.0</text>
<line x1="143.90" y1="673.20" x2="145.50" y2="673.20" stroke="#000" stroke-width="0.85"/>
<text x="143.50" y="675.79" font-size="7.3" text-anchor="end" font-weight="bold">1.5</text>
<line x1="143.90" y1="685.40" x2="145.50" y2="685.40" stroke="#000" stroke-width="0.85"/>
<text x="143.50" y="687.99" font-size="7.3" text-anchor="end" font-weight="bold">1.0</text>
<line x1="143.90" y1="697.50" x2="145.50" y2="697.50" stroke="#000" stroke-width="0.85"/>
<text x="143.50" y="700.09" font-size="7.3" text-anchor="end" font-weight="bold">0.5</text>
<line x1="143.90" y1="709.40" x2="145.50" y2="709.40" stroke="#000" stroke-width="0.85"/>
<text x="143.50" y="711.99" font-size="7.3" text-anchor="end" font-weight="bold">0.0</text>
<text transform="translate(122.59 683.70) rotate(-90)" font-size="7.55" text-anchor="middle" font-weight="bold">relative protein</text>
<text transform="translate(131.19 683.70) rotate(-90)" font-size="7.55" text-anchor="middle" font-weight="bold">expression</text>
<rect x="153.20" y="684.90" width="13.60" height="24.50" fill="#a2a2a2" stroke="#000" stroke-width="0.8"/>
<rect x="173.10" y="691.20" width="13.50" height="18.20" fill="#d8d8d8" stroke="#000" stroke-width="0.8"/>
<rect x="193.40" y="678.60" width="13.10" height="30.80" fill="#7f7f7f" stroke="#000" stroke-width="0.8"/>
<rect x="213.20" y="676.30" width="13.10" height="33.10" fill="#d8d8d8" stroke="#000" stroke-width="0.8"/>
<line x1="160.00" y1="672.70" x2="160.00" y2="696.10" stroke="#777" stroke-width="0.7"/>
<line x1="156.70" y1="672.70" x2="163.30" y2="672.70" stroke="#777" stroke-width="0.7"/>
<line x1="156.70" y1="696.10" x2="163.30" y2="696.10" stroke="#777" stroke-width="0.7"/>
<line x1="179.80" y1="681.40" x2="179.80" y2="700.10" stroke="#0a0aff" stroke-width="0.7"/>
<line x1="176.50" y1="681.40" x2="183.10" y2="681.40" stroke="#0a0aff" stroke-width="0.7"/>
<line x1="176.50" y1="700.10" x2="183.10" y2="700.10" stroke="#0a0aff" stroke-width="0.7"/>
<line x1="199.90" y1="670.90" x2="199.90" y2="686.00" stroke="#000" stroke-width="0.7"/>
<line x1="196.60" y1="670.90" x2="203.20" y2="670.90" stroke="#000" stroke-width="0.7"/>
<line x1="196.60" y1="686.00" x2="203.20" y2="686.00" stroke="#000" stroke-width="0.7"/>
<line x1="219.80" y1="669.70" x2="219.80" y2="683.00" stroke="#0a0aff" stroke-width="0.7"/>
<line x1="216.50" y1="669.70" x2="223.10" y2="669.70" stroke="#0a0aff" stroke-width="0.7"/>
<line x1="216.50" y1="683.00" x2="223.10" y2="683.00" stroke="#0a0aff" stroke-width="0.7"/>
<circle cx="160.00" cy="668.10" r="1.60" fill="#000"/>
<circle cx="160.00" cy="685.40" r="1.60" fill="#000"/>
<circle cx="160.00" cy="690.00" r="1.60" fill="#000"/>
<circle cx="160.00" cy="694.90" r="1.60" fill="#000"/>
<circle cx="203.40" cy="670.40" r="1.60" fill="#000"/>
<circle cx="197.10" cy="685.40" r="1.60" fill="#000"/>
<circle cx="199.90" cy="685.40" r="1.60" fill="#000"/>
<circle cx="202.70" cy="685.40" r="1.60" fill="#000"/>
<circle cx="179.80" cy="677.90" r="1.60" fill="#0a0aff"/>
<circle cx="179.80" cy="690.30" r="1.60" fill="#0a0aff"/>
<circle cx="179.80" cy="694.20" r="1.60" fill="#0a0aff"/>
<circle cx="179.80" cy="699.60" r="1.60" fill="#0a0aff"/>
<circle cx="219.80" cy="668.10" r="1.60" fill="#0a0aff"/>
<circle cx="223.30" cy="673.90" r="1.60" fill="#0a0aff"/>
<circle cx="223.30" cy="679.80" r="1.60" fill="#0a0aff"/>
<circle cx="216.80" cy="682.60" r="1.60" fill="#0a0aff"/>
<circle cx="219.80" cy="681.40" r="1.60" fill="#0a0aff"/>
<line x1="160.00" y1="709.40" x2="160.00" y2="711.40" stroke="#000" stroke-width="0.85"/>
<line x1="179.80" y1="709.40" x2="179.80" y2="711.40" stroke="#000" stroke-width="0.85"/>
<line x1="199.90" y1="709.40" x2="199.90" y2="711.40" stroke="#000" stroke-width="0.85"/>
<line x1="219.80" y1="709.40" x2="219.80" y2="711.40" stroke="#000" stroke-width="0.85"/>
<text transform="translate(161.50 716.30) rotate(-45)" font-size="7.3" text-anchor="end" font-weight="bold">control</text>
<text transform="translate(181.30 716.30) rotate(-45)" font-size="7.3" text-anchor="end" font-weight="bold">MI-883</text>
<text transform="translate(201.40 716.30) rotate(-45)" font-size="7.3" text-anchor="end" font-weight="bold">control</text>
<text transform="translate(221.30 716.30) rotate(-45)" font-size="7.3" text-anchor="end" font-weight="bold">MI-883</text>
<line x1="150.20" y1="740.70" x2="184.30" y2="740.70" stroke="#000" stroke-width="0.8"/>
<line x1="194.60" y1="740.30" x2="227.50" y2="740.30" stroke="#888" stroke-width="0.9"/>
<text x="171.10" y="749.20" font-size="7.8" text-anchor="middle" fill="#111">120 kDa</text>
<text x="208.30" y="749.20" font-size="7.8" text-anchor="middle" fill="#111">68 kDa</text>
<text x="314.80" y="651.80" font-size="7.45" text-anchor="middle" font-weight="bold">Srebp2 protein</text>
<line x1="271.30" y1="662.98" x2="271.30" y2="712.62" stroke="#000" stroke-width="0.85"/>
<line x1="271.30" y1="712.20" x2="359.20" y2="712.20" stroke="#000" stroke-width="0.85"/>
<line x1="269.70" y1="663.40" x2="271.30" y2="663.40" stroke="#000" stroke-width="0.85"/>
<text x="269.30" y="665.99" font-size="7.3" text-anchor="end" font-weight="bold">2.0</text>
<line x1="269.70" y1="675.50" x2="271.30" y2="675.50" stroke="#000" stroke-width="0.85"/>
<text x="269.30" y="678.09" font-size="7.3" text-anchor="end" font-weight="bold">1.5</text>
<line x1="269.70" y1="687.50" x2="271.30" y2="687.50" stroke="#000" stroke-width="0.85"/>
<text x="269.30" y="690.09" font-size="7.3" text-anchor="end" font-weight="bold">1.0</text>
<line x1="269.70" y1="699.60" x2="271.30" y2="699.60" stroke="#000" stroke-width="0.85"/>
<text x="269.30" y="702.19" font-size="7.3" text-anchor="end" font-weight="bold">0.5</text>
<line x1="269.70" y1="712.20" x2="271.30" y2="712.20" stroke="#000" stroke-width="0.85"/>
<text x="269.30" y="714.79" font-size="7.3" text-anchor="end" font-weight="bold">0.0</text>
<text transform="translate(247.29 684.90) rotate(-90)" font-size="7.55" text-anchor="middle" font-weight="bold">relative protein</text>
<text transform="translate(255.89 684.90) rotate(-90)" font-size="7.55" text-anchor="middle" font-weight="bold">expression</text>
<rect x="278.60" y="687.70" width="13.30" height="24.50" fill="#a2a2a2" stroke="#000" stroke-width="0.8"/>
<rect x="298.40" y="673.90" width="13.40" height="38.30" fill="#d8d8d8" stroke="#000" stroke-width="0.8"/>
<rect x="318.30" y="687.70" width="13.80" height="24.50" fill="#7f7f7f" stroke="#000" stroke-width="0.8"/>
<rect x="338.60" y="697.30" width="13.30" height="14.90" fill="#d8d8d8" stroke="#000" stroke-width="0.8"/>
<line x1="271.30" y1="687.50" x2="359.20" y2="687.50" stroke="#222" stroke-width="0.6" stroke-dasharray="2.6 1.4"/>
<line x1="285.40" y1="683.70" x2="285.40" y2="691.20" stroke="#000" stroke-width="0.7"/>
<line x1="282.10" y1="683.70" x2="288.70" y2="683.70" stroke="#000" stroke-width="0.7"/>
<line x1="282.10" y1="691.20" x2="288.70" y2="691.20" stroke="#000" stroke-width="0.7"/>
<line x1="305.20" y1="666.70" x2="305.20" y2="681.40" stroke="#0a0aff" stroke-width="0.7"/>
<line x1="301.90" y1="666.70" x2="308.50" y2="666.70" stroke="#0a0aff" stroke-width="0.7"/>
<line x1="301.90" y1="681.40" x2="308.50" y2="681.40" stroke="#0a0aff" stroke-width="0.7"/>
<line x1="325.10" y1="680.70" x2="325.10" y2="694.20" stroke="#000" stroke-width="0.7"/>
<line x1="321.80" y1="680.70" x2="328.40" y2="680.70" stroke="#000" stroke-width="0.7"/>
<line x1="321.80" y1="694.20" x2="328.40" y2="694.20" stroke="#000" stroke-width="0.7"/>
<line x1="345.20" y1="694.70" x2="345.20" y2="699.60" stroke="#0a0aff" stroke-width="0.7"/>
<line x1="341.90" y1="694.70" x2="348.50" y2="694.70" stroke="#0a0aff" stroke-width="0.7"/>
<line x1="341.90" y1="699.60" x2="348.50" y2="699.60" stroke="#0a0aff" stroke-width="0.7"/>
<circle cx="285.36" cy="682.56" r="1.60" fill="#000"/>
<circle cx="282.56" cy="687.23" r="1.60" fill="#000"/>
<circle cx="287.93" cy="687.23" r="1.60" fill="#000"/>
<circle cx="285.36" cy="692.37" r="1.60" fill="#000"/>
<circle cx="325.07" cy="681.39" r="1.60" fill="#000"/>
<circle cx="322.27" cy="686.76" r="1.60" fill="#000"/>
<circle cx="328.11" cy="686.76" r="1.60" fill="#000"/>
<circle cx="325.07" cy="697.74" r="1.60" fill="#000"/>
<rect x="300.81" y="668.81" width="3.20" height="3.20" fill="#0a0aff"/>
<rect x="306.65" y="666.48" width="3.20" height="3.20" fill="#0a0aff"/>
<rect x="306.65" y="671.15" width="3.20" height="3.20" fill="#0a0aff"/>
<rect x="303.62" y="683.76" width="3.20" height="3.20" fill="#0a0aff"/>
<circle cx="339.79" cy="694.94" r="1.60" fill="#0a0aff"/>
<circle cx="345.16" cy="694.94" r="1.60" fill="#0a0aff"/>
<circle cx="342.12" cy="698.21" r="1.60" fill="#0a0aff"/>
<circle cx="350.30" cy="697.74" r="1.60" fill="#0a0aff"/>
<text x="344.50" y="682.40" font-size="7.6" text-anchor="middle" fill="#222">ns</text>
<line x1="285.40" y1="712.20" x2="285.40" y2="714.20" stroke="#000" stroke-width="0.85"/>
<line x1="305.20" y1="712.20" x2="305.20" y2="714.20" stroke="#000" stroke-width="0.85"/>
<line x1="325.10" y1="712.20" x2="325.10" y2="714.20" stroke="#000" stroke-width="0.85"/>
<line x1="345.20" y1="712.20" x2="345.20" y2="714.20" stroke="#000" stroke-width="0.85"/>
<text transform="translate(286.90 719.10) rotate(-45)" font-size="7.3" text-anchor="end" font-weight="bold">control</text>
<text transform="translate(306.70 719.10) rotate(-45)" font-size="7.3" text-anchor="end" font-weight="bold">MI-883</text>
<text transform="translate(326.60 719.10) rotate(-45)" font-size="7.3" text-anchor="end" font-weight="bold">control</text>
<text transform="translate(346.70 719.10) rotate(-45)" font-size="7.3" text-anchor="end" font-weight="bold">MI-883</text>
<line x1="274.80" y1="743.30" x2="309.40" y2="743.30" stroke="#000" stroke-width="0.8"/>
<line x1="319.90" y1="743.30" x2="352.60" y2="743.30" stroke="#000" stroke-width="0.8"/>
<text x="296.30" y="750.50" font-size="7.8" text-anchor="middle" fill="#111">120 kDa</text>
<text x="333.40" y="750.50" font-size="7.8" text-anchor="middle" fill="#111">60 kDa</text>
<rect x="414.00" y="628.20" width="99.90" height="32.70" fill="#f7f7f7"/>
<clipPath id="c414_628"><rect x="414.00" y="628.20" width="99.90" height="32.70"/></clipPath>
<g clip-path="url(#c414_628)" filter="url(#blur)">
<rect x="415.37" y="634.30" width="9.74" height="2.00" rx="1.00" fill="#000" fill-opacity="0.5"/>
<rect x="427.86" y="634.40" width="9.74" height="1.80" rx="0.90" fill="#000" fill-opacity="0.3"/>
<rect x="440.35" y="633.90" width="9.74" height="2.80" rx="1.40" fill="#000" fill-opacity="1"/>
<rect x="452.84" y="634.30" width="9.74" height="2.00" rx="1.00" fill="#000" fill-opacity="0.55"/>
<rect x="465.32" y="634.30" width="9.74" height="2.00" rx="1.00" fill="#000" fill-opacity="0.55"/>
<rect x="477.81" y="634.40" width="9.74" height="1.80" rx="0.90" fill="#000" fill-opacity="0.45"/>
<rect x="490.30" y="634.10" width="9.74" height="2.40" rx="1.20" fill="#000" fill-opacity="0.85"/>
<rect x="502.79" y="634.40" width="9.74" height="1.80" rx="0.90" fill="#000" fill-opacity="0.3"/>
<rect x="415.56" y="641.25" width="9.37" height="1.50" rx="0.75" fill="#555" fill-opacity="0.12"/>
<rect x="428.05" y="641.25" width="9.37" height="1.50" rx="0.75" fill="#555" fill-opacity="0.12"/>
<rect x="440.54" y="641.25" width="9.37" height="1.50" rx="0.75" fill="#555" fill-opacity="0.12"/>
<rect x="453.02" y="641.25" width="9.37" height="1.50" rx="0.75" fill="#555" fill-opacity="0.12"/>
<rect x="465.51" y="641.25" width="9.37" height="1.50" rx="0.75" fill="#555" fill-opacity="0.12"/>
<rect x="478.00" y="641.25" width="9.37" height="1.50" rx="0.75" fill="#555" fill-opacity="0.12"/>
<rect x="490.49" y="641.25" width="9.37" height="1.50" rx="0.75" fill="#555" fill-opacity="0.12"/>
<rect x="502.97" y="641.25" width="9.37" height="1.50" rx="0.75" fill="#555" fill-opacity="0.12"/>
<rect x="440.22" y="646.00" width="9.99" height="2.00" rx="1.00" fill="#555" fill-opacity="0.2"/>
<rect x="452.71" y="646.50" width="9.99" height="2.00" rx="1.00" fill="#555" fill-opacity="0.15"/>
<rect x="415.00" y="652.85" width="10.49" height="1.90" rx="0.95" fill="#000" fill-opacity="1"/>
<rect x="427.49" y="652.60" width="10.49" height="1.90" rx="0.95" fill="#000" fill-opacity="1"/>
<rect x="439.97" y="652.35" width="10.49" height="1.90" rx="0.95" fill="#000" fill-opacity="1"/>
<rect x="452.46" y="652.10" width="10.49" height="1.90" rx="0.95" fill="#000" fill-opacity="1"/>
<rect x="464.95" y="651.85" width="10.49" height="1.90" rx="0.95" fill="#000" fill-opacity="1"/>
<rect x="477.44" y="651.60" width="10.49" height="1.90" rx="0.95" fill="#000" fill-opacity="1"/>
<rect x="489.92" y="651.35" width="10.49" height="1.90" rx="0.95" fill="#000" fill-opacity="1"/>
<rect x="502.41" y="651.10" width="10.49" height="1.90" rx="0.95" fill="#000" fill-opacity="1"/>
</g>
<rect x="414.00" y="628.20" width="99.90" height="32.70" fill="none" stroke="#222" stroke-width="0.7"/>
<rect x="414.00" y="667.60" width="99.90" height="10.80" fill="#e4e4e4"/>
<clipPath id="c414_667"><rect x="414.00" y="667.60" width="99.90" height="10.80"/></clipPath>
<g clip-path="url(#c414_667)" filter="url(#blur)">
<rect x="415.25" y="671.50" width="9.99" height="2.40" rx="1.20" fill="#222" fill-opacity="0.45"/>
<rect x="427.74" y="671.50" width="9.99" height="2.40" rx="1.20" fill="#222" fill-opacity="0.4"/>
<rect x="440.22" y="671.50" width="9.99" height="2.40" rx="1.20" fill="#222" fill-opacity="0.55"/>
<rect x="452.71" y="671.50" width="9.99" height="2.40" rx="1.20" fill="#222" fill-opacity="0.5"/>
<rect x="465.20" y="671.50" width="9.99" height="2.40" rx="1.20" fill="#222" fill-opacity="0.7"/>
<rect x="477.69" y="671.50" width="9.99" height="2.40" rx="1.20" fill="#222" fill-opacity="0.5"/>
<rect x="490.17" y="671.50" width="9.99" height="2.40" rx="1.20" fill="#222" fill-opacity="0.55"/>
<rect x="502.66" y="671.50" width="9.99" height="2.40" rx="1.20" fill="#222" fill-opacity="0.4"/>
<rect x="415.25" y="675.25" width="9.99" height="1.50" rx="0.75" fill="#444" fill-opacity="0.2"/>
<rect x="427.74" y="675.25" width="9.99" height="1.50" rx="0.75" fill="#444" fill-opacity="0.2"/>
<rect x="440.22" y="675.25" width="9.99" height="1.50" rx="0.75" fill="#444" fill-opacity="0.2"/>
<rect x="452.71" y="675.25" width="9.99" height="1.50" rx="0.75" fill="#444" fill-opacity="0.2"/>
<rect x="465.20" y="675.25" width="9.99" height="1.50" rx="0.75" fill="#444" fill-opacity="0.2"/>
<rect x="477.69" y="675.25" width="9.99" height="1.50" rx="0.75" fill="#444" fill-opacity="0.2"/>
<rect x="490.17" y="675.25" width="9.99" height="1.50" rx="0.75" fill="#444" fill-opacity="0.2"/>
<rect x="502.66" y="675.25" width="9.99" height="1.50" rx="0.75" fill="#444" fill-opacity="0.2"/>
</g>
<rect x="414.00" y="667.60" width="99.90" height="10.80" fill="none" stroke="#222" stroke-width="0.7"/>
<rect x="414.00" y="679.90" width="99.90" height="11.00" fill="#f2f2f2"/>
<clipPath id="c414_679"><rect x="414.00" y="679.90" width="99.90" height="11.00"/></clipPath>
<g clip-path="url(#c414_679)" filter="url(#blur)">
<rect x="415.25" y="681.90" width="9.99" height="2.00" rx="1.00" fill="#333" fill-opacity="0.15"/>
<rect x="427.74" y="681.90" width="9.99" height="2.00" rx="1.00" fill="#333" fill-opacity="0.5"/>
<rect x="440.22" y="681.90" width="9.99" height="2.00" rx="1.00" fill="#333" fill-opacity="0.5"/>
<rect x="452.71" y="681.90" width="9.99" height="2.00" rx="1.00" fill="#333" fill-opacity="0.55"/>
<rect x="465.20" y="681.90" width="9.99" height="2.00" rx="1.00" fill="#333" fill-opacity="0.2"/>
<rect x="477.69" y="681.90" width="9.99" height="2.00" rx="1.00" fill="#333" fill-opacity="0.25"/>
<rect x="490.17" y="681.90" width="9.99" height="2.00" rx="1.00" fill="#333" fill-opacity="0.2"/>
<rect x="502.66" y="681.90" width="9.99" height="2.00" rx="1.00" fill="#333" fill-opacity="0.2"/>
<rect x="415.25" y="686.25" width="9.99" height="1.50" rx="0.75" fill="#555" fill-opacity="0.12"/>
<rect x="427.74" y="686.25" width="9.99" height="1.50" rx="0.75" fill="#555" fill-opacity="0.12"/>
<rect x="440.22" y="686.25" width="9.99" height="1.50" rx="0.75" fill="#555" fill-opacity="0.12"/>
<rect x="452.71" y="686.25" width="9.99" height="1.50" rx="0.75" fill="#555" fill-opacity="0.12"/>
<rect x="465.20" y="686.25" width="9.99" height="1.50" rx="0.75" fill="#555" fill-opacity="0.12"/>
<rect x="477.69" y="686.25" width="9.99" height="1.50" rx="0.75" fill="#555" fill-opacity="0.12"/>
<rect x="490.17" y="686.25" width="9.99" height="1.50" rx="0.75" fill="#555" fill-opacity="0.12"/>
<rect x="502.66" y="686.25" width="9.99" height="1.50" rx="0.75" fill="#555" fill-opacity="0.12"/>
</g>
<rect x="414.00" y="679.90" width="99.90" height="11.00" fill="none" stroke="#222" stroke-width="0.7"/>
<rect x="414.00" y="693.90" width="99.90" height="10.80" fill="#c6c6c6"/>
<clipPath id="c414_693"><rect x="414.00" y="693.90" width="99.90" height="10.80"/></clipPath>
<g clip-path="url(#c414_693)" filter="url(#blur)">
<rect x="415.12" y="697.10" width="10.24" height="2.60" rx="1.30" fill="#111" fill-opacity="0.4"/>
<rect x="427.61" y="697.10" width="10.24" height="2.60" rx="1.30" fill="#111" fill-opacity="0.4"/>
<rect x="440.10" y="697.10" width="10.24" height="2.60" rx="1.30" fill="#111" fill-opacity="0.35"/>
<rect x="452.59" y="697.10" width="10.24" height="2.60" rx="1.30" fill="#111" fill-opacity="0.4"/>
<rect x="465.07" y="697.10" width="10.24" height="2.60" rx="1.30" fill="#111" fill-opacity="0.75"/>
<rect x="477.56" y="697.10" width="10.24" height="2.60" rx="1.30" fill="#111" fill-opacity="0.5"/>
<rect x="490.05" y="697.10" width="10.24" height="2.60" rx="1.30" fill="#111" fill-opacity="0.5"/>
<rect x="502.54" y="697.10" width="10.24" height="2.60" rx="1.30" fill="#111" fill-opacity="0.45"/>
<rect x="414.62" y="694.50" width="11.24" height="1.60" rx="0.80" fill="#222" fill-opacity="0.45"/>
<rect x="427.11" y="694.50" width="11.24" height="1.60" rx="0.80" fill="#222" fill-opacity="0.45"/>
</g>
<rect x="414.00" y="693.90" width="99.90" height="10.80" fill="none" stroke="#222" stroke-width="0.7"/>
<rect x="414.00" y="708.50" width="99.90" height="10.80" fill="#f6f6f6"/>
<clipPath id="c414_708"><rect x="414.00" y="708.50" width="99.90" height="10.80"/></clipPath>
<g clip-path="url(#c414_708)" filter="url(#blur)">
<rect x="415.56" y="711.30" width="9.37" height="1.80" rx="0.90" fill="#333" fill-opacity="0.4"/>
<rect x="428.05" y="713.30" width="9.37" height="1.80" rx="0.90" fill="#333" fill-opacity="0.3"/>
<rect x="440.54" y="713.30" width="9.37" height="1.80" rx="0.90" fill="#333" fill-opacity="0.35"/>
<rect x="453.02" y="713.30" width="9.37" height="1.80" rx="0.90" fill="#333" fill-opacity="0.3"/>
<rect x="465.51" y="713.30" width="9.37" height="1.80" rx="0.90" fill="#333" fill-opacity="0.35"/>
<rect x="478.00" y="713.30" width="9.37" height="1.80" rx="0.90" fill="#333" fill-opacity="0.3"/>
<rect x="490.49" y="713.30" width="9.37" height="1.80" rx="0.90" fill="#333" fill-opacity="0.35"/>
<rect x="502.97" y="713.30" width="9.37" height="1.80" rx="0.90" fill="#333" fill-opacity="0.4"/>
</g>
<rect x="414.00" y="708.50" width="99.90" height="10.80" fill="none" stroke="#222" stroke-width="0.7"/>
<rect x="414.00" y="721.60" width="99.90" height="12.30" fill="#f4f4f4"/>
<clipPath id="c414_721"><rect x="414.00" y="721.60" width="99.90" height="12.30"/></clipPath>
<g clip-path="url(#c414_721)" filter="url(#blur)">
<rect x="415.12" y="726.50" width="10.24" height="2.00" rx="1.00" fill="#000" fill-opacity="1"/>
<rect x="427.61" y="726.50" width="10.24" height="2.00" rx="1.00" fill="#000" fill-opacity="1"/>
<rect x="440.10" y="726.50" width="10.24" height="2.00" rx="1.00" fill="#000" fill-opacity="1"/>
<rect x="452.59" y="726.50" width="10.24" height="2.00" rx="1.00" fill="#000" fill-opacity="1"/>
<rect x="465.07" y="726.50" width="10.24" height="2.00" rx="1.00" fill="#000" fill-opacity="1"/>
<rect x="477.56" y="726.50" width="10.24" height="2.00" rx="1.00" fill="#000" fill-opacity="1"/>
<rect x="490.05" y="726.20" width="10.24" height="2.00" rx="1.00" fill="#000" fill-opacity="1"/>
<rect x="502.54" y="726.20" width="10.24" height="2.00" rx="1.00" fill="#000" fill-opacity="1"/>
</g>
<rect x="414.00" y="721.60" width="99.90" height="12.30" fill="none" stroke="#222" stroke-width="0.7"/>
<text x="408.80" y="639.40" font-size="9.8" text-anchor="end" fill="#111">Srebp1</text>
<text x="408.80" y="657.90" font-size="9.8" text-anchor="end" fill="#111">mSrebp1</text>
<text x="408.80" y="676.50" font-size="9.8" text-anchor="end" fill="#111">Srebp2</text>
<text x="408.80" y="691.10" font-size="9.8" text-anchor="end" fill="#111">mSrebp2</text>
<text x="408.80" y="703.10" font-size="9.8" text-anchor="end" fill="#111">Insig1</text>
<text x="408.80" y="716.00" font-size="9.8" text-anchor="end" fill="#111">Hmgcr</text>
<text x="408.80" y="732.90" font-size="9.8" text-anchor="end" fill="#111">β-actin</text>
<text x="518.50" y="638.50" font-size="9.3" fill="#111">120 kDa</text>
<text x="518.50" y="657.80" font-size="9.3" fill="#111">68 kDa</text>
<text x="518.50" y="676.40" font-size="9.3" fill="#111">120 kDa</text>
<text x="518.50" y="689.00" font-size="9.3" fill="#111">60 kDa</text>
<text x="518.50" y="702.10" font-size="9.3" fill="#111">30 kDa</text>
<text x="518.50" y="717.60" font-size="9.3" fill="#111">100 kDa</text>
<text x="519.80" y="730.70" font-size="9.3" fill="#111">42 kDa</text>
<text x="446.10" y="746.10" font-size="8.3" text-anchor="middle" fill="#111">vehicle</text>
<text x="488.50" y="746.10" font-size="8.3" text-anchor="middle" fill="#111">MI-883</text>
<text x="561.00" y="603.30" font-size="17" font-weight="bold">j</text>
<text x="625.30" y="596.40" font-size="7.45" text-anchor="middle" font-weight="bold">Insig1</text>
<line x1="595.70" y1="643.60" x2="655.40" y2="643.60" stroke="#a4a4a4" stroke-width="0.9" stroke-dasharray="2.6 1.7"/>
<line x1="595.70" y1="606.88" x2="595.70" y2="656.82" stroke="#000" stroke-width="0.85"/>
<line x1="595.70" y1="656.40" x2="655.40" y2="656.40" stroke="#000" stroke-width="0.85"/>
<line x1="593.70" y1="607.30" x2="595.70" y2="607.30" stroke="#000" stroke-width="0.85"/>
<text x="593.30" y="609.89" font-size="7.3" text-anchor="end" font-weight="bold">4</text>
<line x1="593.70" y1="619.50" x2="595.70" y2="619.50" stroke="#000" stroke-width="0.85"/>
<text x="593.30" y="622.09" font-size="7.3" text-anchor="end" font-weight="bold">3</text>
<line x1="593.70" y1="631.80" x2="595.70" y2="631.80" stroke="#000" stroke-width="0.85"/>
<text x="593.30" y="634.39" font-size="7.3" text-anchor="end" font-weight="bold">2</text>
<line x1="593.70" y1="643.60" x2="595.70" y2="643.60" stroke="#000" stroke-width="0.85"/>
<text x="593.30" y="646.19" font-size="7.3" text-anchor="end" font-weight="bold">1</text>
<line x1="593.70" y1="655.90" x2="595.70" y2="655.90" stroke="#000" stroke-width="0.85"/>
<text x="593.30" y="658.49" font-size="7.3" text-anchor="end" font-weight="bold">0</text>
<text transform="translate(585.89 629.50) rotate(-90)" font-size="7.55" text-anchor="middle" font-weight="bold">relative expression</text>
<text x="611.80" y="665.59" font-size="7.3" text-anchor="middle" font-weight="bold">control</text>
<text x="638.40" y="665.59" font-size="7.3" text-anchor="middle" font-weight="bold">MI-883</text>
<text x="624.70" y="610.30" font-size="6.9" text-anchor="middle" fill="#222"><tspan font-style="italic">P</tspan>= 0.0869</text>
<path d="M613.30 636.80C613.68 637.00 614.63 637.58 615.60 638.00C616.57 638.42 618.18 638.85 619.10 639.30C620.02 639.75 620.73 640.25 621.10 640.70C621.47 641.15 621.40 641.57 621.30 642.00C621.20 642.43 620.53 642.87 620.50 643.30C620.47 643.73 620.97 644.15 621.10 644.60C621.23 645.05 621.37 645.50 621.30 646.00C621.23 646.50 621.00 647.07 620.70 647.60C620.40 648.13 620.10 648.67 619.50 649.20C618.90 649.73 617.87 650.33 617.10 650.80C616.33 651.27 615.53 651.65 614.90 652.00C614.27 652.35 613.57 652.75 613.30 652.90 L612.90 652.90C612.63 652.75 611.93 652.35 611.30 652.00C610.67 651.65 609.87 651.27 609.10 650.80C608.33 650.33 607.30 649.73 606.70 649.20C606.10 648.67 605.80 648.13 605.50 647.60C605.20 647.07 604.97 646.50 604.90 646.00C604.83 645.50 604.97 645.05 605.10 644.60C605.23 644.15 605.73 643.73 605.70 643.30C605.67 642.87 605.00 642.43 604.90 642.00C604.80 641.57 604.73 641.15 605.10 640.70C605.47 640.25 606.18 639.75 607.10 639.30C608.02 638.85 609.63 638.42 610.60 638.00C611.57 637.58 612.52 637.00 612.90 636.80Z" fill="#f1f1f1" stroke="#000" stroke-width="0.9" stroke-linejoin="round"/>
<circle cx="613.06" cy="638.94" r="1.00" fill="#000"/>
<circle cx="608.97" cy="641.60" r="1.00" fill="#000"/>
<circle cx="613.06" cy="641.60" r="1.00" fill="#000"/>
<circle cx="617.14" cy="641.60" r="1.00" fill="#000"/>
<circle cx="606.93" cy="644.66" r="1.00" fill="#000"/>
<circle cx="611.01" cy="644.66" r="1.00" fill="#000"/>
<circle cx="615.10" cy="644.66" r="1.00" fill="#000"/>
<circle cx="619.19" cy="644.66" r="1.00" fill="#000"/>
<circle cx="608.97" cy="648.55" r="1.00" fill="#000"/>
<circle cx="613.06" cy="648.55" r="1.00" fill="#000"/>
<circle cx="617.14" cy="648.55" r="1.00" fill="#000"/>
<circle cx="613.06" cy="651.20" r="1.00" fill="#000"/>
<line x1="605.50" y1="640.70" x2="620.70" y2="640.70" stroke="#000" stroke-width="1.0"/>
<line x1="605.30" y1="645.40" x2="620.90" y2="645.40" stroke="#000" stroke-width="1.0"/>
<line x1="606.70" y1="648.90" x2="619.50" y2="648.90" stroke="#000" stroke-width="1.0"/>
<line x1="613.10" y1="636.80" x2="613.10" y2="652.90" stroke="#000" stroke-width="0.7"/>
<path d="M638.75 619.20C638.79 619.50 638.88 620.40 639.00 621.00C639.12 621.60 639.17 622.22 639.50 622.80C639.83 623.38 640.48 623.92 641.00 624.50C641.52 625.08 642.23 625.73 642.60 626.30C642.97 626.87 643.17 627.37 643.20 627.90C643.23 628.43 643.03 628.98 642.80 629.50C642.57 630.02 642.03 630.58 641.80 631.00C641.57 631.42 641.37 631.58 641.40 632.00C641.43 632.42 641.60 632.83 642.00 633.50C642.40 634.17 643.17 635.08 643.80 636.00C644.43 636.92 645.27 638.05 645.80 639.00C646.33 639.95 647.03 640.78 647.00 641.70C646.97 642.62 646.17 643.45 645.60 644.50C645.03 645.55 644.30 646.83 643.60 648.00C642.90 649.17 642.03 650.50 641.40 651.50C640.77 652.50 640.20 653.33 639.80 654.00C639.40 654.67 639.17 655.00 639.00 655.50C638.83 656.00 638.79 656.75 638.75 657.00 L638.45 657.00C638.41 656.75 638.38 656.00 638.20 655.50C638.03 655.00 637.80 654.67 637.40 654.00C637.00 653.33 636.43 652.50 635.80 651.50C635.17 650.50 634.30 649.17 633.60 648.00C632.90 646.83 632.17 645.55 631.60 644.50C631.03 643.45 630.23 642.62 630.20 641.70C630.17 640.78 630.87 639.95 631.40 639.00C631.93 638.05 632.77 636.92 633.40 636.00C634.03 635.08 634.80 634.17 635.20 633.50C635.60 632.83 635.77 632.42 635.80 632.00C635.83 631.58 635.63 631.42 635.40 631.00C635.17 630.58 634.63 630.02 634.40 629.50C634.17 628.98 633.97 628.43 634.00 627.90C634.03 627.37 634.23 626.87 634.60 626.30C634.97 625.73 635.68 625.08 636.20 624.50C636.72 623.92 637.37 623.38 637.70 622.80C638.03 622.22 638.08 621.60 638.20 621.00C638.33 620.40 638.41 619.50 638.45 619.20Z" fill="#a6a6a6" stroke="#000" stroke-width="0.85" stroke-linejoin="round"/>
<line x1="634.12" y1="635.00" x2="643.08" y2="635.00" stroke="#0a0aff" stroke-width="0.5"/>
<line x1="633.20" y1="647.30" x2="644.00" y2="647.30" stroke="#0a0aff" stroke-width="0.5"/>
<circle cx="640.44" cy="627.70" r="1.35" fill="#0a0aff"/>
<circle cx="636.97" cy="628.72" r="1.35" fill="#0a0aff"/>
<circle cx="634.31" cy="635.47" r="1.35" fill="#0a0aff"/>
<circle cx="639.01" cy="635.47" r="1.35" fill="#0a0aff"/>
<circle cx="643.10" cy="635.87" r="1.35" fill="#0a0aff"/>
<circle cx="634.31" cy="642.01" r="1.35" fill="#0a0aff"/>
<circle cx="638.60" cy="643.03" r="1.35" fill="#0a0aff"/>
<circle cx="642.69" cy="642.01" r="1.35" fill="#0a0aff"/>
<circle cx="635.95" cy="646.09" r="1.35" fill="#0a0aff"/>
<circle cx="641.06" cy="647.12" r="1.35" fill="#0a0aff"/>
<circle cx="638.60" cy="650.59" r="1.35" fill="#0a0aff"/>
<text x="626.10" y="686.80" font-size="7.45" text-anchor="middle" font-weight="bold">Insig1 protein</text>
<line x1="603.20" y1="698.18" x2="603.20" y2="747.72" stroke="#000" stroke-width="0.85"/>
<line x1="603.20" y1="747.30" x2="649.20" y2="747.30" stroke="#000" stroke-width="0.85"/>
<line x1="601.60" y1="698.60" x2="603.20" y2="698.60" stroke="#000" stroke-width="0.85"/>
<text x="601.20" y="701.19" font-size="7.3" text-anchor="end" font-weight="bold">5</text>
<line x1="601.60" y1="708.00" x2="603.20" y2="708.00" stroke="#000" stroke-width="0.85"/>
<text x="601.20" y="710.59" font-size="7.3" text-anchor="end" font-weight="bold">4</text>
<line x1="601.60" y1="717.60" x2="603.20" y2="717.60" stroke="#000" stroke-width="0.85"/>
<text x="601.20" y="720.19" font-size="7.3" text-anchor="end" font-weight="bold">3</text>
<line x1="601.60" y1="727.40" x2="603.20" y2="727.40" stroke="#000" stroke-width="0.85"/>
<text x="601.20" y="729.99" font-size="7.3" text-anchor="end" font-weight="bold">2</text>
<line x1="601.60" y1="737.40" x2="603.20" y2="737.40" stroke="#000" stroke-width="0.85"/>
<text x="601.20" y="739.99" font-size="7.3" text-anchor="end" font-weight="bold">1</text>
<line x1="601.60" y1="747.30" x2="603.20" y2="747.30" stroke="#000" stroke-width="0.85"/>
<text x="601.20" y="749.89" font-size="7.3" text-anchor="end" font-weight="bold">0</text>
<text transform="translate(585.69 720.70) rotate(-90)" font-size="7.55" text-anchor="middle" font-weight="bold">relative protein</text>
<text transform="translate(593.89 720.70) rotate(-90)" font-size="7.55" text-anchor="middle" font-weight="bold">expression</text>
<line x1="611.80" y1="747.30" x2="611.80" y2="748.90" stroke="#000" stroke-width="0.85"/>
<line x1="636.40" y1="747.30" x2="636.40" y2="748.90" stroke="#000" stroke-width="0.85"/>
<text x="610.70" y="757.60" font-size="7.0" text-anchor="middle" fill="#333">control</text>
<text x="638.00" y="757.60" font-size="7.0" text-anchor="middle" fill="#333">MI-883</text>
<rect x="610.40" y="737.40" width="12.30" height="9.90" fill="#7f7f7f" stroke="#000" stroke-width="0.8"/>
<rect x="629.40" y="715.20" width="13.70" height="32.10" fill="#d8d8d8" stroke="#000" stroke-width="0.8"/>
<line x1="603.20" y1="737.40" x2="649.20" y2="737.40" stroke="#222" stroke-width="0.6" stroke-dasharray="2.6 1.4"/>
<circle cx="611.60" cy="737.10" r="1.70" fill="#000"/>
<circle cx="614.60" cy="737.60" r="1.70" fill="#000"/>
<circle cx="617.80" cy="737.60" r="1.70" fill="#000"/>
<circle cx="620.90" cy="737.10" r="1.70" fill="#000"/>
<line x1="636.40" y1="711.50" x2="636.40" y2="718.60" stroke="#0a0aff" stroke-width="0.7"/>
<line x1="633.20" y1="711.50" x2="639.60" y2="711.50" stroke="#0a0aff" stroke-width="0.7"/>
<line x1="633.20" y1="718.60" x2="639.60" y2="718.60" stroke="#0a0aff" stroke-width="0.7"/>
<path d="M636.6 708L638.7 711.8L634.5 711.8Z" fill="#0a0aff"/>
<circle cx="633.30" cy="715.30" r="1.60" fill="#0a0aff"/>
<circle cx="638.50" cy="715.30" r="1.60" fill="#0a0aff"/>
<circle cx="633.50" cy="718.70" r="1.60" fill="#0a0aff"/>
<circle cx="638.30" cy="718.30" r="1.60" fill="#0a0aff"/>
<path d="M615.50 734.00V703.50H636.50V708.00" fill="none" stroke="#000" stroke-width="0.9"/>
<text x="625.70" y="705.92" font-size="12" text-anchor="middle" font-weight="bold">*</text>
<text x="5.20" y="761.10" font-size="17" font-weight="bold">k</text>
<text x="74.50" y="775.40" font-size="7.45" text-anchor="middle" font-weight="bold">Cyp2b10 ileum</text>
<line x1="36.80" y1="785.88" x2="36.80" y2="835.22" stroke="#000" stroke-width="0.85"/>
<line x1="36.80" y1="834.80" x2="111.20" y2="834.80" stroke="#000" stroke-width="0.85"/>
<line x1="34.80" y1="786.30" x2="36.80" y2="786.30" stroke="#000" stroke-width="0.85"/>
<text x="34.40" y="788.89" font-size="7.3" text-anchor="end" font-weight="bold">20</text>
<line x1="34.80" y1="798.70" x2="36.80" y2="798.70" stroke="#000" stroke-width="0.85"/>
<text x="34.40" y="801.29" font-size="7.3" text-anchor="end" font-weight="bold">15</text>
<line x1="34.80" y1="810.40" x2="36.80" y2="810.40" stroke="#000" stroke-width="0.85"/>
<text x="34.40" y="812.99" font-size="7.3" text-anchor="end" font-weight="bold">10</text>
<line x1="34.80" y1="822.70" x2="36.80" y2="822.70" stroke="#000" stroke-width="0.85"/>
<text x="34.40" y="825.29" font-size="7.3" text-anchor="end" font-weight="bold">5</text>
<line x1="34.80" y1="834.20" x2="36.80" y2="834.20" stroke="#000" stroke-width="0.85"/>
<text x="34.40" y="836.79" font-size="7.3" text-anchor="end" font-weight="bold">0</text>
<text transform="translate(23.49 808.30) rotate(-90)" font-size="7.55" text-anchor="middle" font-weight="bold">relative expression</text>
<text x="57.80" y="844.89" font-size="7.3" text-anchor="middle" font-weight="bold">control</text>
<text x="90.20" y="844.89" font-size="7.3" text-anchor="middle" font-weight="bold">MI-883</text>
<line x1="36.80" y1="832.30" x2="111.20" y2="832.30" stroke="#222" stroke-width="0.6" stroke-dasharray="2.6 1.4"/>
<path d="M59.20 831.40C60.12 831.50 63.03 831.78 64.70 832.00C66.37 832.22 69.20 832.47 69.20 832.70C69.20 832.93 66.37 833.18 64.70 833.40C63.03 833.62 60.12 833.90 59.20 834.00 L58.20 834.00C57.28 833.90 54.37 833.62 52.70 833.40C51.03 833.18 48.20 832.93 48.20 832.70C48.20 832.47 51.03 832.22 52.70 832.00C54.37 831.78 57.28 831.50 58.20 831.40Z" fill="#222" stroke="#000" stroke-width="0.85" stroke-linejoin="round"/>
<circle cx="50.70" cy="832.70" r="1.00" fill="#000"/>
<circle cx="52.70" cy="832.70" r="1.00" fill="#000"/>
<circle cx="54.70" cy="832.70" r="1.00" fill="#000"/>
<circle cx="56.70" cy="832.70" r="1.00" fill="#000"/>
<circle cx="58.70" cy="832.70" r="1.00" fill="#000"/>
<circle cx="60.70" cy="832.70" r="1.00" fill="#000"/>
<circle cx="62.70" cy="832.70" r="1.00" fill="#000"/>
<circle cx="64.70" cy="832.70" r="1.00" fill="#000"/>
<circle cx="66.70" cy="832.70" r="1.00" fill="#000"/>
<path d="M90.29 786.26C90.32 786.78 90.39 788.45 90.46 789.41C90.54 790.37 90.51 791.22 90.73 792.04C90.94 792.86 91.43 793.59 91.78 794.32C92.13 795.05 92.51 795.63 92.83 796.42C93.15 797.21 93.70 798.11 93.70 799.05C93.70 799.98 93.18 801.15 92.83 802.02C92.48 802.90 91.92 803.48 91.60 804.30C91.28 805.12 91.03 805.91 90.90 806.93C90.77 807.95 90.75 809.27 90.81 810.43C90.87 811.60 90.97 812.77 91.25 813.94C91.53 815.11 91.95 816.42 92.48 817.44C93.00 818.46 93.62 819.19 94.40 820.07C95.19 820.95 96.39 821.88 97.21 822.70C98.03 823.51 98.78 824.24 99.31 824.97C99.84 825.70 100.24 826.35 100.36 827.08C100.48 827.81 100.36 828.62 100.01 829.35C99.66 830.08 99.13 830.76 98.26 831.46C97.38 832.16 96.07 832.92 94.76 833.56C93.44 834.20 91.11 835.02 90.38 835.31 L90.02 835.31C89.29 835.02 86.96 834.20 85.64 833.56C84.33 832.92 83.02 832.16 82.14 831.46C81.27 830.76 80.74 830.08 80.39 829.35C80.04 828.62 79.92 827.81 80.04 827.08C80.16 826.35 80.56 825.70 81.09 824.97C81.62 824.24 82.37 823.51 83.19 822.70C84.01 821.88 85.21 820.95 86.00 820.07C86.78 819.19 87.40 818.46 87.92 817.44C88.45 816.42 88.87 815.11 89.15 813.94C89.43 812.77 89.53 811.60 89.59 810.43C89.65 809.27 89.63 807.95 89.50 806.93C89.37 805.91 89.12 805.12 88.80 804.30C88.48 803.48 87.92 802.90 87.57 802.02C87.22 801.15 86.70 799.98 86.70 799.05C86.70 798.11 87.25 797.21 87.57 796.42C87.89 795.63 88.27 795.05 88.62 794.32C88.97 793.59 89.46 792.86 89.67 792.04C89.89 791.22 89.86 790.37 89.94 789.41C90.01 788.45 90.08 786.78 90.11 786.26Z" fill="#a6a6a6" stroke="#000" stroke-width="0.85" stroke-linejoin="round"/>
<line x1="80.28" y1="826.60" x2="100.12" y2="826.60" stroke="#0a0aff" stroke-width="0.5"/>
<line x1="81.43" y1="830.60" x2="98.97" y2="830.60" stroke="#0a0aff" stroke-width="0.5"/>
<rect x="88.87" y="797.70" width="2.70" height="2.70" fill="#0a0aff"/>
<rect x="87.12" y="823.10" width="2.70" height="2.70" fill="#0a0aff"/>
<rect x="91.15" y="823.98" width="2.70" height="2.70" fill="#0a0aff"/>
<rect x="88.87" y="826.60" width="2.70" height="2.70" fill="#0a0aff"/>
<rect x="86.25" y="831.33" width="2.70" height="2.70" fill="#0a0aff"/>
<rect x="90.63" y="829.58" width="2.70" height="2.70" fill="#0a0aff"/>
<text x="185.00" y="775.90" font-size="7.45" text-anchor="middle" font-weight="bold">Slc10a2 ileum</text>
<line x1="148.20" y1="787.28" x2="148.20" y2="835.72" stroke="#000" stroke-width="0.85"/>
<line x1="148.20" y1="835.30" x2="222.10" y2="835.30" stroke="#000" stroke-width="0.85"/>
<line x1="146.20" y1="787.70" x2="148.20" y2="787.70" stroke="#000" stroke-width="0.85"/>
<text x="145.80" y="790.29" font-size="7.3" text-anchor="end" font-weight="bold">2.0</text>
<line x1="146.20" y1="799.60" x2="148.20" y2="799.60" stroke="#000" stroke-width="0.85"/>
<text x="145.80" y="802.19" font-size="7.3" text-anchor="end" font-weight="bold">1.5</text>
<line x1="146.20" y1="811.50" x2="148.20" y2="811.50" stroke="#000" stroke-width="0.85"/>
<text x="145.80" y="814.09" font-size="7.3" text-anchor="end" font-weight="bold">1.0</text>
<line x1="146.20" y1="823.60" x2="148.20" y2="823.60" stroke="#000" stroke-width="0.85"/>
<text x="145.80" y="826.19" font-size="7.3" text-anchor="end" font-weight="bold">0.5</text>
<line x1="146.20" y1="835.30" x2="148.20" y2="835.30" stroke="#000" stroke-width="0.85"/>
<text x="145.80" y="837.89" font-size="7.3" text-anchor="end" font-weight="bold">0.0</text>
<text transform="translate(133.09 809.60) rotate(-90)" font-size="7.55" text-anchor="middle" font-weight="bold">relative expression</text>
<line x1="168.70" y1="835.30" x2="168.70" y2="837.30" stroke="#000" stroke-width="0.85"/>
<text x="168.70" y="845.39" font-size="7.3" text-anchor="middle" font-weight="bold">control</text>
<line x1="200.70" y1="835.30" x2="200.70" y2="837.30" stroke="#000" stroke-width="0.85"/>
<text x="200.70" y="845.39" font-size="7.3" text-anchor="middle" font-weight="bold">MI-883</text>
<line x1="148.20" y1="811.50" x2="222.10" y2="811.50" stroke="#222" stroke-width="0.6" stroke-dasharray="2.6 1.4"/>
<path d="M169.38 798.17C169.49 798.40 169.75 799.08 170.08 799.57C170.40 800.07 170.78 800.59 171.30 801.15C171.83 801.70 172.53 802.32 173.23 802.90C173.93 803.48 174.72 804.07 175.51 804.65C176.30 805.24 177.32 805.88 177.96 806.40C178.60 806.93 179.36 807.34 179.36 807.81C179.36 808.27 178.49 808.77 177.96 809.21C177.43 809.65 176.62 810.05 176.21 810.43C175.80 810.81 175.45 811.11 175.51 811.48C175.57 811.86 176.03 812.27 176.56 812.71C177.08 813.15 178.31 813.70 178.66 814.11C179.01 814.52 178.95 814.76 178.66 815.16C178.37 815.57 177.58 816.04 176.91 816.57C176.24 817.09 175.42 817.68 174.63 818.32C173.84 818.96 172.88 819.72 172.18 820.42C171.48 821.12 170.89 821.85 170.43 822.52C169.96 823.19 169.55 824.13 169.38 824.45 L169.02 824.45C168.85 824.13 168.44 823.19 167.97 822.52C167.51 821.85 166.92 821.12 166.22 820.42C165.52 819.72 164.56 818.96 163.77 818.32C162.98 817.68 162.16 817.09 161.49 816.57C160.82 816.04 160.03 815.57 159.74 815.16C159.45 814.76 159.39 814.52 159.74 814.11C160.09 813.70 161.32 813.15 161.84 812.71C162.37 812.27 162.83 811.86 162.89 811.48C162.95 811.11 162.60 810.81 162.19 810.43C161.78 810.05 160.97 809.65 160.44 809.21C159.91 808.77 159.04 808.27 159.04 807.81C159.04 807.34 159.80 806.93 160.44 806.40C161.08 805.88 162.10 805.24 162.89 804.65C163.68 804.07 164.47 803.48 165.17 802.90C165.87 802.32 166.57 801.70 167.10 801.15C167.62 800.59 168.00 800.07 168.32 799.57C168.65 799.08 168.91 798.40 169.02 798.17Z" fill="#d6d6d6" stroke="#000" stroke-width="0.85" stroke-linejoin="round"/>
<line x1="159.04" y1="807.80" x2="179.36" y2="807.80" stroke="#000" stroke-width="0.5"/>
<line x1="159.74" y1="814.80" x2="178.66" y2="814.80" stroke="#000" stroke-width="0.5"/>
<line x1="162.88" y1="811.50" x2="175.52" y2="811.50" stroke="#000" stroke-width="0.85"/>
<circle cx="169.22" cy="804.65" r="1.20" fill="#000"/>
<circle cx="167.46" cy="807.81" r="1.20" fill="#000"/>
<circle cx="171.32" cy="807.81" r="1.20" fill="#000"/>
<circle cx="167.46" cy="813.94" r="1.20" fill="#000"/>
<circle cx="171.32" cy="813.94" r="1.20" fill="#000"/>
<circle cx="169.22" cy="817.79" r="1.20" fill="#000"/>
<path d="M200.7 802.2C201.5 806 203.5 808.5 206 811C209 814 210.9 814.8 210.9 817C210.9 820 206.5 822.5 206.5 825.5C206.5 828.5 210.9 830.5 210.9 833C210.9 834.3 209.5 835.3 208.5 835.3H192.9C191.9 835.3 190.5 834.3 190.5 833C190.5 830.5 194.9 828.5 194.9 825.5C194.9 822.5 190.5 820 190.5 817C190.5 814.8 192.4 814 195.4 811C197.9 808.5 199.9 806 200.7 802.2Z" fill="#a6a6a6" stroke="#000" stroke-width="0.7"/>
<line x1="190.90" y1="815.30" x2="210.50" y2="815.30" stroke="#0a0aff" stroke-width="0.5"/>
<line x1="190.90" y1="833.60" x2="210.50" y2="833.60" stroke="#0a0aff" stroke-width="0.5"/>
<line x1="195.00" y1="823.60" x2="206.40" y2="823.60" stroke="#000" stroke-width="0.7"/>
<rect x="199.60" y="813.31" width="2.30" height="2.30" fill="#0a0aff"/>
<rect x="199.60" y="815.94" width="2.30" height="2.30" fill="#0a0aff"/>
<rect x="199.60" y="822.42" width="2.30" height="2.30" fill="#0a0aff"/>
<rect x="197.85" y="832.41" width="2.30" height="2.30" fill="#0a0aff"/>
<rect x="201.70" y="832.06" width="2.30" height="2.30" fill="#0a0aff"/>
<path d="M169.50 794.70V792.50H200.50V799.00" fill="none" stroke="#000" stroke-width="0.9"/>
<text x="185.30" y="791.22" font-size="9.5" text-anchor="middle" font-weight="bold">*</text>
<text x="193.70" y="787.90" font-size="8.2" fill="#111"><tspan font-style="italic">P</tspan>=0.0149</text>
<text x="298.20" y="777.10" font-size="7.45" text-anchor="middle" font-weight="bold">Asbt ileum</text>
<line x1="265.60" y1="788.08" x2="265.60" y2="837.62" stroke="#000" stroke-width="0.85"/>
<line x1="265.60" y1="837.20" x2="330.10" y2="837.20" stroke="#000" stroke-width="0.85"/>
<line x1="263.60" y1="788.50" x2="265.60" y2="788.50" stroke="#000" stroke-width="0.85"/>
<text x="263.20" y="791.09" font-size="7.3" text-anchor="end" font-weight="bold">1.5</text>
<line x1="263.60" y1="804.70" x2="265.60" y2="804.70" stroke="#000" stroke-width="0.85"/>
<text x="263.20" y="807.29" font-size="7.3" text-anchor="end" font-weight="bold">1.0</text>
<line x1="263.60" y1="820.60" x2="265.60" y2="820.60" stroke="#000" stroke-width="0.85"/>
<text x="263.20" y="823.19" font-size="7.3" text-anchor="end" font-weight="bold">0.5</text>
<line x1="263.60" y1="837.20" x2="265.60" y2="837.20" stroke="#000" stroke-width="0.85"/>
<text x="263.20" y="839.79" font-size="7.3" text-anchor="end" font-weight="bold">0.0</text>
<text transform="translate(249.49 810.40) rotate(-90)" font-size="7.55" text-anchor="middle" font-weight="bold">relative expression</text>
<line x1="282.80" y1="837.20" x2="282.80" y2="839.20" stroke="#000" stroke-width="0.85"/>
<text x="282.80" y="846.69" font-size="7.3" text-anchor="middle" font-weight="bold">control</text>
<line x1="312.10" y1="837.20" x2="312.10" y2="839.20" stroke="#000" stroke-width="0.85"/>
<text x="312.10" y="846.69" font-size="7.3" text-anchor="middle" font-weight="bold">MI-883</text>
<rect x="275.50" y="803.40" width="17.80" height="33.80" fill="#fff" stroke="#000" stroke-width="0.8"/>
<rect x="302.60" y="814.50" width="18.20" height="22.70" fill="#d8d8d8" stroke="#000" stroke-width="0.8"/>
<line x1="265.60" y1="804.70" x2="330.10" y2="804.70" stroke="#222" stroke-width="0.6" stroke-dasharray="2.6 1.4"/>
<line x1="284.20" y1="798.50" x2="284.20" y2="808.30" stroke="#000" stroke-width="0.7"/>
<line x1="279.80" y1="798.50" x2="288.60" y2="798.50" stroke="#000" stroke-width="0.7"/>
<line x1="279.80" y1="808.30" x2="288.60" y2="808.30" stroke="#000" stroke-width="0.7"/>
<circle cx="284.20" cy="797.80" r="1.50" fill="#000"/>
<circle cx="284.20" cy="804.00" r="1.50" fill="#000"/>
<circle cx="284.20" cy="807.80" r="1.50" fill="#000"/>
<line x1="312.10" y1="809.90" x2="312.10" y2="818.70" stroke="#0a0aff" stroke-width="0.7"/>
<line x1="307.70" y1="809.90" x2="316.50" y2="809.90" stroke="#0a0aff" stroke-width="0.7"/>
<line x1="307.70" y1="818.70" x2="316.50" y2="818.70" stroke="#0a0aff" stroke-width="0.7"/>
<circle cx="309.10" cy="810.40" r="1.50" fill="#0a0aff"/>
<circle cx="314.40" cy="812.70" r="1.50" fill="#0a0aff"/>
<circle cx="312.10" cy="818.70" r="1.50" fill="#0a0aff"/>
<path d="M284.50 791.20V788.50H311.50V801.70" fill="none" stroke="#000" stroke-width="0.9"/>
<text x="297.70" y="791.42" font-size="12" text-anchor="middle" font-weight="bold">*</text>
<text x="403.30" y="776.20" font-size="7.45" text-anchor="middle" font-weight="bold">Slc51a ileum</text>
<line x1="367.10" y1="786.88" x2="367.10" y2="836.22" stroke="#000" stroke-width="0.85"/>
<line x1="367.10" y1="835.80" x2="440.10" y2="835.80" stroke="#000" stroke-width="0.85"/>
<line x1="365.10" y1="787.30" x2="367.10" y2="787.30" stroke="#000" stroke-width="0.85"/>
<text x="364.70" y="789.89" font-size="7.3" text-anchor="end" font-weight="bold">2.0</text>
<line x1="365.10" y1="799.60" x2="367.10" y2="799.60" stroke="#000" stroke-width="0.85"/>
<text x="364.70" y="802.19" font-size="7.3" text-anchor="end" font-weight="bold">1.5</text>
<line x1="365.10" y1="811.50" x2="367.10" y2="811.50" stroke="#000" stroke-width="0.85"/>
<text x="364.70" y="814.09" font-size="7.3" text-anchor="end" font-weight="bold">1.0</text>
<line x1="365.10" y1="823.60" x2="367.10" y2="823.60" stroke="#000" stroke-width="0.85"/>
<text x="364.70" y="826.19" font-size="7.3" text-anchor="end" font-weight="bold">0.5</text>
<line x1="365.10" y1="835.80" x2="367.10" y2="835.80" stroke="#000" stroke-width="0.85"/>
<text x="364.70" y="838.39" font-size="7.3" text-anchor="end" font-weight="bold">0.0</text>
<text transform="translate(351.09 809.60) rotate(-90)" font-size="7.55" text-anchor="middle" font-weight="bold">relative expression</text>
<line x1="387.00" y1="835.80" x2="387.00" y2="837.80" stroke="#000" stroke-width="0.85"/>
<text x="387.00" y="845.79" font-size="7.3" text-anchor="middle" font-weight="bold">control</text>
<line x1="419.60" y1="835.80" x2="419.60" y2="837.80" stroke="#000" stroke-width="0.85"/>
<text x="419.60" y="845.79" font-size="7.3" text-anchor="middle" font-weight="bold">MI-883</text>
<line x1="367.10" y1="811.50" x2="440.10" y2="811.50" stroke="#222" stroke-width="0.6" stroke-dasharray="2.6 1.4"/>
<path d="M388.08 807.81C388.40 808.01 389.01 808.62 390.00 809.03C391.00 809.44 392.69 809.85 394.03 810.26C395.37 810.67 397.97 811.08 398.06 811.48C398.15 811.89 395.84 812.27 394.56 812.71C393.27 813.15 391.43 813.62 390.35 814.11C389.27 814.61 388.45 815.43 388.08 815.69 L387.72 815.69C387.35 815.43 386.53 814.61 385.45 814.11C384.37 813.62 382.53 813.15 381.24 812.71C379.96 812.27 377.65 811.89 377.74 811.48C377.83 811.08 380.43 810.67 381.77 810.26C383.11 809.85 384.80 809.44 385.80 809.03C386.79 808.62 387.40 808.01 387.72 807.81Z" fill="#555" stroke="#000" stroke-width="0.85" stroke-linejoin="round"/>
<line x1="382.62" y1="810.00" x2="393.18" y2="810.00" stroke="#000" stroke-width="0.5"/>
<line x1="382.11" y1="813.00" x2="393.69" y2="813.00" stroke="#000" stroke-width="0.5"/>
<line x1="377.78" y1="811.50" x2="398.02" y2="811.50" stroke="#000" stroke-width="0.85"/>
<circle cx="381.90" cy="811.50" r="1.05" fill="#000"/>
<circle cx="384.90" cy="810.30" r="1.05" fill="#000"/>
<circle cx="387.90" cy="811.50" r="1.05" fill="#000"/>
<circle cx="390.90" cy="810.30" r="1.05" fill="#000"/>
<circle cx="393.90" cy="811.50" r="1.05" fill="#000"/>
<circle cx="387.90" cy="813.30" r="1.05" fill="#000"/>
<path d="M419.78 806.58C419.86 806.93 420.07 808.04 420.30 808.68C420.53 809.32 420.65 809.85 421.18 810.43C421.70 811.02 422.49 811.60 423.45 812.19C424.42 812.77 425.91 813.35 426.96 813.94C428.01 814.52 429.64 815.11 429.76 815.69C429.88 816.27 428.59 816.86 427.66 817.44C426.72 818.03 425.06 818.61 424.16 819.19C423.25 819.78 422.64 820.27 422.23 820.95C421.82 821.62 421.91 822.35 421.70 823.22C421.50 824.10 421.06 825.33 421.00 826.20C420.94 827.08 421.06 827.69 421.35 828.48C421.64 829.27 422.72 830.14 422.75 830.93C422.78 831.72 421.94 832.51 421.53 833.21C421.12 833.91 420.59 834.55 420.30 835.14C420.01 835.72 419.86 836.45 419.78 836.71 L419.42 836.71C419.34 836.45 419.19 835.72 418.90 835.14C418.61 834.55 418.08 833.91 417.67 833.21C417.26 832.51 416.42 831.72 416.45 830.93C416.48 830.14 417.56 829.27 417.85 828.48C418.14 827.69 418.26 827.08 418.20 826.20C418.14 825.33 417.70 824.10 417.50 823.22C417.29 822.35 417.38 821.62 416.97 820.95C416.56 820.27 415.95 819.78 415.04 819.19C414.14 818.61 412.48 818.03 411.54 817.44C410.61 816.86 409.32 816.27 409.44 815.69C409.56 815.11 411.19 814.52 412.24 813.94C413.29 813.35 414.78 812.77 415.75 812.19C416.71 811.60 417.50 811.02 418.02 810.43C418.55 809.85 418.67 809.32 418.90 808.68C419.13 808.04 419.34 806.93 419.42 806.58Z" fill="#a6a6a6" stroke="#000" stroke-width="0.85" stroke-linejoin="round"/>
<line x1="409.45" y1="815.70" x2="429.75" y2="815.70" stroke="#000" stroke-width="0.85"/>
<rect x="413.36" y="815.22" width="2.70" height="2.70" fill="#0a0aff"/>
<rect x="418.27" y="813.99" width="2.70" height="2.70" fill="#0a0aff"/>
<rect x="422.12" y="813.99" width="2.70" height="2.70" fill="#0a0aff"/>
<rect x="418.27" y="821.87" width="2.70" height="2.70" fill="#0a0aff"/>
<rect x="418.27" y="829.58" width="2.70" height="2.70" fill="#0a0aff"/>
<line x1="410.50" y1="815.70" x2="428.70" y2="815.70" stroke="#0a0aff" stroke-width="0.5"/>
<path d="M387.50 804.00V800.50H419.50V804.00" fill="none" stroke="#000" stroke-width="0.9"/>
<text x="403.70" y="801.78" font-size="10.5" text-anchor="middle" font-weight="bold">*</text>
<text x="408.20" y="792.30" font-size="8.2" fill="#111"><tspan font-style="italic">P</tspan>=0.0139</text>
<text x="517.40" y="776.20" font-size="7.45" text-anchor="middle" font-weight="bold">Slc51b ileum</text>
<line x1="480.70" y1="786.88" x2="480.70" y2="836.22" stroke="#000" stroke-width="0.85"/>
<line x1="480.70" y1="835.80" x2="554.60" y2="835.80" stroke="#000" stroke-width="0.85"/>
<line x1="478.70" y1="787.30" x2="480.70" y2="787.30" stroke="#000" stroke-width="0.85"/>
<text x="478.30" y="789.89" font-size="7.3" text-anchor="end" font-weight="bold">2.0</text>
<line x1="478.70" y1="799.60" x2="480.70" y2="799.60" stroke="#000" stroke-width="0.85"/>
<text x="478.30" y="802.19" font-size="7.3" text-anchor="end" font-weight="bold">1.5</text>
<line x1="478.70" y1="811.50" x2="480.70" y2="811.50" stroke="#000" stroke-width="0.85"/>
<text x="478.30" y="814.09" font-size="7.3" text-anchor="end" font-weight="bold">1.0</text>
<line x1="478.70" y1="823.60" x2="480.70" y2="823.60" stroke="#000" stroke-width="0.85"/>
<text x="478.30" y="826.19" font-size="7.3" text-anchor="end" font-weight="bold">0.5</text>
<line x1="478.70" y1="835.80" x2="480.70" y2="835.80" stroke="#000" stroke-width="0.85"/>
<text x="478.30" y="838.39" font-size="7.3" text-anchor="end" font-weight="bold">0.0</text>
<text transform="translate(464.89 809.60) rotate(-90)" font-size="7.55" text-anchor="middle" font-weight="bold">relative expression</text>
<line x1="500.80" y1="835.80" x2="500.80" y2="837.80" stroke="#000" stroke-width="0.85"/>
<text x="500.80" y="845.79" font-size="7.3" text-anchor="middle" font-weight="bold">control</text>
<line x1="533.20" y1="835.80" x2="533.20" y2="837.80" stroke="#000" stroke-width="0.85"/>
<text x="533.20" y="845.79" font-size="7.3" text-anchor="middle" font-weight="bold">MI-883</text>
<line x1="480.70" y1="811.50" x2="554.60" y2="811.50" stroke="#222" stroke-width="0.6" stroke-dasharray="2.6 1.4"/>
<path d="M501.88 802.20C501.96 802.43 501.93 803.13 502.40 803.60C502.87 804.07 503.63 804.54 504.68 805.00C505.73 805.47 507.51 805.94 508.71 806.40C509.90 806.87 511.86 807.34 511.86 807.81C511.86 808.27 509.82 808.80 508.71 809.21C507.60 809.62 506.17 809.91 505.20 810.26C504.24 810.61 502.93 810.96 502.93 811.31C502.93 811.66 504.24 812.01 505.20 812.36C506.17 812.71 507.60 813.00 508.71 813.41C509.82 813.82 511.86 814.35 511.86 814.81C511.86 815.28 509.90 815.72 508.71 816.22C507.51 816.71 505.73 817.27 504.68 817.79C503.63 818.32 502.87 818.84 502.40 819.37C501.93 819.89 501.96 820.68 501.88 820.95 L501.52 820.95C501.44 820.68 501.47 819.89 501.00 819.37C500.53 818.84 499.77 818.32 498.72 817.79C497.67 817.27 495.89 816.71 494.69 816.22C493.50 815.72 491.54 815.28 491.54 814.81C491.54 814.35 493.58 813.82 494.69 813.41C495.80 813.00 497.23 812.71 498.20 812.36C499.16 812.01 500.47 811.66 500.47 811.31C500.47 810.96 499.16 810.61 498.20 810.26C497.23 809.91 495.80 809.62 494.69 809.21C493.58 808.80 491.54 808.27 491.54 807.81C491.54 807.34 493.50 806.87 494.69 806.40C495.89 805.94 497.67 805.47 498.72 805.00C499.77 804.54 500.53 804.07 501.00 803.60C501.47 803.13 501.44 802.43 501.52 802.20Z" fill="#f2f2f2" stroke="#000" stroke-width="0.85" stroke-linejoin="round"/>
<line x1="491.55" y1="807.80" x2="511.85" y2="807.80" stroke="#000" stroke-width="0.5"/>
<line x1="491.57" y1="814.80" x2="511.83" y2="814.80" stroke="#000" stroke-width="0.5"/>
<circle cx="499.58" cy="807.81" r="1.15" fill="#000"/>
<circle cx="503.78" cy="807.81" r="1.15" fill="#000"/>
<circle cx="499.58" cy="814.81" r="1.15" fill="#000"/>
<circle cx="503.78" cy="814.81" r="1.15" fill="#000"/>
<path d="M495.2 807.8L501.7 805.6999999999999L508.2 807.8L501.7 809.9Z" fill="none" stroke="#000" stroke-width="0.6"/>
<path d="M495.2 814.8L501.7 812.6999999999999L508.2 814.8L501.7 816.9Z" fill="none" stroke="#000" stroke-width="0.6"/>
<path d="M533.32 787.26C533.36 787.55 533.38 788.33 533.55 789.01C533.73 789.69 534.04 790.57 534.37 791.35C534.70 792.13 535.19 792.80 535.54 793.68C535.89 794.55 536.47 795.63 536.47 796.60C536.47 797.57 535.89 798.64 535.54 799.52C535.19 800.40 534.62 801.18 534.37 801.86C534.12 802.54 533.98 803.03 534.02 803.61C534.06 804.19 534.15 804.58 534.60 805.36C535.05 806.14 536.00 807.31 536.70 808.29C537.40 809.26 538.07 810.14 538.81 811.21C539.55 812.28 540.44 813.64 541.14 814.71C541.84 815.78 542.62 816.85 543.01 817.63C543.40 818.41 543.56 818.70 543.48 819.38C543.40 820.06 543.06 820.94 542.55 821.72C542.04 822.50 541.22 823.28 540.44 824.06C539.66 824.84 538.73 825.61 537.87 826.39C537.01 827.17 535.94 828.05 535.30 828.73C534.66 829.41 534.31 829.80 534.02 830.48C533.73 831.16 533.67 831.94 533.55 832.82C533.43 833.70 533.36 835.25 533.32 835.74 L533.08 835.74C533.04 835.25 532.97 833.70 532.85 832.82C532.73 831.94 532.67 831.16 532.38 830.48C532.09 829.80 531.74 829.41 531.10 828.73C530.46 828.05 529.39 827.17 528.53 826.39C527.67 825.61 526.74 824.84 525.96 824.06C525.18 823.28 524.36 822.50 523.85 821.72C523.34 820.94 523.00 820.06 522.92 819.38C522.84 818.70 523.00 818.41 523.39 817.63C523.78 816.85 524.56 815.78 525.26 814.71C525.96 813.64 526.85 812.28 527.59 811.21C528.33 810.14 529.00 809.26 529.70 808.29C530.40 807.31 531.35 806.14 531.80 805.36C532.25 804.58 532.34 804.19 532.38 803.61C532.42 803.03 532.28 802.54 532.03 801.86C531.78 801.18 531.21 800.40 530.86 799.52C530.51 798.64 529.93 797.57 529.93 796.60C529.93 795.63 530.51 794.55 530.86 793.68C531.21 792.80 531.70 792.13 532.03 791.35C532.36 790.57 532.68 789.69 532.85 789.01C533.02 788.33 533.04 787.55 533.08 787.26Z" fill="#a6a6a6" stroke="#000" stroke-width="0.85" stroke-linejoin="round"/>
<line x1="524.37" y1="822.30" x2="542.03" y2="822.30" stroke="#5a5aff" stroke-width="0.5"/>
<line x1="523.18" y1="818.40" x2="543.22" y2="818.40" stroke="#000" stroke-width="0.85"/>
<rect x="531.61" y="795.65" width="2.60" height="2.60" fill="#0a0aff"/>
<rect x="531.61" y="810.49" width="2.60" height="2.60" fill="#0a0aff"/>
<rect x="529.85" y="817.15" width="2.60" height="2.60" fill="#0a0aff"/>
<rect x="533.71" y="816.33" width="2.60" height="2.60" fill="#0a0aff"/>
<rect x="531.61" y="819.84" width="2.60" height="2.60" fill="#0a0aff"/>
<rect x="531.61" y="822.99" width="2.60" height="2.60" fill="#0a0aff"/>
<text x="628.10" y="776.20" font-size="7.45" text-anchor="middle" font-weight="bold">Abcc4 ileum</text>
<line x1="591.30" y1="786.88" x2="591.30" y2="836.22" stroke="#000" stroke-width="0.85"/>
<line x1="591.30" y1="835.80" x2="664.90" y2="835.80" stroke="#000" stroke-width="0.85"/>
<line x1="589.30" y1="787.30" x2="591.30" y2="787.30" stroke="#000" stroke-width="0.85"/>
<text x="588.90" y="789.89" font-size="7.3" text-anchor="end" font-weight="bold">4</text>
<line x1="589.30" y1="799.60" x2="591.30" y2="799.60" stroke="#000" stroke-width="0.85"/>
<text x="588.90" y="802.19" font-size="7.3" text-anchor="end" font-weight="bold">3</text>
<line x1="589.30" y1="811.50" x2="591.30" y2="811.50" stroke="#000" stroke-width="0.85"/>
<text x="588.90" y="814.09" font-size="7.3" text-anchor="end" font-weight="bold">2</text>
<line x1="589.30" y1="823.60" x2="591.30" y2="823.60" stroke="#000" stroke-width="0.85"/>
<text x="588.90" y="826.19" font-size="7.3" text-anchor="end" font-weight="bold">1</text>
<line x1="589.30" y1="835.80" x2="591.30" y2="835.80" stroke="#000" stroke-width="0.85"/>
<text x="588.90" y="838.39" font-size="7.3" text-anchor="end" font-weight="bold">0</text>
<text transform="translate(581.99 809.60) rotate(-90)" font-size="7.55" text-anchor="middle" font-weight="bold">relative expression</text>
<line x1="611.10" y1="835.80" x2="611.10" y2="837.80" stroke="#000" stroke-width="0.85"/>
<text x="611.10" y="845.79" font-size="7.3" text-anchor="middle" font-weight="bold">control</text>
<line x1="643.80" y1="835.80" x2="643.80" y2="837.80" stroke="#000" stroke-width="0.85"/>
<text x="643.80" y="845.79" font-size="7.3" text-anchor="middle" font-weight="bold">MI-883</text>
<line x1="591.30" y1="823.60" x2="664.90" y2="823.60" stroke="#222" stroke-width="0.6" stroke-dasharray="2.6 1.4"/>
<path d="M612.48 814.46C612.56 814.70 612.56 815.40 613.00 815.86C613.44 816.33 614.11 816.80 615.10 817.27C616.10 817.73 617.73 818.20 618.96 818.67C620.18 819.14 622.40 819.60 622.46 820.07C622.52 820.54 620.24 821.03 619.31 821.47C618.37 821.91 617.38 822.35 616.86 822.70C616.33 823.05 616.15 823.28 616.15 823.57C616.15 823.87 616.33 824.10 616.86 824.45C617.38 824.80 618.37 825.24 619.31 825.68C620.24 826.11 622.46 826.61 622.46 827.08C622.46 827.54 620.42 828.01 619.31 828.48C618.20 828.95 616.80 829.38 615.80 829.88C614.81 830.38 613.91 830.90 613.35 831.46C612.80 832.01 612.62 832.92 612.48 833.21 L612.12 833.21C611.98 832.92 611.80 832.01 611.25 831.46C610.69 830.90 609.79 830.38 608.80 829.88C607.80 829.38 606.40 828.95 605.29 828.48C604.18 828.01 602.14 827.54 602.14 827.08C602.14 826.61 604.36 826.11 605.29 825.68C606.23 825.24 607.22 824.80 607.74 824.45C608.27 824.10 608.45 823.87 608.45 823.57C608.45 823.28 608.27 823.05 607.74 822.70C607.22 822.35 606.23 821.91 605.29 821.47C604.36 821.03 602.08 820.54 602.14 820.07C602.20 819.60 604.42 819.14 605.64 818.67C606.87 818.20 608.50 817.73 609.50 817.27C610.49 816.80 611.16 816.33 611.60 815.86C612.04 815.40 612.04 814.70 612.12 814.46Z" fill="#e6e6e6" stroke="#000" stroke-width="0.85" stroke-linejoin="round"/>
<line x1="602.21" y1="820.10" x2="622.39" y2="820.10" stroke="#000" stroke-width="0.5"/>
<line x1="602.19" y1="827.10" x2="622.41" y2="827.10" stroke="#000" stroke-width="0.5"/>
<circle cx="610.20" cy="820.42" r="1.15" fill="#000"/>
<circle cx="614.40" cy="819.72" r="1.15" fill="#000"/>
<circle cx="610.20" cy="827.43" r="1.15" fill="#000"/>
<circle cx="614.40" cy="826.73" r="1.15" fill="#000"/>
<path d="M643.8 801.7C644.3 805 646 806.5 649 808.7C652.5 811.2 654 811.8 654 813.5C654 817 651.5 821 650.5 825C649.8 828 649.6 831 648.6 833.5C648.2 834.6 647.8 835.8 647.3 835.8H640.3C639.8 835.8 639.4 834.6 639 833.5C638 831 637.8 828 637.1 825C636.1 821 633.6 817 633.6 813.5C633.6 811.8 635.1 811.2 638.6 808.7C641.6 806.5 643.3 805 643.8 801.7Z" fill="#a6a6a6" stroke="#000" stroke-width="0.7"/>
<line x1="634.00" y1="812.70" x2="653.60" y2="812.70" stroke="#0a0aff" stroke-width="0.5"/>
<line x1="634.60" y1="819.20" x2="653.00" y2="819.20" stroke="#000" stroke-width="0.7"/>
<line x1="637.60" y1="826.50" x2="650.00" y2="826.50" stroke="#0a0aff" stroke-width="0.5"/>
<rect x="640.93" y="811.91" width="2.30" height="2.30" fill="#0a0aff"/>
<rect x="644.79" y="810.69" width="2.30" height="2.30" fill="#0a0aff"/>
<rect x="642.69" y="816.29" width="2.30" height="2.30" fill="#0a0aff"/>
<rect x="642.69" y="819.80" width="2.30" height="2.30" fill="#0a0aff"/>
<rect x="642.69" y="825.40" width="2.30" height="2.30" fill="#0a0aff"/>
<rect x="642.69" y="831.53" width="2.30" height="2.30" fill="#0a0aff"/>
</svg>
</body></html>
